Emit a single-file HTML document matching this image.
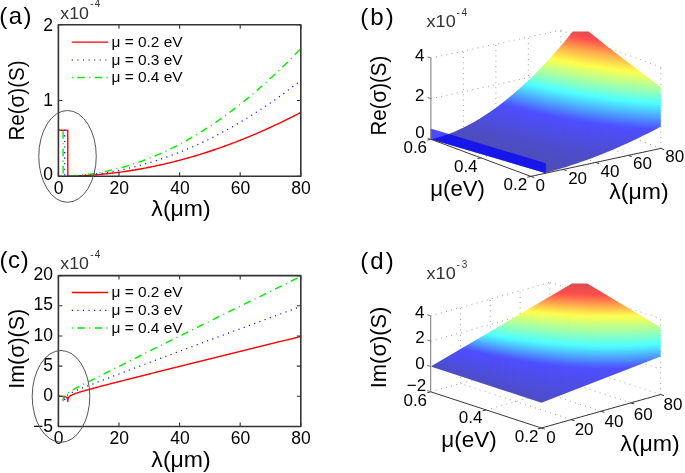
<!DOCTYPE html>
<html><head><meta charset="utf-8"><style>
html,body{margin:0;padding:0;background:#fff;}
svg{display:block;will-change:transform;}
text{font-family:'Liberation Sans',sans-serif;}
</style></head><body>
<svg width="685" height="473" viewBox="0 0 685 473">
<rect x="0" y="0" width="685" height="473" fill="#fff"/>
<clipPath id="clipa"><rect x="58.4" y="24.8" width="242.4" height="151.5"/></clipPath>
<path d="M58.70,130.20 L58.76,130.20 L58.82,130.20 L58.88,130.20 L58.95,130.20 L59.01,130.20 L59.07,130.20 L59.13,130.20 L59.19,130.20 L59.25,130.20 L59.31,130.20 L59.37,130.20 L59.43,130.20 L59.49,130.20 L59.55,130.20 L59.61,130.20 L59.67,130.20 L59.73,130.20 L59.79,130.20 L59.85,130.20 L59.91,130.20 L59.98,130.20 L60.04,130.20 L60.10,130.20 L60.16,130.20 L60.22,130.20 L60.28,130.20 L60.34,130.20 L60.40,130.20 L60.46,130.20 L60.52,130.20 L60.58,130.20 L60.64,130.20 L60.70,130.20 L60.76,130.20 L60.82,130.20 L60.88,130.20 L60.95,130.20 L61.01,130.20 L61.07,130.20 L61.13,130.20 L61.19,130.20 L61.25,130.19 L61.31,130.19 L61.37,130.19 L61.43,130.19 L61.49,130.19 L61.55,130.19 L61.61,130.19 L61.67,130.19 L61.73,130.19 L61.79,130.19 L61.85,130.19 L61.91,130.19 L61.98,130.19 L62.04,130.19 L62.10,130.19 L62.16,130.19 L62.22,130.19 L62.28,130.19 L62.34,130.19 L62.40,130.19 L62.46,130.19 L62.52,130.18 L62.58,130.18 L62.64,130.18 L62.70,130.18 L62.76,130.18 L62.82,130.18 L62.88,130.18 L62.95,130.18 L63.01,130.18 L63.07,130.18 L63.13,130.18 L63.19,130.18 L63.25,130.18 L63.31,130.18 L63.37,130.18 L63.43,130.18 L63.49,130.18 L63.55,130.17 L63.61,130.17 L63.67,130.17 L63.73,130.17 L63.79,130.17 L63.85,130.17 L63.91,130.17 L63.98,130.17 L64.04,130.17 L64.10,130.17 L64.16,130.17 L64.22,130.17 L64.28,130.17 L64.34,130.16 L64.40,130.16 L64.46,130.16 L64.52,130.16 L64.58,130.16 L64.64,130.16 L64.70,130.16 L64.76,130.16 L64.82,130.16 L64.88,130.16 L64.94,130.16 L65.01,130.16 L65.07,130.15 L65.13,130.15 L65.19,130.15 L65.25,130.15 L65.31,130.15 L65.37,130.15 L65.43,130.15 L65.49,130.15 L65.55,130.15 L65.61,130.15 L65.67,130.15 L65.73,130.14 L65.79,130.14 L65.85,130.14 L65.91,130.14 L65.97,130.14 L66.04,130.14 L66.10,130.14 L66.16,130.14 L66.22,130.14 L66.28,130.14 L66.34,130.13 L66.40,130.13 L66.46,130.13 L66.52,130.13 L66.58,130.13 L66.64,130.13 L66.70,130.13 L66.76,130.13 L66.82,130.13 L66.88,130.12 L66.94,130.12 L67.01,130.12 L67.07,130.12 L67.13,130.12 L67.19,130.12 L67.25,130.12 L67.31,130.12 L67.37,130.12 L67.43,130.11 L67.49,130.11 L67.55,130.11 L67.61,130.11 L67.67,130.11 L67.73,130.11 L67.79,176.20 L67.85,176.20 L67.91,176.20 L67.97,176.20 L68.04,176.20 L68.10,176.20 L68.16,176.20 L68.22,176.19 L68.28,176.19 L68.34,176.19 L68.40,176.19 L68.46,176.19 L68.52,176.19 L68.58,176.19 L68.64,176.19 L68.70,176.18 L68.76,176.18 L68.82,176.18 L68.88,176.18 L68.94,176.18 L69.00,176.18 L69.07,176.18 L69.13,176.17 L69.19,176.17 L69.25,176.17 L69.31,176.17 L69.37,176.17 L69.43,176.17 L69.49,176.17 L69.55,176.16 L69.61,176.16 L69.67,176.16 L69.73,176.16 L69.79,176.16 L69.85,176.16 L69.91,176.15 L69.97,176.15 L70.04,176.15 L70.10,176.15 L70.16,176.15 L70.22,176.15 L70.28,176.15 L70.34,176.14 L70.40,176.14 L70.46,176.14 L70.52,176.14 L70.58,176.14 L70.64,176.14 L70.70,176.13 L70.76,176.13 L70.82,176.13 L70.88,176.13 L70.94,176.13 L71.00,176.13 L71.07,176.12 L71.13,176.12 L71.19,176.12 L71.25,176.12 L71.31,176.12 L71.37,176.12 L71.43,176.11 L71.49,176.11 L71.55,176.11 L71.61,176.11 L71.67,176.11 L71.73,176.11 L71.79,176.10 L71.85,176.10 L71.91,176.10 L71.97,176.10 L72.03,176.10 L72.10,176.09 L72.16,176.09 L72.22,176.09 L72.28,176.09 L72.34,176.09 L72.40,176.09 L72.46,176.08 L72.52,176.08 L72.58,176.08 L72.64,176.08 L72.70,176.08 L72.76,176.07 L72.82,176.07 L72.88,176.07 L72.94,176.07 L73.00,176.07 L73.07,176.06 L73.13,176.06 L73.19,176.06 L73.25,176.06 L73.31,176.06 L73.37,176.05 L73.43,176.05 L73.49,176.05 L73.55,176.05 L73.61,176.05 L73.67,176.04 L73.73,176.04 L73.79,176.04 L73.85,176.04 L73.91,176.04 L73.97,176.03 L74.03,176.03 L74.10,176.03 L74.16,176.03 L74.22,176.03 L74.28,176.02 L74.34,176.02 L74.40,176.02 L74.46,176.02 L74.52,176.02 L74.58,176.01 L74.64,176.01 L74.70,176.01 L74.76,176.01 L74.82,176.00 L74.88,176.00 L74.94,176.00 L75.00,176.00 L75.06,176.00 L75.13,175.99 L75.19,175.99 L75.25,175.99 L75.31,175.99 L75.37,175.98 L75.43,175.98 L75.49,175.98 L75.55,175.98 L75.61,175.98 L75.67,175.97 L75.73,175.97 L75.79,175.97 L75.85,175.97 L75.91,175.96 L75.97,175.96 L76.03,175.96 L76.10,175.96 L76.16,175.95 L76.22,175.95 L76.28,175.95 L76.34,175.95 L76.40,175.95 L76.46,175.94 L76.52,175.94 L76.58,175.94 L76.64,175.94 L76.70,175.93 L76.76,175.93 L76.82,175.93 L76.88,175.93 L76.94,175.92 L77.00,175.92 L77.06,175.92 L77.13,175.92 L77.19,175.91 L77.25,175.91 L77.31,175.91 L77.37,175.91 L77.43,175.90 L77.49,175.90 L77.55,175.90 L77.61,175.90 L77.67,175.89 L77.73,175.89 L77.79,175.89 L77.85,175.89 L77.91,175.88 L77.97,175.88 L78.03,175.88 L78.09,175.88 L78.16,175.87 L78.22,175.87 L78.28,175.87 L78.34,175.86 L78.40,175.86 L78.46,175.86 L78.52,175.86 L78.58,175.85 L78.64,175.85 L78.70,175.85 L78.76,175.85 L78.82,175.84 L78.88,175.84 L78.94,175.84 L79.00,175.84 L79.06,175.83 L79.13,175.83 L79.19,175.83 L79.25,175.82 L79.31,175.82 L79.37,175.82 L79.43,175.82 L79.49,175.81 L79.55,175.81 L79.61,175.81 L79.67,175.80 L79.73,175.80 L79.79,175.80 L79.85,175.80 L79.91,175.79 L79.97,175.79 L80.03,175.79 L80.09,175.78 L80.16,175.78 L80.22,175.78 L80.28,175.78 L80.34,175.77 L80.40,175.77 L80.46,175.77 L80.52,175.76 L80.58,175.76 L80.64,175.76 L80.70,175.76 L80.76,175.75 L80.82,175.75 L80.88,175.75 L80.94,175.74 L81.00,175.74 L81.06,175.74 L81.12,175.73 L81.19,175.73 L81.25,175.73 L81.31,175.73 L81.37,175.72 L81.43,175.72 L81.49,175.72 L81.55,175.71 L81.61,175.71 L81.67,175.71 L81.73,175.70 L81.79,175.70 L81.85,175.70 L81.91,175.69 L81.97,175.69 L82.03,175.69 L82.09,175.69 L82.16,175.68 L82.22,175.68 L82.28,175.68 L82.34,175.67 L82.40,175.67 L82.46,175.67 L82.52,175.66 L82.58,175.66 L82.64,175.66 L82.70,175.65 L82.76,175.65 L82.82,175.65 L82.88,175.64 L82.94,175.64 L83.00,175.64 L83.06,175.63 L83.12,175.63 L83.19,175.63 L83.25,175.62 L83.31,175.62 L83.37,175.62 L83.43,175.61 L83.49,175.61 L83.55,175.61 L83.61,175.60 L83.67,175.60 L83.73,175.60 L83.79,175.59 L83.85,175.59 L83.91,175.59 L83.97,175.58 L84.03,175.58 L84.09,175.58 L84.16,175.57 L84.22,175.57 L84.28,175.57 L84.34,175.56 L84.40,175.56 L84.46,175.56 L84.52,175.55 L84.58,175.55 L84.64,175.55 L84.70,175.54 L84.76,175.54 L84.82,175.54 L84.88,175.53 L84.94,175.53 L85.00,175.53 L85.06,175.52 L85.12,175.52 L85.19,175.51 L85.25,175.51 L85.31,175.51 L85.37,175.50 L85.43,175.50 L85.49,175.50 L85.55,175.49 L85.61,175.49 L85.67,175.49 L85.73,175.48 L85.79,175.48 L85.85,175.47 L85.91,175.47 L85.97,175.47 L86.03,175.46 L86.09,175.46 L86.15,175.46 L86.22,175.45 L86.28,175.45 L86.34,175.45 L86.40,175.44 L86.46,175.44 L86.52,175.43 L86.58,175.43 L86.64,175.43 L86.70,175.42 L86.76,175.42 L86.82,175.42 L86.88,175.41 L86.94,175.41 L87.00,175.40 L87.06,175.40 L87.12,175.40 L87.19,175.39 L87.25,175.39 L87.31,175.39 L87.37,175.38 L87.43,175.38 L87.49,175.37 L87.55,175.37 L87.61,175.37 L87.67,175.36 L87.73,175.36 L87.79,175.35 L87.85,175.35 L87.91,175.35 L87.97,175.34 L88.03,175.34 L88.09,175.33 L88.15,175.33 L88.22,175.33 L88.28,175.32 L88.34,175.32 L88.40,175.31 L88.46,175.31 L88.52,175.31 L88.58,175.30 L88.64,175.30 L88.70,175.29 L90.22,175.19 L91.73,175.08 L93.25,174.97 L94.76,174.85 L96.28,174.73 L97.79,174.60 L99.31,174.47 L100.82,174.33 L102.34,174.19 L103.85,174.04 L105.37,173.89 L106.88,173.73 L108.39,173.56 L109.91,173.40 L111.42,173.22 L112.94,173.04 L114.46,172.86 L115.97,172.67 L117.48,172.48 L119.00,172.28 L120.51,172.08 L122.03,171.87 L123.55,171.66 L125.06,171.44 L126.57,171.21 L128.09,170.99 L129.61,170.75 L131.12,170.51 L132.63,170.27 L134.15,170.02 L135.66,169.77 L137.18,169.51 L138.69,169.25 L140.21,168.98 L141.72,168.70 L143.24,168.43 L144.75,168.14 L146.27,167.85 L147.78,167.56 L149.30,167.26 L150.81,166.96 L152.33,166.65 L153.84,166.34 L155.36,166.02 L156.88,165.69 L158.39,165.37 L159.91,165.03 L161.42,164.69 L162.94,164.35 L164.45,164.00 L165.97,163.65 L167.48,163.29 L169.00,162.93 L170.51,162.56 L172.03,162.19 L173.54,161.81 L175.06,161.42 L176.57,161.04 L178.09,160.64 L179.60,160.25 L181.12,159.84 L182.63,159.43 L184.15,159.02 L185.66,158.60 L187.18,158.18 L188.69,157.75 L190.21,157.32 L191.72,156.88 L193.24,156.44 L194.75,155.99 L196.27,155.54 L197.78,155.08 L199.30,154.62 L200.81,154.15 L202.33,153.68 L203.84,153.20 L205.35,152.72 L206.87,152.23 L208.39,151.74 L209.90,151.24 L211.42,150.74 L212.93,150.23 L214.45,149.72 L215.96,149.20 L217.47,148.68 L218.99,148.15 L220.50,147.62 L222.02,147.08 L223.54,146.54 L225.05,145.99 L226.57,145.44 L228.08,144.89 L229.59,144.33 L231.11,143.76 L232.62,143.19 L234.14,142.61 L235.66,142.03 L237.17,141.44 L238.69,140.85 L240.20,140.26 L241.72,139.66 L243.23,139.05 L244.75,138.44 L246.26,137.83 L247.78,137.20 L249.29,136.58 L250.81,135.95 L252.32,135.31 L253.84,134.67 L255.35,134.03 L256.87,133.38 L258.38,132.73 L259.89,132.07 L261.41,131.40 L262.93,130.73 L264.44,130.06 L265.95,129.38 L267.47,128.70 L268.98,128.01 L270.50,127.31 L272.01,126.62 L273.53,125.91 L275.05,125.20 L276.56,124.49 L278.07,123.77 L279.59,123.05 L281.11,122.32 L282.62,121.59 L284.13,120.85 L285.65,120.11 L287.17,119.36 L288.68,118.61 L290.19,117.86 L291.71,117.09 L293.22,116.33 L294.74,115.56 L296.25,114.78 L297.77,114.00 L299.28,113.22 L300.80,112.43" fill="none" stroke="#ff0000" stroke-width="1.4"  stroke-linejoin="round" clip-path="url(#clipa)"/>
<path d="M58.70,130.20 L58.76,130.20 L58.82,130.20 L58.88,130.20 L58.95,130.20 L59.01,130.20 L59.07,130.20 L59.13,130.20 L59.19,130.20 L59.25,130.20 L59.31,130.20 L59.37,130.20 L59.43,130.20 L59.49,130.20 L59.55,130.20 L59.61,130.20 L59.67,130.20 L59.73,130.20 L59.79,130.20 L59.85,130.20 L59.91,130.20 L59.98,130.20 L60.04,130.20 L60.10,130.20 L60.16,130.20 L60.22,130.20 L60.28,130.20 L60.34,130.20 L60.40,130.20 L60.46,130.20 L60.52,130.20 L60.58,130.20 L60.64,130.20 L60.70,130.19 L60.76,130.19 L60.82,130.19 L60.88,130.19 L60.95,130.19 L61.01,130.19 L61.07,130.19 L61.13,130.19 L61.19,130.19 L61.25,130.19 L61.31,130.19 L61.37,130.19 L61.43,130.19 L61.49,130.19 L61.55,130.19 L61.61,130.19 L61.67,130.19 L61.73,130.19 L61.79,130.18 L61.85,130.18 L61.91,130.18 L61.98,130.18 L62.04,130.18 L62.10,130.18 L62.16,130.18 L62.22,130.18 L62.28,130.18 L62.34,130.18 L62.40,130.18 L62.46,130.18 L62.52,130.18 L62.58,130.17 L62.64,130.17 L62.70,130.17 L62.76,130.17 L62.82,130.17 L62.88,130.17 L62.95,130.17 L63.01,130.17 L63.07,130.17 L63.13,130.17 L63.19,130.17 L63.25,130.16 L63.31,130.16 L63.37,130.16 L63.43,130.16 L63.49,130.16 L63.55,130.16 L63.61,130.16 L63.67,130.16 L63.73,130.16 L63.79,130.16 L63.85,130.15 L63.91,130.15 L63.98,130.15 L64.04,130.15 L64.10,130.15 L64.16,130.15 L64.22,130.15 L64.28,130.15 L64.34,130.15 L64.40,130.14 L64.46,130.14 L64.52,130.14 L64.58,130.14 L64.64,130.14 L64.70,176.23 L64.76,176.23 L64.82,176.23 L64.88,176.23 L64.94,176.23 L65.01,176.23 L65.07,176.23 L65.13,176.23 L65.19,176.22 L65.25,176.22 L65.31,176.22 L65.37,176.22 L65.43,176.22 L65.49,176.22 L65.55,176.22 L65.61,176.21 L65.67,176.21 L65.73,176.21 L65.79,176.21 L65.85,176.21 L65.91,176.21 L65.97,176.21 L66.04,176.20 L66.10,176.20 L66.16,176.20 L66.22,176.20 L66.28,176.20 L66.34,176.20 L66.40,176.19 L66.46,176.19 L66.52,176.19 L66.58,176.19 L66.64,176.19 L66.70,176.19 L66.76,176.19 L66.82,176.18 L66.88,176.18 L66.94,176.18 L67.01,176.18 L67.07,176.18 L67.13,176.17 L67.19,176.17 L67.25,176.17 L67.31,176.17 L67.37,176.17 L67.43,176.17 L67.49,176.16 L67.55,176.16 L67.61,176.16 L67.67,176.16 L67.73,176.16 L67.79,176.16 L67.85,176.15 L67.91,176.15 L67.97,176.15 L68.04,176.15 L68.10,176.15 L68.16,176.14 L68.22,176.14 L68.28,176.14 L68.34,176.14 L68.40,176.14 L68.46,176.13 L68.52,176.13 L68.58,176.13 L68.64,176.13 L68.70,176.13 L68.76,176.12 L68.82,176.12 L68.88,176.12 L68.94,176.12 L69.00,176.12 L69.07,176.11 L69.13,176.11 L69.19,176.11 L69.25,176.11 L69.31,176.10 L69.37,176.10 L69.43,176.10 L69.49,176.10 L69.55,176.10 L69.61,176.09 L69.67,176.09 L69.73,176.09 L69.79,176.09 L69.85,176.08 L69.91,176.08 L69.97,176.08 L70.04,176.08 L70.10,176.08 L70.16,176.07 L70.22,176.07 L70.28,176.07 L70.34,176.07 L70.40,176.06 L70.46,176.06 L70.52,176.06 L70.58,176.06 L70.64,176.05 L70.70,176.05 L70.76,176.05 L70.82,176.05 L70.88,176.04 L70.94,176.04 L71.00,176.04 L71.07,176.04 L71.13,176.03 L71.19,176.03 L71.25,176.03 L71.31,176.03 L71.37,176.02 L71.43,176.02 L71.49,176.02 L71.55,176.02 L71.61,176.01 L71.67,176.01 L71.73,176.01 L71.79,176.01 L71.85,176.00 L71.91,176.00 L71.97,176.00 L72.03,175.99 L72.10,175.99 L72.16,175.99 L72.22,175.99 L72.28,175.98 L72.34,175.98 L72.40,175.98 L72.46,175.98 L72.52,175.97 L72.58,175.97 L72.64,175.97 L72.70,175.96 L72.76,175.96 L72.82,175.96 L72.88,175.96 L72.94,175.95 L73.00,175.95 L73.07,175.95 L73.13,175.94 L73.19,175.94 L73.25,175.94 L73.31,175.94 L73.37,175.93 L73.43,175.93 L73.49,175.93 L73.55,175.92 L73.61,175.92 L73.67,175.92 L73.73,175.91 L73.79,175.91 L73.85,175.91 L73.91,175.90 L73.97,175.90 L74.03,175.90 L74.10,175.90 L74.16,175.89 L74.22,175.89 L74.28,175.89 L74.34,175.88 L74.40,175.88 L74.46,175.88 L74.52,175.87 L74.58,175.87 L74.64,175.87 L74.70,175.86 L74.76,175.86 L74.82,175.86 L74.88,175.85 L74.94,175.85 L75.00,175.85 L75.06,175.84 L75.13,175.84 L75.19,175.84 L75.25,175.83 L75.31,175.83 L75.37,175.83 L75.43,175.82 L75.49,175.82 L75.55,175.82 L75.61,175.81 L75.67,175.81 L75.73,175.81 L75.79,175.80 L75.85,175.80 L75.91,175.80 L75.97,175.79 L76.03,175.79 L76.10,175.79 L76.16,175.78 L76.22,175.78 L76.28,175.78 L76.34,175.77 L76.40,175.77 L76.46,175.76 L76.52,175.76 L76.58,175.76 L76.64,175.75 L76.70,175.75 L76.76,175.75 L76.82,175.74 L76.88,175.74 L76.94,175.74 L77.00,175.73 L77.06,175.73 L77.13,175.72 L77.19,175.72 L77.25,175.72 L77.31,175.71 L77.37,175.71 L77.43,175.71 L77.49,175.70 L77.55,175.70 L77.61,175.69 L77.67,175.69 L77.73,175.69 L77.79,175.68 L77.85,175.68 L77.91,175.67 L77.97,175.67 L78.03,175.67 L78.09,175.66 L78.16,175.66 L78.22,175.66 L78.28,175.65 L78.34,175.65 L78.40,175.64 L78.46,175.64 L78.52,175.64 L78.58,175.63 L78.64,175.63 L78.70,175.62 L78.76,175.62 L78.82,175.62 L78.88,175.61 L78.94,175.61 L79.00,175.60 L79.06,175.60 L79.13,175.59 L79.19,175.59 L79.25,175.59 L79.31,175.58 L79.37,175.58 L79.43,175.57 L79.49,175.57 L79.55,175.57 L79.61,175.56 L79.67,175.56 L79.73,175.55 L79.79,175.55 L79.85,175.54 L79.91,175.54 L79.97,175.54 L80.03,175.53 L80.09,175.53 L80.16,175.52 L80.22,175.52 L80.28,175.51 L80.34,175.51 L80.40,175.51 L80.46,175.50 L80.52,175.50 L80.58,175.49 L80.64,175.49 L80.70,175.48 L80.76,175.48 L80.82,175.47 L80.88,175.47 L80.94,175.47 L81.00,175.46 L81.06,175.46 L81.12,175.45 L81.19,175.45 L81.25,175.44 L81.31,175.44 L81.37,175.43 L81.43,175.43 L81.49,175.42 L81.55,175.42 L81.61,175.42 L81.67,175.41 L81.73,175.41 L81.79,175.40 L81.85,175.40 L81.91,175.39 L81.97,175.39 L82.03,175.38 L82.09,175.38 L82.16,175.37 L82.22,175.37 L82.28,175.36 L82.34,175.36 L82.40,175.35 L82.46,175.35 L82.52,175.34 L82.58,175.34 L82.64,175.34 L82.70,175.33 L82.76,175.33 L82.82,175.32 L82.88,175.32 L82.94,175.31 L83.00,175.31 L83.06,175.30 L83.12,175.30 L83.19,175.29 L83.25,175.29 L83.31,175.28 L83.37,175.28 L83.43,175.27 L83.49,175.27 L83.55,175.26 L83.61,175.26 L83.67,175.25 L83.73,175.25 L83.79,175.24 L83.85,175.24 L83.91,175.23 L83.97,175.23 L84.03,175.22 L84.09,175.22 L84.16,175.21 L84.22,175.21 L84.28,175.20 L84.34,175.20 L84.40,175.19 L84.46,175.18 L84.52,175.18 L84.58,175.17 L84.64,175.17 L84.70,175.16 L84.76,175.16 L84.82,175.15 L84.88,175.15 L84.94,175.14 L85.00,175.14 L85.06,175.13 L85.12,175.13 L85.19,175.12 L85.25,175.12 L85.31,175.11 L85.37,175.11 L85.43,175.10 L85.49,175.09 L85.55,175.09 L85.61,175.08 L85.67,175.08 L85.73,175.07 L85.79,175.07 L85.85,175.06 L85.91,175.06 L85.97,175.05 L86.03,175.05 L86.09,175.04 L86.15,175.03 L86.22,175.03 L86.28,175.02 L86.34,175.02 L86.40,175.01 L86.46,175.01 L86.52,175.00 L86.58,175.00 L86.64,174.99 L86.70,174.98 L86.76,174.98 L86.82,174.97 L86.88,174.97 L86.94,174.96 L87.00,174.96 L87.06,174.95 L87.12,174.95 L87.19,174.94 L87.25,174.93 L87.31,174.93 L87.37,174.92 L87.43,174.92 L87.49,174.91 L87.55,174.90 L87.61,174.90 L87.67,174.89 L87.73,174.89 L87.79,174.88 L87.85,174.88 L87.91,174.87 L87.97,174.86 L88.03,174.86 L88.09,174.85 L88.15,174.85 L88.22,174.84 L88.28,174.83 L88.34,174.83 L88.40,174.82 L88.46,174.82 L88.52,174.81 L88.58,174.80 L88.64,174.80 L88.70,174.79 L90.22,174.64 L91.73,174.48 L93.25,174.31 L94.76,174.13 L96.28,173.94 L97.79,173.75 L99.31,173.55 L100.82,173.35 L102.34,173.13 L103.85,172.91 L105.37,172.68 L106.88,172.44 L108.39,172.20 L109.91,171.94 L111.42,171.68 L112.94,171.42 L114.46,171.14 L115.97,170.86 L117.48,170.57 L119.00,170.27 L120.51,169.97 L122.03,169.65 L123.55,169.33 L125.06,169.01 L126.57,168.67 L128.09,168.33 L129.61,167.98 L131.12,167.62 L132.63,167.26 L134.15,166.88 L135.66,166.50 L137.18,166.11 L138.69,165.72 L140.21,165.32 L141.72,164.91 L143.24,164.49 L144.75,164.06 L146.27,163.63 L147.78,163.19 L149.30,162.74 L150.81,162.29 L152.33,161.83 L153.84,161.35 L155.36,160.88 L156.88,160.39 L158.39,159.90 L159.91,159.40 L161.42,158.89 L162.94,158.38 L164.45,157.85 L165.97,157.32 L167.48,156.79 L169.00,156.24 L170.51,155.69 L172.03,155.13 L173.54,154.56 L175.06,153.99 L176.57,153.40 L178.09,152.81 L179.60,152.22 L181.12,151.61 L182.63,151.00 L184.15,150.38 L185.66,149.75 L187.18,149.12 L188.69,148.48 L190.21,147.83 L191.72,147.17 L193.24,146.51 L194.75,145.84 L196.27,145.16 L197.78,144.47 L199.30,143.78 L200.81,143.07 L202.33,142.37 L203.84,141.65 L205.35,140.93 L206.87,140.19 L208.39,139.46 L209.90,138.71 L211.42,137.96 L212.93,137.20 L214.45,136.43 L215.96,135.65 L217.47,134.87 L218.99,134.08 L220.50,133.28 L222.02,132.47 L223.54,131.66 L225.05,130.84 L226.57,130.01 L228.08,129.18 L229.59,128.34 L231.11,127.49 L232.62,126.63 L234.14,125.77 L235.66,124.90 L237.17,124.02 L238.69,123.13 L240.20,122.24 L241.72,121.34 L243.23,120.43 L244.75,119.51 L246.26,118.59 L247.78,117.66 L249.29,116.72 L250.81,115.77 L252.32,114.82 L253.84,113.86 L255.35,112.89 L256.87,111.92 L258.38,110.94 L259.89,109.95 L261.41,108.95 L262.93,107.95 L264.44,106.94 L265.95,105.92 L267.47,104.89 L268.98,103.86 L270.50,102.82 L272.01,101.77 L273.53,100.72 L275.05,99.66 L276.56,98.59 L278.07,97.51 L279.59,96.43 L281.11,95.33 L282.62,94.24 L284.13,93.13 L285.65,92.02 L287.17,90.90 L288.68,89.77 L290.19,88.63 L291.71,87.49 L293.22,86.34 L294.74,85.19 L296.25,84.02 L297.77,82.85 L299.28,81.67 L300.80,80.49" fill="none" stroke="#0000ff" stroke-width="1.2" stroke-dasharray="1.1 4.47" stroke-linejoin="round" clip-path="url(#clipa)"/>
<path d="M58.70,130.20 L58.76,130.20 L58.82,130.20 L58.88,130.20 L58.95,130.20 L59.01,130.20 L59.07,130.20 L59.13,130.20 L59.19,130.20 L59.25,130.20 L59.31,130.20 L59.37,130.20 L59.43,130.20 L59.49,130.20 L59.55,130.20 L59.61,130.20 L59.67,130.20 L59.73,130.20 L59.79,130.20 L59.85,130.20 L59.91,130.20 L59.98,130.20 L60.04,130.20 L60.10,130.20 L60.16,130.20 L60.22,130.20 L60.28,130.20 L60.34,130.20 L60.40,130.19 L60.46,130.19 L60.52,130.19 L60.58,130.19 L60.64,130.19 L60.70,130.19 L60.76,130.19 L60.82,130.19 L60.88,130.19 L60.95,130.19 L61.01,130.19 L61.07,130.19 L61.13,130.19 L61.19,130.19 L61.25,130.19 L61.31,130.19 L61.37,130.18 L61.43,130.18 L61.49,130.18 L61.55,130.18 L61.61,130.18 L61.67,130.18 L61.73,130.18 L61.79,130.18 L61.85,130.18 L61.91,130.18 L61.98,130.18 L62.04,130.17 L62.10,130.17 L62.16,130.17 L62.22,130.17 L62.28,130.17 L62.34,130.17 L62.40,130.17 L62.46,130.17 L62.52,130.17 L62.58,130.17 L62.64,130.16 L62.70,130.16 L62.76,130.16 L62.82,130.16 L62.88,130.16 L62.95,130.16 L63.01,130.16 L63.07,130.16 L63.13,176.25 L63.19,176.25 L63.25,176.25 L63.31,176.25 L63.37,176.25 L63.43,176.24 L63.49,176.24 L63.55,176.24 L63.61,176.24 L63.67,176.24 L63.73,176.24 L63.79,176.24 L63.85,176.23 L63.91,176.23 L63.98,176.23 L64.04,176.23 L64.10,176.23 L64.16,176.23 L64.22,176.23 L64.28,176.22 L64.34,176.22 L64.40,176.22 L64.46,176.22 L64.52,176.22 L64.58,176.22 L64.64,176.21 L64.70,176.21 L64.76,176.21 L64.82,176.21 L64.88,176.21 L64.94,176.21 L65.01,176.20 L65.07,176.20 L65.13,176.20 L65.19,176.20 L65.25,176.20 L65.31,176.20 L65.37,176.19 L65.43,176.19 L65.49,176.19 L65.55,176.19 L65.61,176.19 L65.67,176.18 L65.73,176.18 L65.79,176.18 L65.85,176.18 L65.91,176.18 L65.97,176.17 L66.04,176.17 L66.10,176.17 L66.16,176.17 L66.22,176.17 L66.28,176.16 L66.34,176.16 L66.40,176.16 L66.46,176.16 L66.52,176.16 L66.58,176.15 L66.64,176.15 L66.70,176.15 L66.76,176.15 L66.82,176.14 L66.88,176.14 L66.94,176.14 L67.01,176.14 L67.07,176.14 L67.13,176.13 L67.19,176.13 L67.25,176.13 L67.31,176.13 L67.37,176.12 L67.43,176.12 L67.49,176.12 L67.55,176.12 L67.61,176.11 L67.67,176.11 L67.73,176.11 L67.79,176.11 L67.85,176.10 L67.91,176.10 L67.97,176.10 L68.04,176.10 L68.10,176.09 L68.16,176.09 L68.22,176.09 L68.28,176.09 L68.34,176.08 L68.40,176.08 L68.46,176.08 L68.52,176.08 L68.58,176.07 L68.64,176.07 L68.70,176.07 L68.76,176.06 L68.82,176.06 L68.88,176.06 L68.94,176.06 L69.00,176.05 L69.07,176.05 L69.13,176.05 L69.19,176.05 L69.25,176.04 L69.31,176.04 L69.37,176.04 L69.43,176.03 L69.49,176.03 L69.55,176.03 L69.61,176.02 L69.67,176.02 L69.73,176.02 L69.79,176.02 L69.85,176.01 L69.91,176.01 L69.97,176.01 L70.04,176.00 L70.10,176.00 L70.16,176.00 L70.22,175.99 L70.28,175.99 L70.34,175.99 L70.40,175.98 L70.46,175.98 L70.52,175.98 L70.58,175.98 L70.64,175.97 L70.70,175.97 L70.76,175.97 L70.82,175.96 L70.88,175.96 L70.94,175.96 L71.00,175.95 L71.07,175.95 L71.13,175.95 L71.19,175.94 L71.25,175.94 L71.31,175.94 L71.37,175.93 L71.43,175.93 L71.49,175.92 L71.55,175.92 L71.61,175.92 L71.67,175.91 L71.73,175.91 L71.79,175.91 L71.85,175.90 L71.91,175.90 L71.97,175.90 L72.03,175.89 L72.10,175.89 L72.16,175.89 L72.22,175.88 L72.28,175.88 L72.34,175.87 L72.40,175.87 L72.46,175.87 L72.52,175.86 L72.58,175.86 L72.64,175.86 L72.70,175.85 L72.76,175.85 L72.82,175.84 L72.88,175.84 L72.94,175.84 L73.00,175.83 L73.07,175.83 L73.13,175.83 L73.19,175.82 L73.25,175.82 L73.31,175.81 L73.37,175.81 L73.43,175.81 L73.49,175.80 L73.55,175.80 L73.61,175.79 L73.67,175.79 L73.73,175.79 L73.79,175.78 L73.85,175.78 L73.91,175.77 L73.97,175.77 L74.03,175.76 L74.10,175.76 L74.16,175.76 L74.22,175.75 L74.28,175.75 L74.34,175.74 L74.40,175.74 L74.46,175.74 L74.52,175.73 L74.58,175.73 L74.64,175.72 L74.70,175.72 L74.76,175.71 L74.82,175.71 L74.88,175.71 L74.94,175.70 L75.00,175.70 L75.06,175.69 L75.13,175.69 L75.19,175.68 L75.25,175.68 L75.31,175.67 L75.37,175.67 L75.43,175.67 L75.49,175.66 L75.55,175.66 L75.61,175.65 L75.67,175.65 L75.73,175.64 L75.79,175.64 L75.85,175.63 L75.91,175.63 L75.97,175.62 L76.03,175.62 L76.10,175.61 L76.16,175.61 L76.22,175.60 L76.28,175.60 L76.34,175.60 L76.40,175.59 L76.46,175.59 L76.52,175.58 L76.58,175.58 L76.64,175.57 L76.70,175.57 L76.76,175.56 L76.82,175.56 L76.88,175.55 L76.94,175.55 L77.00,175.54 L77.06,175.54 L77.13,175.53 L77.19,175.53 L77.25,175.52 L77.31,175.52 L77.37,175.51 L77.43,175.51 L77.49,175.50 L77.55,175.50 L77.61,175.49 L77.67,175.49 L77.73,175.48 L77.79,175.48 L77.85,175.47 L77.91,175.47 L77.97,175.46 L78.03,175.46 L78.09,175.45 L78.16,175.45 L78.22,175.44 L78.28,175.43 L78.34,175.43 L78.40,175.42 L78.46,175.42 L78.52,175.41 L78.58,175.41 L78.64,175.40 L78.70,175.40 L78.76,175.39 L78.82,175.39 L78.88,175.38 L78.94,175.38 L79.00,175.37 L79.06,175.36 L79.13,175.36 L79.19,175.35 L79.25,175.35 L79.31,175.34 L79.37,175.34 L79.43,175.33 L79.49,175.33 L79.55,175.32 L79.61,175.31 L79.67,175.31 L79.73,175.30 L79.79,175.30 L79.85,175.29 L79.91,175.29 L79.97,175.28 L80.03,175.28 L80.09,175.27 L80.16,175.26 L80.22,175.26 L80.28,175.25 L80.34,175.25 L80.40,175.24 L80.46,175.23 L80.52,175.23 L80.58,175.22 L80.64,175.22 L80.70,175.21 L80.76,175.21 L80.82,175.20 L80.88,175.19 L80.94,175.19 L81.00,175.18 L81.06,175.18 L81.12,175.17 L81.19,175.16 L81.25,175.16 L81.31,175.15 L81.37,175.14 L81.43,175.14 L81.49,175.13 L81.55,175.13 L81.61,175.12 L81.67,175.11 L81.73,175.11 L81.79,175.10 L81.85,175.10 L81.91,175.09 L81.97,175.08 L82.03,175.08 L82.09,175.07 L82.16,175.06 L82.22,175.06 L82.28,175.05 L82.34,175.05 L82.40,175.04 L82.46,175.03 L82.52,175.03 L82.58,175.02 L82.64,175.01 L82.70,175.01 L82.76,175.00 L82.82,174.99 L82.88,174.99 L82.94,174.98 L83.00,174.97 L83.06,174.97 L83.12,174.96 L83.19,174.95 L83.25,174.95 L83.31,174.94 L83.37,174.94 L83.43,174.93 L83.49,174.92 L83.55,174.92 L83.61,174.91 L83.67,174.90 L83.73,174.89 L83.79,174.89 L83.85,174.88 L83.91,174.87 L83.97,174.87 L84.03,174.86 L84.09,174.85 L84.16,174.85 L84.22,174.84 L84.28,174.83 L84.34,174.83 L84.40,174.82 L84.46,174.81 L84.52,174.81 L84.58,174.80 L84.64,174.79 L84.70,174.79 L84.76,174.78 L84.82,174.77 L84.88,174.76 L84.94,174.76 L85.00,174.75 L85.06,174.74 L85.12,174.74 L85.19,174.73 L85.25,174.72 L85.31,174.71 L85.37,174.71 L85.43,174.70 L85.49,174.69 L85.55,174.69 L85.61,174.68 L85.67,174.67 L85.73,174.66 L85.79,174.66 L85.85,174.65 L85.91,174.64 L85.97,174.64 L86.03,174.63 L86.09,174.62 L86.15,174.61 L86.22,174.61 L86.28,174.60 L86.34,174.59 L86.40,174.58 L86.46,174.58 L86.52,174.57 L86.58,174.56 L86.64,174.55 L86.70,174.55 L86.76,174.54 L86.82,174.53 L86.88,174.52 L86.94,174.52 L87.00,174.51 L87.06,174.50 L87.12,174.49 L87.19,174.49 L87.25,174.48 L87.31,174.47 L87.37,174.46 L87.43,174.46 L87.49,174.45 L87.55,174.44 L87.61,174.43 L87.67,174.42 L87.73,174.42 L87.79,174.41 L87.85,174.40 L87.91,174.39 L87.97,174.39 L88.03,174.38 L88.09,174.37 L88.15,174.36 L88.22,174.35 L88.28,174.35 L88.34,174.34 L88.40,174.33 L88.46,174.32 L88.52,174.31 L88.58,174.31 L88.64,174.30 L88.70,174.29 L90.22,174.08 L91.73,173.87 L93.25,173.64 L94.76,173.41 L96.28,173.16 L97.79,172.90 L99.31,172.64 L100.82,172.36 L102.34,172.07 L103.85,171.78 L105.37,171.47 L106.88,171.15 L108.39,170.83 L109.91,170.49 L111.42,170.15 L112.94,169.79 L114.46,169.42 L115.97,169.05 L117.48,168.66 L119.00,168.26 L120.51,167.85 L122.03,167.44 L123.55,167.01 L125.06,166.57 L126.57,166.13 L128.09,165.67 L129.61,165.20 L131.12,164.73 L132.63,164.24 L134.15,163.74 L135.66,163.24 L137.18,162.72 L138.69,162.19 L140.21,161.66 L141.72,161.11 L143.24,160.55 L144.75,159.98 L146.27,159.41 L147.78,158.82 L149.30,158.22 L150.81,157.62 L152.33,157.00 L153.84,156.37 L155.36,155.74 L156.88,155.09 L158.39,154.43 L159.91,153.77 L161.42,153.09 L162.94,152.40 L164.45,151.71 L165.97,151.00 L167.48,150.28 L169.00,149.56 L170.51,148.82 L172.03,148.07 L173.54,147.32 L175.06,146.55 L176.57,145.77 L178.09,144.99 L179.60,144.19 L181.12,143.38 L182.63,142.57 L184.15,141.74 L185.66,140.91 L187.18,140.06 L188.69,139.20 L190.21,138.34 L191.72,137.46 L193.24,136.58 L194.75,135.68 L196.27,134.77 L197.78,133.86 L199.30,132.93 L200.81,132.00 L202.33,131.05 L203.84,130.10 L205.35,129.13 L206.87,128.16 L208.39,127.17 L209.90,126.18 L211.42,125.17 L212.93,124.16 L214.45,123.14 L215.96,122.10 L217.47,121.06 L218.99,120.00 L220.50,118.94 L222.02,117.87 L223.54,116.78 L225.05,115.69 L226.57,114.59 L228.08,113.47 L229.59,112.35 L231.11,111.22 L232.62,110.08 L234.14,108.92 L235.66,107.76 L237.17,106.59 L238.69,105.41 L240.20,104.22 L241.72,103.01 L243.23,101.80 L244.75,100.58 L246.26,99.35 L247.78,98.11 L249.29,96.86 L250.81,95.60 L252.32,94.33 L253.84,93.05 L255.35,91.76 L256.87,90.46 L258.38,89.15 L259.89,87.83 L261.41,86.50 L262.93,85.17 L264.44,83.82 L265.95,82.46 L267.47,81.09 L268.98,79.71 L270.50,78.33 L272.01,76.93 L273.53,75.52 L275.05,74.11 L276.56,72.68 L278.07,71.25 L279.59,69.80 L281.11,68.35 L282.62,66.88 L284.13,65.41 L285.65,63.92 L287.17,62.43 L288.68,60.93 L290.19,59.41 L291.71,57.89 L293.22,56.36 L294.74,54.82 L296.25,53.26 L297.77,51.70 L299.28,50.13 L300.80,48.55" fill="none" stroke="#00ee00" stroke-width="1.4" stroke-dasharray="1.1 4.4 7.5 4.4" stroke-linejoin="round" clip-path="url(#clipa)"/>
<rect x="58.4" y="24.8" width="242.4" height="151.5" fill="none" stroke="#333" stroke-width="1.6" stroke-linejoin="round"/>
<text x="53.83" y="193.82" font-size="17.5" fill="#000" >0</text>
<text x="109.47" y="193.82" font-size="17.5" fill="#000" >20</text>
<text x="170.31" y="193.82" font-size="17.5" fill="#000" >40</text>
<text x="230.66" y="193.82" font-size="17.5" fill="#000" >60</text>
<text x="291.33" y="193.82" font-size="17.5" fill="#000" >80</text>
<text x="43.15" y="180.12" font-size="17.5" fill="#000" >0</text>
<text x="43.32" y="106.17" font-size="17.5" fill="#000" >1</text>
<text x="43.35" y="30.91" font-size="17.5" fill="#000" >2</text>
<path d="M58.40,176.3 V172.3 M58.40,24.8 V28.8 M119.00,176.3 V172.3 M119.00,24.8 V28.8 M179.60,176.3 V172.3 M179.60,24.8 V28.8 M240.20,176.3 V172.3 M240.20,24.8 V28.8 M300.80,176.3 V172.3 M300.80,24.8 V28.8 M58.4,176.30 H62.4 M300.8,176.30 H296.8 M58.4,100.55 H62.4 M300.8,100.55 H296.8 M58.4,24.80 H62.4 M300.8,24.80 H296.8" stroke="#333" stroke-width="1.1" fill="none"/>
<path d="M71.8,42.1 H108.2" stroke="#ff0000" stroke-width="1.4"  fill="none"/>
<text x="111.46" y="46.70" font-size="15.5" fill="#000" textLength="71.11" lengthAdjust="spacingAndGlyphs" >μ = 0.2 eV</text>
<path d="M71.8,60 H108.2" stroke="#0000ff" stroke-width="1.2" stroke-dasharray="1.1 4.47" fill="none"/>
<text x="111.46" y="64.60" font-size="15.5" fill="#000" textLength="71.11" lengthAdjust="spacingAndGlyphs" >μ = 0.3 eV</text>
<path d="M71.8,77.5 H108.2" stroke="#00ee00" stroke-width="1.4" stroke-dasharray="1.1 4.4 7.5 4.4" fill="none"/>
<text x="111.46" y="82.10" font-size="15.5" fill="#000" textLength="71.11" lengthAdjust="spacingAndGlyphs" >μ = 0.4 eV</text>
<text x="60.30" y="19.23" font-size="17" fill="#333" textLength="28.59" lengthAdjust="spacingAndGlyphs" >x10</text>
<text x="90.16" y="7.08" font-size="10" fill="#333" textLength="10.14" lengthAdjust="spacing">-4</text>
<ellipse cx="67.5" cy="156.4" rx="28.75" ry="45.9" fill="none" stroke="#555" stroke-width="1"/>
<text x="-0.79" y="24.40" font-size="24" fill="#000" textLength="32.28" lengthAdjust="spacing">(a)</text>
<text transform="translate(23.80,140.59) rotate(-90)" x="0" y="0" font-size="22" fill="#000" textLength="80.27" lengthAdjust="spacingAndGlyphs">Re(σ)(S)</text>
<text x="151.39" y="216.44" font-size="22" fill="#000" textLength="59.28" lengthAdjust="spacingAndGlyphs" >λ(μm)</text>
<clipPath id="clipc"><rect x="58.4" y="275.6" width="242.4" height="150.89999999999998"/></clipPath>
<path d="M58.70,396.32 L58.76,396.32 L58.82,396.32 L58.88,396.32 L58.95,396.32 L59.01,396.32 L59.07,396.32 L59.13,396.32 L59.19,396.32 L59.25,396.32 L59.31,396.32 L59.37,396.32 L59.43,396.32 L59.49,396.32 L59.55,396.32 L59.61,396.32 L59.67,396.32 L59.73,396.32 L59.79,396.32 L59.85,396.32 L59.91,396.32 L59.98,396.32 L60.04,396.32 L60.10,396.32 L60.16,396.33 L60.22,396.33 L60.28,396.33 L60.34,396.33 L60.40,396.33 L60.46,396.33 L60.52,396.33 L60.58,396.33 L60.64,396.33 L60.70,396.33 L60.76,396.33 L60.82,396.33 L60.88,396.34 L60.95,396.34 L61.01,396.34 L61.07,396.34 L61.13,396.34 L61.19,396.34 L61.25,396.34 L61.31,396.34 L61.37,396.35 L61.43,396.35 L61.49,396.35 L61.55,396.35 L61.61,396.35 L61.67,396.36 L61.73,396.36 L61.79,396.36 L61.85,396.36 L61.91,396.36 L61.98,396.37 L62.04,396.37 L62.10,396.37 L62.16,396.38 L62.22,396.38 L62.28,396.38 L62.34,396.38 L62.40,396.39 L62.46,396.39 L62.52,396.39 L62.58,396.40 L62.64,396.40 L62.70,396.41 L62.76,396.41 L62.82,396.41 L62.88,396.42 L62.95,396.42 L63.01,396.43 L63.07,396.43 L63.13,396.44 L63.19,396.44 L63.25,396.45 L63.31,396.45 L63.37,396.46 L63.43,396.47 L63.49,396.47 L63.55,396.48 L63.61,396.48 L63.67,396.49 L63.73,396.50 L63.79,396.51 L63.85,396.51 L63.91,396.52 L63.98,396.53 L64.04,396.54 L64.10,396.55 L64.16,396.56 L64.22,396.56 L64.28,396.57 L64.34,396.58 L64.40,396.59 L64.46,396.60 L64.52,396.62 L64.58,396.63 L64.64,396.64 L64.70,396.65 L64.76,396.66 L64.82,396.68 L64.88,396.69 L64.94,396.70 L65.01,396.72 L65.07,396.73 L65.13,396.75 L65.19,396.77 L65.25,396.78 L65.31,396.80 L65.37,396.82 L65.43,396.84 L65.49,396.86 L65.55,396.88 L65.61,396.90 L65.67,396.92 L65.73,396.94 L65.79,396.97 L65.85,396.99 L65.91,397.02 L65.97,397.05 L66.04,397.07 L66.10,397.11 L66.16,397.14 L66.22,397.17 L66.28,397.20 L66.34,397.24 L66.40,397.28 L66.46,397.32 L66.52,397.36 L66.58,397.41 L66.64,397.46 L66.70,397.51 L66.76,397.57 L66.82,397.63 L66.88,397.69 L66.94,397.76 L67.01,397.84 L67.07,397.92 L67.13,398.01 L67.19,398.11 L67.25,398.22 L67.31,398.35 L67.37,398.50 L67.43,398.67 L67.49,398.87 L67.55,399.12 L67.61,399.45 L67.67,399.91 L67.73,400.72 L67.79,401.51 L67.85,400.65 L67.91,399.84 L67.97,399.36 L68.04,399.02 L68.10,398.75 L68.16,398.52 L68.22,398.33 L68.28,398.16 L68.34,398.01 L68.40,397.88 L68.46,397.76 L68.52,397.64 L68.58,397.54 L68.64,397.44 L68.70,397.35 L68.76,397.26 L68.82,397.18 L68.88,397.10 L68.94,397.03 L69.00,396.96 L69.07,396.89 L69.13,396.82 L69.19,396.76 L69.25,396.70 L69.31,396.64 L69.37,396.58 L69.43,396.52 L69.49,396.47 L69.55,396.42 L69.61,396.37 L69.67,396.32 L69.73,396.27 L69.79,396.22 L69.85,396.17 L69.91,396.13 L69.97,396.08 L70.04,396.04 L70.10,396.00 L70.16,395.95 L70.22,395.91 L70.28,395.87 L70.34,395.83 L70.40,395.79 L70.46,395.75 L70.52,395.72 L70.58,395.68 L70.64,395.64 L70.70,395.61 L70.76,395.57 L70.82,395.53 L70.88,395.50 L70.94,395.46 L71.00,395.43 L71.07,395.40 L71.13,395.36 L71.19,395.33 L71.25,395.30 L71.31,395.27 L71.37,395.23 L71.43,395.20 L71.49,395.17 L71.55,395.14 L71.61,395.11 L71.67,395.08 L71.73,395.05 L71.79,395.02 L71.85,394.99 L71.91,394.96 L71.97,394.93 L72.03,394.90 L72.10,394.87 L72.16,394.85 L72.22,394.82 L72.28,394.79 L72.34,394.76 L72.40,394.73 L72.46,394.71 L72.52,394.68 L72.58,394.65 L72.64,394.63 L72.70,394.60 L72.76,394.57 L72.82,394.55 L72.88,394.52 L72.94,394.49 L73.00,394.47 L73.07,394.44 L73.13,394.42 L73.19,394.39 L73.25,394.37 L73.31,394.34 L73.37,394.32 L73.43,394.29 L73.49,394.27 L73.55,394.24 L73.61,394.22 L73.67,394.19 L73.73,394.17 L73.79,394.15 L73.85,394.12 L73.91,394.10 L73.97,394.07 L74.03,394.05 L74.10,394.03 L74.16,394.00 L74.22,393.98 L74.28,393.96 L74.34,393.93 L74.40,393.91 L74.46,393.89 L74.52,393.87 L74.58,393.84 L74.64,393.82 L74.70,393.80 L74.76,393.77 L74.82,393.75 L74.88,393.73 L74.94,393.71 L75.00,393.69 L75.06,393.66 L75.13,393.64 L75.19,393.62 L75.25,393.60 L75.31,393.58 L75.37,393.55 L75.43,393.53 L75.49,393.51 L75.55,393.49 L75.61,393.47 L75.67,393.45 L75.73,393.42 L75.79,393.40 L75.85,393.38 L75.91,393.36 L75.97,393.34 L76.03,393.32 L76.10,393.30 L76.16,393.28 L76.22,393.25 L76.28,393.23 L76.34,393.21 L76.40,393.19 L76.46,393.17 L76.52,393.15 L76.58,393.13 L76.64,393.11 L76.70,393.09 L76.76,393.07 L76.82,393.05 L76.88,393.03 L76.94,393.01 L77.00,392.99 L77.06,392.97 L77.13,392.95 L77.19,392.93 L77.25,392.91 L77.31,392.89 L77.37,392.87 L77.43,392.85 L77.49,392.83 L77.55,392.81 L77.61,392.79 L77.67,392.77 L77.73,392.75 L77.79,392.73 L77.85,392.71 L77.91,392.69 L77.97,392.67 L78.03,392.65 L78.09,392.63 L78.16,392.61 L78.22,392.59 L78.28,392.57 L78.34,392.55 L78.40,392.53 L78.46,392.51 L78.52,392.49 L78.58,392.47 L78.64,392.46 L78.70,392.44 L78.76,392.42 L78.82,392.40 L78.88,392.38 L78.94,392.36 L79.00,392.34 L79.06,392.32 L79.13,392.30 L79.19,392.28 L79.25,392.26 L79.31,392.25 L79.37,392.23 L79.43,392.21 L79.49,392.19 L79.55,392.17 L79.61,392.15 L79.67,392.13 L79.73,392.11 L79.79,392.10 L79.85,392.08 L79.91,392.06 L79.97,392.04 L80.03,392.02 L80.09,392.00 L80.16,391.98 L80.22,391.97 L80.28,391.95 L80.34,391.93 L80.40,391.91 L80.46,391.89 L80.52,391.87 L80.58,391.85 L80.64,391.84 L80.70,391.82 L80.76,391.80 L80.82,391.78 L80.88,391.76 L80.94,391.74 L81.00,391.73 L81.06,391.71 L81.12,391.69 L81.19,391.67 L81.25,391.65 L81.31,391.64 L81.37,391.62 L81.43,391.60 L81.49,391.58 L81.55,391.56 L81.61,391.55 L81.67,391.53 L81.73,391.51 L81.79,391.49 L81.85,391.47 L81.91,391.46 L81.97,391.44 L82.03,391.42 L82.09,391.40 L82.16,391.38 L82.22,391.37 L82.28,391.35 L82.34,391.33 L82.40,391.31 L82.46,391.29 L82.52,391.28 L82.58,391.26 L82.64,391.24 L82.70,391.22 L82.76,391.21 L82.82,391.19 L82.88,391.17 L82.94,391.15 L83.00,391.13 L83.06,391.12 L83.12,391.10 L83.19,391.08 L83.25,391.06 L83.31,391.05 L83.37,391.03 L83.43,391.01 L83.49,390.99 L83.55,390.98 L83.61,390.96 L83.67,390.94 L83.73,390.92 L83.79,390.91 L83.85,390.89 L83.91,390.87 L83.97,390.85 L84.03,390.84 L84.09,390.82 L84.16,390.80 L84.22,390.78 L84.28,390.77 L84.34,390.75 L84.40,390.73 L84.46,390.72 L84.52,390.70 L84.58,390.68 L84.64,390.66 L84.70,390.65 L84.76,390.63 L84.82,390.61 L84.88,390.59 L84.94,390.58 L85.00,390.56 L85.06,390.54 L85.12,390.53 L85.19,390.51 L85.25,390.49 L85.31,390.47 L85.37,390.46 L85.43,390.44 L85.49,390.42 L85.55,390.40 L85.61,390.39 L85.67,390.37 L85.73,390.35 L85.79,390.34 L85.85,390.32 L85.91,390.30 L85.97,390.29 L86.03,390.27 L86.09,390.25 L86.15,390.23 L86.22,390.22 L86.28,390.20 L86.34,390.18 L86.40,390.17 L86.46,390.15 L86.52,390.13 L86.58,390.11 L86.64,390.10 L86.70,390.08 L86.76,390.06 L86.82,390.05 L86.88,390.03 L86.94,390.01 L87.00,390.00 L87.06,389.98 L87.12,389.96 L87.19,389.95 L87.25,389.93 L87.31,389.91 L87.37,389.90 L87.43,389.88 L87.49,389.86 L87.55,389.84 L87.61,389.83 L87.67,389.81 L87.73,389.79 L87.79,389.78 L87.85,389.76 L87.91,389.74 L87.97,389.73 L88.03,389.71 L88.09,389.69 L88.15,389.68 L88.22,389.66 L88.28,389.64 L88.34,389.63 L88.40,389.61 L88.46,389.59 L88.52,389.58 L88.58,389.56 L88.64,389.54 L88.70,389.53 L90.22,389.11 L91.73,388.70 L93.25,388.29 L94.76,387.89 L96.28,387.48 L97.79,387.08 L99.31,386.68 L100.82,386.29 L102.34,385.89 L103.85,385.50 L105.37,385.10 L106.88,384.71 L108.39,384.32 L109.91,383.93 L111.42,383.54 L112.94,383.15 L114.46,382.76 L115.97,382.38 L117.48,381.99 L119.00,381.60 L120.51,381.22 L122.03,380.83 L123.55,380.45 L125.06,380.06 L126.57,379.68 L128.09,379.30 L129.61,378.91 L131.12,378.53 L132.63,378.15 L134.15,377.76 L135.66,377.38 L137.18,377.00 L138.69,376.62 L140.21,376.24 L141.72,375.86 L143.24,375.48 L144.75,375.09 L146.27,374.71 L147.78,374.33 L149.30,373.95 L150.81,373.57 L152.33,373.19 L153.84,372.81 L155.36,372.43 L156.88,372.05 L158.39,371.68 L159.91,371.30 L161.42,370.92 L162.94,370.54 L164.45,370.16 L165.97,369.78 L167.48,369.40 L169.00,369.02 L170.51,368.65 L172.03,368.27 L173.54,367.89 L175.06,367.51 L176.57,367.13 L178.09,366.76 L179.60,366.38 L181.12,366.00 L182.63,365.62 L184.15,365.25 L185.66,364.87 L187.18,364.49 L188.69,364.12 L190.21,363.74 L191.72,363.36 L193.24,362.99 L194.75,362.61 L196.27,362.23 L197.78,361.86 L199.30,361.48 L200.81,361.11 L202.33,360.73 L203.84,360.35 L205.35,359.98 L206.87,359.60 L208.39,359.23 L209.90,358.85 L211.42,358.48 L212.93,358.10 L214.45,357.72 L215.96,357.35 L217.47,356.97 L218.99,356.60 L220.50,356.22 L222.02,355.85 L223.54,355.47 L225.05,355.10 L226.57,354.73 L228.08,354.35 L229.59,353.98 L231.11,353.60 L232.62,353.23 L234.14,352.85 L235.66,352.48 L237.17,352.11 L238.69,351.73 L240.20,351.36 L241.72,350.99 L243.23,350.61 L244.75,350.24 L246.26,349.87 L247.78,349.49 L249.29,349.12 L250.81,348.75 L252.32,348.37 L253.84,348.00 L255.35,347.63 L256.87,347.25 L258.38,346.88 L259.89,346.51 L261.41,346.14 L262.93,345.76 L264.44,345.39 L265.95,345.02 L267.47,344.65 L268.98,344.28 L270.50,343.90 L272.01,343.53 L273.53,343.16 L275.05,342.79 L276.56,342.42 L278.07,342.05 L279.59,341.68 L281.11,341.31 L282.62,340.93 L284.13,340.56 L285.65,340.19 L287.17,339.82 L288.68,339.45 L290.19,339.08 L291.71,338.71 L293.22,338.34 L294.74,337.97 L296.25,337.60 L297.77,337.23 L299.28,336.86 L300.80,336.49" fill="none" stroke="#ff0000" stroke-width="1.4"  stroke-linejoin="round" clip-path="url(#clipc)"/>
<path d="M58.70,396.32 L58.76,396.32 L58.82,396.32 L58.88,396.32 L58.95,396.32 L59.01,396.32 L59.07,396.32 L59.13,396.32 L59.19,396.32 L59.25,396.32 L59.31,396.32 L59.37,396.32 L59.43,396.32 L59.49,396.32 L59.55,396.32 L59.61,396.33 L59.67,396.33 L59.73,396.33 L59.79,396.33 L59.85,396.33 L59.91,396.33 L59.98,396.33 L60.04,396.33 L60.10,396.34 L60.16,396.34 L60.22,396.34 L60.28,396.34 L60.34,396.34 L60.40,396.35 L60.46,396.35 L60.52,396.35 L60.58,396.36 L60.64,396.36 L60.70,396.36 L60.76,396.37 L60.82,396.37 L60.88,396.37 L60.95,396.38 L61.01,396.38 L61.07,396.39 L61.13,396.39 L61.19,396.40 L61.25,396.40 L61.31,396.41 L61.37,396.42 L61.43,396.42 L61.49,396.43 L61.55,396.44 L61.61,396.45 L61.67,396.45 L61.73,396.46 L61.79,396.47 L61.85,396.48 L61.91,396.49 L61.98,396.50 L62.04,396.51 L62.10,396.53 L62.16,396.54 L62.22,396.55 L62.28,396.56 L62.34,396.58 L62.40,396.59 L62.46,396.61 L62.52,396.63 L62.58,396.64 L62.64,396.66 L62.70,396.68 L62.76,396.70 L62.82,396.73 L62.88,396.75 L62.95,396.77 L63.01,396.80 L63.07,396.83 L63.13,396.86 L63.19,396.89 L63.25,396.92 L63.31,396.96 L63.37,396.99 L63.43,397.03 L63.49,397.07 L63.55,397.12 L63.61,397.17 L63.67,397.22 L63.73,397.28 L63.79,397.34 L63.85,397.41 L63.91,397.49 L63.98,397.57 L64.04,397.66 L64.10,397.76 L64.16,397.88 L64.22,398.01 L64.28,398.17 L64.34,398.35 L64.40,398.58 L64.46,398.87 L64.52,399.27 L64.58,399.91 L64.64,401.55 L64.70,400.65 L64.76,399.58 L64.82,399.02 L64.88,398.63 L64.94,398.33 L65.01,398.09 L65.07,397.88 L65.13,397.70 L65.19,397.54 L65.25,397.39 L65.31,397.26 L65.37,397.14 L65.43,397.03 L65.49,396.92 L65.55,396.82 L65.61,396.73 L65.67,396.64 L65.73,396.55 L65.79,396.47 L65.85,396.39 L65.91,396.32 L65.97,396.24 L66.04,396.17 L66.10,396.11 L66.16,396.04 L66.22,395.98 L66.28,395.91 L66.34,395.85 L66.40,395.79 L66.46,395.74 L66.52,395.68 L66.58,395.62 L66.64,395.57 L66.70,395.52 L66.76,395.46 L66.82,395.41 L66.88,395.36 L66.94,395.31 L67.01,395.27 L67.07,395.22 L67.13,395.17 L67.19,395.12 L67.25,395.08 L67.31,395.03 L67.37,394.99 L67.43,394.95 L67.49,394.90 L67.55,394.86 L67.61,394.82 L67.67,394.78 L67.73,394.73 L67.79,394.69 L67.85,394.65 L67.91,394.61 L67.97,394.57 L68.04,394.53 L68.10,394.49 L68.16,394.46 L68.22,394.42 L68.28,394.38 L68.34,394.34 L68.40,394.30 L68.46,394.27 L68.52,394.23 L68.58,394.19 L68.64,394.16 L68.70,394.12 L68.76,394.09 L68.82,394.05 L68.88,394.02 L68.94,393.98 L69.00,393.95 L69.07,393.91 L69.13,393.88 L69.19,393.84 L69.25,393.81 L69.31,393.77 L69.37,393.74 L69.43,393.71 L69.49,393.67 L69.55,393.64 L69.61,393.61 L69.67,393.57 L69.73,393.54 L69.79,393.51 L69.85,393.48 L69.91,393.45 L69.97,393.41 L70.04,393.38 L70.10,393.35 L70.16,393.32 L70.22,393.29 L70.28,393.25 L70.34,393.22 L70.40,393.19 L70.46,393.16 L70.52,393.13 L70.58,393.10 L70.64,393.07 L70.70,393.04 L70.76,393.01 L70.82,392.98 L70.88,392.95 L70.94,392.92 L71.00,392.89 L71.07,392.86 L71.13,392.83 L71.19,392.80 L71.25,392.77 L71.31,392.74 L71.37,392.71 L71.43,392.68 L71.49,392.65 L71.55,392.62 L71.61,392.59 L71.67,392.56 L71.73,392.53 L71.79,392.50 L71.85,392.47 L71.91,392.45 L71.97,392.42 L72.03,392.39 L72.10,392.36 L72.16,392.33 L72.22,392.30 L72.28,392.27 L72.34,392.25 L72.40,392.22 L72.46,392.19 L72.52,392.16 L72.58,392.13 L72.64,392.10 L72.70,392.08 L72.76,392.05 L72.82,392.02 L72.88,391.99 L72.94,391.97 L73.00,391.94 L73.07,391.91 L73.13,391.88 L73.19,391.85 L73.25,391.83 L73.31,391.80 L73.37,391.77 L73.43,391.74 L73.49,391.72 L73.55,391.69 L73.61,391.66 L73.67,391.64 L73.73,391.61 L73.79,391.58 L73.85,391.55 L73.91,391.53 L73.97,391.50 L74.03,391.47 L74.10,391.45 L74.16,391.42 L74.22,391.39 L74.28,391.37 L74.34,391.34 L74.40,391.31 L74.46,391.29 L74.52,391.26 L74.58,391.23 L74.64,391.21 L74.70,391.18 L74.76,391.15 L74.82,391.13 L74.88,391.10 L74.94,391.07 L75.00,391.05 L75.06,391.02 L75.13,390.99 L75.19,390.97 L75.25,390.94 L75.31,390.91 L75.37,390.89 L75.43,390.86 L75.49,390.84 L75.55,390.81 L75.61,390.78 L75.67,390.76 L75.73,390.73 L75.79,390.71 L75.85,390.68 L75.91,390.65 L75.97,390.63 L76.03,390.60 L76.10,390.58 L76.16,390.55 L76.22,390.52 L76.28,390.50 L76.34,390.47 L76.40,390.45 L76.46,390.42 L76.52,390.40 L76.58,390.37 L76.64,390.34 L76.70,390.32 L76.76,390.29 L76.82,390.27 L76.88,390.24 L76.94,390.22 L77.00,390.19 L77.06,390.17 L77.13,390.14 L77.19,390.11 L77.25,390.09 L77.31,390.06 L77.37,390.04 L77.43,390.01 L77.49,389.99 L77.55,389.96 L77.61,389.94 L77.67,389.91 L77.73,389.89 L77.79,389.86 L77.85,389.84 L77.91,389.81 L77.97,389.79 L78.03,389.76 L78.09,389.73 L78.16,389.71 L78.22,389.68 L78.28,389.66 L78.34,389.63 L78.40,389.61 L78.46,389.58 L78.52,389.56 L78.58,389.53 L78.64,389.51 L78.70,389.48 L78.76,389.46 L78.82,389.43 L78.88,389.41 L78.94,389.38 L79.00,389.36 L79.06,389.33 L79.13,389.31 L79.19,389.28 L79.25,389.26 L79.31,389.23 L79.37,389.21 L79.43,389.19 L79.49,389.16 L79.55,389.14 L79.61,389.11 L79.67,389.09 L79.73,389.06 L79.79,389.04 L79.85,389.01 L79.91,388.99 L79.97,388.96 L80.03,388.94 L80.09,388.91 L80.16,388.89 L80.22,388.86 L80.28,388.84 L80.34,388.81 L80.40,388.79 L80.46,388.76 L80.52,388.74 L80.58,388.72 L80.64,388.69 L80.70,388.67 L80.76,388.64 L80.82,388.62 L80.88,388.59 L80.94,388.57 L81.00,388.54 L81.06,388.52 L81.12,388.49 L81.19,388.47 L81.25,388.45 L81.31,388.42 L81.37,388.40 L81.43,388.37 L81.49,388.35 L81.55,388.32 L81.61,388.30 L81.67,388.27 L81.73,388.25 L81.79,388.23 L81.85,388.20 L81.91,388.18 L81.97,388.15 L82.03,388.13 L82.09,388.10 L82.16,388.08 L82.22,388.06 L82.28,388.03 L82.34,388.01 L82.40,387.98 L82.46,387.96 L82.52,387.93 L82.58,387.91 L82.64,387.89 L82.70,387.86 L82.76,387.84 L82.82,387.81 L82.88,387.79 L82.94,387.76 L83.00,387.74 L83.06,387.72 L83.12,387.69 L83.19,387.67 L83.25,387.64 L83.31,387.62 L83.37,387.60 L83.43,387.57 L83.49,387.55 L83.55,387.52 L83.61,387.50 L83.67,387.47 L83.73,387.45 L83.79,387.43 L83.85,387.40 L83.91,387.38 L83.97,387.35 L84.03,387.33 L84.09,387.31 L84.16,387.28 L84.22,387.26 L84.28,387.23 L84.34,387.21 L84.40,387.19 L84.46,387.16 L84.52,387.14 L84.58,387.11 L84.64,387.09 L84.70,387.07 L84.76,387.04 L84.82,387.02 L84.88,386.99 L84.94,386.97 L85.00,386.95 L85.06,386.92 L85.12,386.90 L85.19,386.87 L85.25,386.85 L85.31,386.83 L85.37,386.80 L85.43,386.78 L85.49,386.75 L85.55,386.73 L85.61,386.71 L85.67,386.68 L85.73,386.66 L85.79,386.64 L85.85,386.61 L85.91,386.59 L85.97,386.56 L86.03,386.54 L86.09,386.52 L86.15,386.49 L86.22,386.47 L86.28,386.44 L86.34,386.42 L86.40,386.40 L86.46,386.37 L86.52,386.35 L86.58,386.33 L86.64,386.30 L86.70,386.28 L86.76,386.25 L86.82,386.23 L86.88,386.21 L86.94,386.18 L87.00,386.16 L87.06,386.14 L87.12,386.11 L87.19,386.09 L87.25,386.06 L87.31,386.04 L87.37,386.02 L87.43,385.99 L87.49,385.97 L87.55,385.95 L87.61,385.92 L87.67,385.90 L87.73,385.87 L87.79,385.85 L87.85,385.83 L87.91,385.80 L87.97,385.78 L88.03,385.76 L88.09,385.73 L88.15,385.71 L88.22,385.68 L88.28,385.66 L88.34,385.64 L88.40,385.61 L88.46,385.59 L88.52,385.57 L88.58,385.54 L88.64,385.52 L88.70,385.50 L90.22,384.91 L91.73,384.32 L93.25,383.73 L94.76,383.15 L96.28,382.57 L97.79,381.99 L99.31,381.41 L100.82,380.83 L102.34,380.25 L103.85,379.67 L105.37,379.10 L106.88,378.52 L108.39,377.95 L109.91,377.37 L111.42,376.80 L112.94,376.23 L114.46,375.66 L115.97,375.08 L117.48,374.51 L119.00,373.94 L120.51,373.37 L122.03,372.80 L123.55,372.23 L125.06,371.66 L126.57,371.09 L128.09,370.52 L129.61,369.95 L131.12,369.38 L132.63,368.81 L134.15,368.24 L135.66,367.67 L137.18,367.11 L138.69,366.54 L140.21,365.97 L141.72,365.40 L143.24,364.84 L144.75,364.27 L146.27,363.70 L147.78,363.13 L149.30,362.57 L150.81,362.00 L152.33,361.43 L153.84,360.87 L155.36,360.30 L156.88,359.74 L158.39,359.17 L159.91,358.60 L161.42,358.04 L162.94,357.47 L164.45,356.91 L165.97,356.34 L167.48,355.78 L169.00,355.21 L170.51,354.65 L172.03,354.08 L173.54,353.52 L175.06,352.95 L176.57,352.39 L178.09,351.82 L179.60,351.26 L181.12,350.69 L182.63,350.13 L184.15,349.57 L185.66,349.00 L187.18,348.44 L188.69,347.87 L190.21,347.31 L191.72,346.75 L193.24,346.18 L194.75,345.62 L196.27,345.06 L197.78,344.49 L199.30,343.93 L200.81,343.37 L202.33,342.81 L203.84,342.24 L205.35,341.68 L206.87,341.12 L208.39,340.56 L209.90,339.99 L211.42,339.43 L212.93,338.87 L214.45,338.31 L215.96,337.75 L217.47,337.19 L218.99,336.62 L220.50,336.06 L222.02,335.50 L223.54,334.94 L225.05,334.38 L226.57,333.82 L228.08,333.26 L229.59,332.70 L231.11,332.14 L232.62,331.58 L234.14,331.02 L235.66,330.46 L237.17,329.90 L238.69,329.34 L240.20,328.78 L241.72,328.22 L243.23,327.66 L244.75,327.10 L246.26,326.54 L247.78,325.98 L249.29,325.42 L250.81,324.86 L252.32,324.31 L253.84,323.75 L255.35,323.19 L256.87,322.63 L258.38,322.07 L259.89,321.51 L261.41,320.96 L262.93,320.40 L264.44,319.84 L265.95,319.28 L267.47,318.73 L268.98,318.17 L270.50,317.61 L272.01,317.05 L273.53,316.50 L275.05,315.94 L276.56,315.38 L278.07,314.83 L279.59,314.27 L281.11,313.72 L282.62,313.16 L284.13,312.60 L285.65,312.05 L287.17,311.49 L288.68,310.94 L290.19,310.38 L291.71,309.83 L293.22,309.27 L294.74,308.72 L296.25,308.16 L297.77,307.61 L299.28,307.05 L300.80,306.50" fill="none" stroke="#0000ff" stroke-width="1.2" stroke-dasharray="1.1 4.47" stroke-linejoin="round" clip-path="url(#clipc)"/>
<path d="M58.70,396.32 L58.76,396.32 L58.82,396.32 L58.88,396.32 L58.95,396.32 L59.01,396.32 L59.07,396.32 L59.13,396.32 L59.19,396.32 L59.25,396.32 L59.31,396.33 L59.37,396.33 L59.43,396.33 L59.49,396.33 L59.55,396.33 L59.61,396.33 L59.67,396.34 L59.73,396.34 L59.79,396.34 L59.85,396.34 L59.91,396.35 L59.98,396.35 L60.04,396.36 L60.10,396.36 L60.16,396.36 L60.22,396.37 L60.28,396.38 L60.34,396.38 L60.40,396.39 L60.46,396.39 L60.52,396.40 L60.58,396.41 L60.64,396.42 L60.70,396.43 L60.76,396.44 L60.82,396.45 L60.88,396.46 L60.95,396.47 L61.01,396.48 L61.07,396.50 L61.13,396.51 L61.19,396.53 L61.25,396.55 L61.31,396.56 L61.37,396.58 L61.43,396.60 L61.49,396.63 L61.55,396.65 L61.61,396.68 L61.67,396.70 L61.73,396.73 L61.79,396.77 L61.85,396.80 L61.91,396.84 L61.98,396.88 L62.04,396.92 L62.10,396.97 L62.16,397.02 L62.22,397.07 L62.28,397.14 L62.34,397.20 L62.40,397.28 L62.46,397.36 L62.52,397.46 L62.58,397.57 L62.64,397.69 L62.70,397.84 L62.76,398.01 L62.82,398.22 L62.88,398.50 L62.95,398.87 L63.01,399.45 L63.07,400.72 L63.13,400.65 L63.19,399.36 L63.25,398.75 L63.31,398.33 L63.37,398.01 L63.43,397.76 L63.49,397.54 L63.55,397.35 L63.61,397.18 L63.67,397.03 L63.73,396.89 L63.79,396.76 L63.85,396.64 L63.91,396.52 L63.98,396.42 L64.04,396.32 L64.10,396.22 L64.16,396.13 L64.22,396.04 L64.28,395.95 L64.34,395.87 L64.40,395.79 L64.46,395.72 L64.52,395.64 L64.58,395.57 L64.64,395.50 L64.70,395.43 L64.76,395.36 L64.82,395.30 L64.88,395.23 L64.94,395.17 L65.01,395.11 L65.07,395.05 L65.13,394.99 L65.19,394.93 L65.25,394.87 L65.31,394.82 L65.37,394.76 L65.43,394.71 L65.49,394.65 L65.55,394.60 L65.61,394.55 L65.67,394.49 L65.73,394.44 L65.79,394.39 L65.85,394.34 L65.91,394.29 L65.97,394.24 L66.04,394.19 L66.10,394.15 L66.16,394.10 L66.22,394.05 L66.28,394.00 L66.34,393.96 L66.40,393.91 L66.46,393.86 L66.52,393.82 L66.58,393.77 L66.64,393.73 L66.70,393.68 L66.76,393.64 L66.82,393.60 L66.88,393.55 L66.94,393.51 L67.01,393.47 L67.07,393.42 L67.13,393.38 L67.19,393.34 L67.25,393.30 L67.31,393.25 L67.37,393.21 L67.43,393.17 L67.49,393.13 L67.55,393.09 L67.61,393.05 L67.67,393.01 L67.73,392.97 L67.79,392.93 L67.85,392.89 L67.91,392.85 L67.97,392.81 L68.04,392.77 L68.10,392.73 L68.16,392.69 L68.22,392.65 L68.28,392.61 L68.34,392.57 L68.40,392.53 L68.46,392.49 L68.52,392.46 L68.58,392.42 L68.64,392.38 L68.70,392.34 L68.76,392.30 L68.82,392.26 L68.88,392.23 L68.94,392.19 L69.00,392.15 L69.07,392.11 L69.13,392.08 L69.19,392.04 L69.25,392.00 L69.31,391.97 L69.37,391.93 L69.43,391.89 L69.49,391.85 L69.55,391.82 L69.61,391.78 L69.67,391.74 L69.73,391.71 L69.79,391.67 L69.85,391.64 L69.91,391.60 L69.97,391.56 L70.04,391.53 L70.10,391.49 L70.16,391.45 L70.22,391.42 L70.28,391.38 L70.34,391.35 L70.40,391.31 L70.46,391.28 L70.52,391.24 L70.58,391.21 L70.64,391.17 L70.70,391.13 L70.76,391.10 L70.82,391.06 L70.88,391.03 L70.94,390.99 L71.00,390.96 L71.07,390.92 L71.13,390.89 L71.19,390.85 L71.25,390.82 L71.31,390.78 L71.37,390.75 L71.43,390.71 L71.49,390.68 L71.55,390.65 L71.61,390.61 L71.67,390.58 L71.73,390.54 L71.79,390.51 L71.85,390.47 L71.91,390.44 L71.97,390.40 L72.03,390.37 L72.10,390.34 L72.16,390.30 L72.22,390.27 L72.28,390.23 L72.34,390.20 L72.40,390.17 L72.46,390.13 L72.52,390.10 L72.58,390.06 L72.64,390.03 L72.70,390.00 L72.76,389.96 L72.82,389.93 L72.88,389.89 L72.94,389.86 L73.00,389.83 L73.07,389.79 L73.13,389.76 L73.19,389.73 L73.25,389.69 L73.31,389.66 L73.37,389.63 L73.43,389.59 L73.49,389.56 L73.55,389.53 L73.61,389.49 L73.67,389.46 L73.73,389.43 L73.79,389.39 L73.85,389.36 L73.91,389.33 L73.97,389.29 L74.03,389.26 L74.10,389.23 L74.16,389.19 L74.22,389.16 L74.28,389.13 L74.34,389.09 L74.40,389.06 L74.46,389.03 L74.52,388.99 L74.58,388.96 L74.64,388.93 L74.70,388.90 L74.76,388.86 L74.82,388.83 L74.88,388.80 L74.94,388.76 L75.00,388.73 L75.06,388.70 L75.13,388.67 L75.19,388.63 L75.25,388.60 L75.31,388.57 L75.37,388.54 L75.43,388.50 L75.49,388.47 L75.55,388.44 L75.61,388.40 L75.67,388.37 L75.73,388.34 L75.79,388.31 L75.85,388.27 L75.91,388.24 L75.97,388.21 L76.03,388.18 L76.10,388.14 L76.16,388.11 L76.22,388.08 L76.28,388.05 L76.34,388.01 L76.40,387.98 L76.46,387.95 L76.52,387.92 L76.58,387.89 L76.64,387.85 L76.70,387.82 L76.76,387.79 L76.82,387.76 L76.88,387.72 L76.94,387.69 L77.00,387.66 L77.06,387.63 L77.13,387.60 L77.19,387.56 L77.25,387.53 L77.31,387.50 L77.37,387.47 L77.43,387.43 L77.49,387.40 L77.55,387.37 L77.61,387.34 L77.67,387.31 L77.73,387.27 L77.79,387.24 L77.85,387.21 L77.91,387.18 L77.97,387.15 L78.03,387.11 L78.09,387.08 L78.16,387.05 L78.22,387.02 L78.28,386.99 L78.34,386.95 L78.40,386.92 L78.46,386.89 L78.52,386.86 L78.58,386.83 L78.64,386.79 L78.70,386.76 L78.76,386.73 L78.82,386.70 L78.88,386.67 L78.94,386.63 L79.00,386.60 L79.06,386.57 L79.13,386.54 L79.19,386.51 L79.25,386.48 L79.31,386.44 L79.37,386.41 L79.43,386.38 L79.49,386.35 L79.55,386.32 L79.61,386.29 L79.67,386.25 L79.73,386.22 L79.79,386.19 L79.85,386.16 L79.91,386.13 L79.97,386.10 L80.03,386.06 L80.09,386.03 L80.16,386.00 L80.22,385.97 L80.28,385.94 L80.34,385.91 L80.40,385.87 L80.46,385.84 L80.52,385.81 L80.58,385.78 L80.64,385.75 L80.70,385.72 L80.76,385.68 L80.82,385.65 L80.88,385.62 L80.94,385.59 L81.00,385.56 L81.06,385.53 L81.12,385.49 L81.19,385.46 L81.25,385.43 L81.31,385.40 L81.37,385.37 L81.43,385.34 L81.49,385.31 L81.55,385.27 L81.61,385.24 L81.67,385.21 L81.73,385.18 L81.79,385.15 L81.85,385.12 L81.91,385.09 L81.97,385.05 L82.03,385.02 L82.09,384.99 L82.16,384.96 L82.22,384.93 L82.28,384.90 L82.34,384.87 L82.40,384.83 L82.46,384.80 L82.52,384.77 L82.58,384.74 L82.64,384.71 L82.70,384.68 L82.76,384.65 L82.82,384.62 L82.88,384.58 L82.94,384.55 L83.00,384.52 L83.06,384.49 L83.12,384.46 L83.19,384.43 L83.25,384.40 L83.31,384.36 L83.37,384.33 L83.43,384.30 L83.49,384.27 L83.55,384.24 L83.61,384.21 L83.67,384.18 L83.73,384.15 L83.79,384.11 L83.85,384.08 L83.91,384.05 L83.97,384.02 L84.03,383.99 L84.09,383.96 L84.16,383.93 L84.22,383.90 L84.28,383.86 L84.34,383.83 L84.40,383.80 L84.46,383.77 L84.52,383.74 L84.58,383.71 L84.64,383.68 L84.70,383.65 L84.76,383.62 L84.82,383.58 L84.88,383.55 L84.94,383.52 L85.00,383.49 L85.06,383.46 L85.12,383.43 L85.19,383.40 L85.25,383.37 L85.31,383.34 L85.37,383.30 L85.43,383.27 L85.49,383.24 L85.55,383.21 L85.61,383.18 L85.67,383.15 L85.73,383.12 L85.79,383.09 L85.85,383.06 L85.91,383.02 L85.97,382.99 L86.03,382.96 L86.09,382.93 L86.15,382.90 L86.22,382.87 L86.28,382.84 L86.34,382.81 L86.40,382.78 L86.46,382.74 L86.52,382.71 L86.58,382.68 L86.64,382.65 L86.70,382.62 L86.76,382.59 L86.82,382.56 L86.88,382.53 L86.94,382.50 L87.00,382.47 L87.06,382.43 L87.12,382.40 L87.19,382.37 L87.25,382.34 L87.31,382.31 L87.37,382.28 L87.43,382.25 L87.49,382.22 L87.55,382.19 L87.61,382.16 L87.67,382.12 L87.73,382.09 L87.79,382.06 L87.85,382.03 L87.91,382.00 L87.97,381.97 L88.03,381.94 L88.09,381.91 L88.15,381.88 L88.22,381.85 L88.28,381.82 L88.34,381.78 L88.40,381.75 L88.46,381.72 L88.52,381.69 L88.58,381.66 L88.64,381.63 L88.70,381.60 L90.22,380.83 L91.73,380.06 L93.25,379.29 L94.76,378.52 L96.28,377.75 L97.79,376.99 L99.31,376.22 L100.82,375.46 L102.34,374.70 L103.85,373.94 L105.37,373.17 L106.88,372.41 L108.39,371.65 L109.91,370.89 L111.42,370.13 L112.94,369.37 L114.46,368.61 L115.97,367.86 L117.48,367.10 L119.00,366.34 L120.51,365.58 L122.03,364.82 L123.55,364.07 L125.06,363.31 L126.57,362.55 L128.09,361.80 L129.61,361.04 L131.12,360.28 L132.63,359.53 L134.15,358.77 L135.66,358.02 L137.18,357.26 L138.69,356.50 L140.21,355.75 L141.72,354.99 L143.24,354.24 L144.75,353.49 L146.27,352.73 L147.78,351.98 L149.30,351.22 L150.81,350.47 L152.33,349.71 L153.84,348.96 L155.36,348.21 L156.88,347.45 L158.39,346.70 L159.91,345.95 L161.42,345.19 L162.94,344.44 L164.45,343.69 L165.97,342.94 L167.48,342.18 L169.00,341.43 L170.51,340.68 L172.03,339.93 L173.54,339.17 L175.06,338.42 L176.57,337.67 L178.09,336.92 L179.60,336.17 L181.12,335.42 L182.63,334.66 L184.15,333.91 L185.66,333.16 L187.18,332.41 L188.69,331.66 L190.21,330.91 L191.72,330.16 L193.24,329.41 L194.75,328.66 L196.27,327.91 L197.78,327.16 L199.30,326.41 L200.81,325.66 L202.33,324.91 L203.84,324.16 L205.35,323.41 L206.87,322.66 L208.39,321.91 L209.90,321.16 L211.42,320.41 L212.93,319.67 L214.45,318.92 L215.96,318.17 L217.47,317.42 L218.99,316.67 L220.50,315.93 L222.02,315.18 L223.54,314.43 L225.05,313.68 L226.57,312.94 L228.08,312.19 L229.59,311.44 L231.11,310.69 L232.62,309.95 L234.14,309.20 L235.66,308.46 L237.17,307.71 L238.69,306.96 L240.20,306.22 L241.72,305.47 L243.23,304.73 L244.75,303.98 L246.26,303.24 L247.78,302.49 L249.29,301.75 L250.81,301.00 L252.32,300.26 L253.84,299.51 L255.35,298.77 L256.87,298.02 L258.38,297.28 L259.89,296.54 L261.41,295.79 L262.93,295.05 L264.44,294.31 L265.95,293.56 L267.47,292.82 L268.98,292.08 L270.50,291.33 L272.01,290.59 L273.53,289.85 L275.05,289.11 L276.56,288.37 L278.07,287.62 L279.59,286.88 L281.11,286.14 L282.62,285.40 L284.13,284.66 L285.65,283.92 L287.17,283.18 L288.68,282.44 L290.19,281.70 L291.71,280.96 L293.22,280.22 L294.74,279.48 L296.25,278.74 L297.77,278.00 L299.28,277.26 L300.80,276.52" fill="none" stroke="#00ee00" stroke-width="1.4" stroke-dasharray="1.1 4.4 7.5 4.4" stroke-linejoin="round" clip-path="url(#clipc)"/>
<rect x="58.4" y="275.6" width="242.4" height="150.89999999999998" fill="none" stroke="#333" stroke-width="1.6" stroke-linejoin="round"/>
<text x="53.83" y="444.02" font-size="17.5" fill="#000" >0</text>
<text x="109.47" y="444.02" font-size="17.5" fill="#000" >20</text>
<text x="170.31" y="444.02" font-size="17.5" fill="#000" >40</text>
<text x="230.66" y="444.02" font-size="17.5" fill="#000" >60</text>
<text x="291.33" y="444.02" font-size="17.5" fill="#000" >80</text>
<text x="32.98" y="431.53" font-size="17.5" fill="#000" >−5</text>
<text x="43.15" y="401.04" font-size="17.5" fill="#000" >0</text>
<text x="43.20" y="370.77" font-size="17.5" fill="#000" >5</text>
<text x="33.42" y="340.68" font-size="17.5" fill="#000" >10</text>
<text x="33.47" y="310.41" font-size="17.5" fill="#000" >15</text>
<text x="33.42" y="280.32" font-size="17.5" fill="#000" >20</text>
<path d="M58.40,426.5 V422.5 M58.40,275.6 V279.6 M119.00,426.5 V422.5 M119.00,275.6 V279.6 M179.60,426.5 V422.5 M179.60,275.6 V279.6 M240.20,426.5 V422.5 M240.20,275.6 V279.6 M300.80,426.5 V422.5 M300.80,275.6 V279.6 M58.4,426.50 H62.4 M300.8,426.50 H296.8 M58.4,396.32 H62.4 M300.8,396.32 H296.8 M58.4,366.14 H62.4 M300.8,366.14 H296.8 M58.4,335.96 H62.4 M300.8,335.96 H296.8 M58.4,305.78 H62.4 M300.8,305.78 H296.8 M58.4,275.60 H62.4 M300.8,275.60 H296.8" stroke="#333" stroke-width="1.1" fill="none"/>
<path d="M71.8,292.5 H108.2" stroke="#ff0000" stroke-width="1.4"  fill="none"/>
<text x="111.46" y="297.10" font-size="15.5" fill="#000" textLength="71.11" lengthAdjust="spacingAndGlyphs" >μ = 0.2 eV</text>
<path d="M71.8,310.3 H108.2" stroke="#0000ff" stroke-width="1.2" stroke-dasharray="1.1 4.47" fill="none"/>
<text x="111.46" y="314.90" font-size="15.5" fill="#000" textLength="71.11" lengthAdjust="spacingAndGlyphs" >μ = 0.3 eV</text>
<path d="M71.8,328 H108.2" stroke="#00ee00" stroke-width="1.4" stroke-dasharray="1.1 4.4 7.5 4.4" fill="none"/>
<text x="111.46" y="332.60" font-size="15.5" fill="#000" textLength="71.11" lengthAdjust="spacingAndGlyphs" >μ = 0.4 eV</text>
<text x="60.30" y="268.73" font-size="17" fill="#333" textLength="28.59" lengthAdjust="spacingAndGlyphs" >x10</text>
<text x="90.16" y="258.18" font-size="10" fill="#333" textLength="10.14" lengthAdjust="spacing">-4</text>
<ellipse cx="61" cy="396.4" rx="28.8" ry="45.9" fill="none" stroke="#555" stroke-width="1"/>
<text x="-0.59" y="267.80" font-size="24" fill="#000" textLength="29.38" lengthAdjust="spacing">(c)</text>
<text transform="translate(23.80,388.83) rotate(-90)" x="0" y="0" font-size="22" fill="#000" textLength="80.01" lengthAdjust="spacingAndGlyphs">Im(σ)(S)</text>
<text x="151.39" y="466.54" font-size="22" fill="#000" textLength="59.28" lengthAdjust="spacingAndGlyphs" >λ(μm)</text>
<path d="M463.38,132.30 L463.38,51.10 M563.38,169.40 L463.38,132.30 M495.86,125.30 L495.86,44.10 M595.86,162.40 L495.86,125.30 M528.34,118.30 L528.34,37.10 M628.34,155.40 L528.34,118.30 M560.82,111.30 L560.82,30.10 M660.82,148.40 L560.82,111.30 M660.82,148.40 L660.82,67.20 M530.90,176.40 L660.82,148.40 M610.82,129.85 L610.82,48.65 M480.90,157.85 L610.82,129.85 M430.90,98.70 L560.82,70.70 M560.82,70.70 L660.82,107.80 M430.90,58.10 L560.82,30.10 M560.82,30.10 L660.82,67.20 M430.90,139.30 L560.82,111.30" stroke="#8a8a8a" stroke-width="0.9" stroke-dasharray="0.9 4.4" fill="none"/>
<defs><linearGradient id="sbg0" gradientUnits="userSpaceOnUse" x1="0" y1="28" x2="0" y2="178"><stop offset="0.0000" stop-color="#4d4db4"/><stop offset="1.0000" stop-color="#4d4db4"/></linearGradient><linearGradient id="sbg1" gradientUnits="userSpaceOnUse" x1="0" y1="28" x2="0" y2="178"><stop offset="0.0000" stop-color="#4d4db4"/><stop offset="1.0000" stop-color="#4d4db4"/></linearGradient><linearGradient id="sbg2" gradientUnits="userSpaceOnUse" x1="0" y1="28" x2="0" y2="178"><stop offset="0.0000" stop-color="#4d4db4"/><stop offset="1.0000" stop-color="#4d4db4"/></linearGradient><linearGradient id="sbg3" gradientUnits="userSpaceOnUse" x1="0" y1="28" x2="0" y2="178"><stop offset="0.0000" stop-color="#4d4db5"/><stop offset="1.0000" stop-color="#4d4db4"/></linearGradient><linearGradient id="sbg4" gradientUnits="userSpaceOnUse" x1="0" y1="28" x2="0" y2="178"><stop offset="0.0000" stop-color="#4d4db5"/><stop offset="1.0000" stop-color="#4d4db4"/></linearGradient><linearGradient id="sbg5" gradientUnits="userSpaceOnUse" x1="0" y1="28" x2="0" y2="178"><stop offset="0.0000" stop-color="#4d4db7"/><stop offset="1.0000" stop-color="#4d4db4"/></linearGradient><linearGradient id="sbg6" gradientUnits="userSpaceOnUse" x1="0" y1="28" x2="0" y2="178"><stop offset="0.0000" stop-color="#4d4db7"/><stop offset="0.7600" stop-color="#4d4db4"/><stop offset="1.0000" stop-color="#4d4db4"/></linearGradient><linearGradient id="sbg7" gradientUnits="userSpaceOnUse" x1="0" y1="28" x2="0" y2="178"><stop offset="0.0000" stop-color="#4d4db7"/><stop offset="0.7500" stop-color="#4d4db5"/><stop offset="1.0000" stop-color="#4d4db4"/></linearGradient><linearGradient id="sbg8" gradientUnits="userSpaceOnUse" x1="0" y1="28" x2="0" y2="178"><stop offset="0.0000" stop-color="#4d4db9"/><stop offset="0.7300" stop-color="#4d4db7"/><stop offset="1.0000" stop-color="#4d4db4"/></linearGradient><linearGradient id="sbg9" gradientUnits="userSpaceOnUse" x1="0" y1="28" x2="0" y2="178"><stop offset="0.0000" stop-color="#4d4db9"/><stop offset="0.7300" stop-color="#4d4db7"/><stop offset="0.9800" stop-color="#4d4db4"/><stop offset="1.0000" stop-color="#4d4db4"/></linearGradient><linearGradient id="sbg10" gradientUnits="userSpaceOnUse" x1="0" y1="28" x2="0" y2="178"><stop offset="0.0000" stop-color="#4d4dbb"/><stop offset="0.7200" stop-color="#4d4db9"/><stop offset="0.8600" stop-color="#4d4db4"/><stop offset="1.0000" stop-color="#4d4db4"/></linearGradient><linearGradient id="sbg11" gradientUnits="userSpaceOnUse" x1="0" y1="28" x2="0" y2="178"><stop offset="0.0000" stop-color="#4d4dbd"/><stop offset="0.7000" stop-color="#4d4dbc"/><stop offset="0.8200" stop-color="#4d4db4"/><stop offset="1.0000" stop-color="#4d4db4"/></linearGradient><linearGradient id="sbg12" gradientUnits="userSpaceOnUse" x1="0" y1="28" x2="0" y2="178"><stop offset="0.0000" stop-color="#4d4dbe"/><stop offset="0.7000" stop-color="#4d4dbd"/><stop offset="0.8200" stop-color="#4d4db4"/><stop offset="1.0000" stop-color="#4d4db4"/></linearGradient><linearGradient id="sbg13" gradientUnits="userSpaceOnUse" x1="0" y1="28" x2="0" y2="178"><stop offset="0.0000" stop-color="#4d4dc0"/><stop offset="0.6900" stop-color="#4d4dbf"/><stop offset="0.8100" stop-color="#4d4db4"/><stop offset="1.0000" stop-color="#4d4db4"/></linearGradient><linearGradient id="sbg14" gradientUnits="userSpaceOnUse" x1="0" y1="28" x2="0" y2="178"><stop offset="0.0000" stop-color="#4d4dc1"/><stop offset="0.6900" stop-color="#4d4dbf"/><stop offset="0.8100" stop-color="#4d4db4"/><stop offset="1.0000" stop-color="#4d4db4"/></linearGradient><linearGradient id="sbg15" gradientUnits="userSpaceOnUse" x1="0" y1="28" x2="0" y2="178"><stop offset="0.0000" stop-color="#4d4dc3"/><stop offset="0.6800" stop-color="#4d4dc2"/><stop offset="0.8100" stop-color="#4d4db4"/><stop offset="1.0000" stop-color="#4d4db4"/></linearGradient><linearGradient id="sbg16" gradientUnits="userSpaceOnUse" x1="0" y1="28" x2="0" y2="178"><stop offset="0.0000" stop-color="#4d4dc6"/><stop offset="0.6700" stop-color="#4d4dc4"/><stop offset="0.8000" stop-color="#4d4db5"/><stop offset="1.0000" stop-color="#4d4db4"/></linearGradient><linearGradient id="sbg17" gradientUnits="userSpaceOnUse" x1="0" y1="28" x2="0" y2="178"><stop offset="0.0000" stop-color="#4d4dc7"/><stop offset="0.6700" stop-color="#4d4dc5"/><stop offset="0.8100" stop-color="#4d4db4"/><stop offset="1.0000" stop-color="#4d4db4"/></linearGradient><linearGradient id="sbg18" gradientUnits="userSpaceOnUse" x1="0" y1="28" x2="0" y2="178"><stop offset="0.0000" stop-color="#4d4dc9"/><stop offset="0.6600" stop-color="#4d4dc7"/><stop offset="0.8000" stop-color="#4d4db5"/><stop offset="1.0000" stop-color="#4d4db4"/></linearGradient><linearGradient id="sbg19" gradientUnits="userSpaceOnUse" x1="0" y1="28" x2="0" y2="178"><stop offset="0.0000" stop-color="#4d4dcd"/><stop offset="0.6500" stop-color="#4d4dca"/><stop offset="0.7900" stop-color="#4d4db6"/><stop offset="1.0000" stop-color="#4d4db4"/></linearGradient><linearGradient id="sbg20" gradientUnits="userSpaceOnUse" x1="0" y1="28" x2="0" y2="178"><stop offset="0.0000" stop-color="#4d4dce"/><stop offset="0.6500" stop-color="#4d4dcb"/><stop offset="0.7900" stop-color="#4d4db6"/><stop offset="1.0000" stop-color="#4d4db4"/></linearGradient><linearGradient id="sbg21" gradientUnits="userSpaceOnUse" x1="0" y1="28" x2="0" y2="178"><stop offset="0.0000" stop-color="#4d4dd1"/><stop offset="0.6400" stop-color="#4d4dcf"/><stop offset="0.7800" stop-color="#4d4db8"/><stop offset="0.9800" stop-color="#4d4db4"/><stop offset="1.0000" stop-color="#4d4db4"/></linearGradient><linearGradient id="sbg22" gradientUnits="userSpaceOnUse" x1="0" y1="28" x2="0" y2="178"><stop offset="0.0000" stop-color="#4d4dd5"/><stop offset="0.6200" stop-color="#4d4dd5"/><stop offset="0.7500" stop-color="#4d4dbc"/><stop offset="0.8800" stop-color="#4d4db4"/><stop offset="1.0000" stop-color="#4d4db4"/></linearGradient><linearGradient id="sbg23" gradientUnits="userSpaceOnUse" x1="0" y1="28" x2="0" y2="178"><stop offset="0.0000" stop-color="#4d4dd8"/><stop offset="0.6100" stop-color="#4d4dd8"/><stop offset="0.7300" stop-color="#4d4dbf"/><stop offset="0.8600" stop-color="#4d4db4"/><stop offset="1.0000" stop-color="#4d4db4"/></linearGradient><linearGradient id="sbg24" gradientUnits="userSpaceOnUse" x1="0" y1="28" x2="0" y2="178"><stop offset="0.0000" stop-color="#4d4ddc"/><stop offset="0.6000" stop-color="#4d4ddc"/><stop offset="0.7300" stop-color="#4d4dc0"/><stop offset="0.8600" stop-color="#4d4db4"/><stop offset="1.0000" stop-color="#4d4db4"/></linearGradient><linearGradient id="sbg25" gradientUnits="userSpaceOnUse" x1="0" y1="28" x2="0" y2="178"><stop offset="0.0000" stop-color="#4d4ddd"/><stop offset="0.6000" stop-color="#4d4ddd"/><stop offset="0.7300" stop-color="#4d4dc0"/><stop offset="0.8600" stop-color="#4d4db4"/><stop offset="1.0000" stop-color="#4d4db4"/></linearGradient><linearGradient id="sbg26" gradientUnits="userSpaceOnUse" x1="0" y1="28" x2="0" y2="178"><stop offset="0.0000" stop-color="#4d4de1"/><stop offset="0.5900" stop-color="#4d4de1"/><stop offset="0.7200" stop-color="#4d4dc2"/><stop offset="0.8600" stop-color="#4d4db4"/><stop offset="1.0000" stop-color="#4d4db4"/></linearGradient><linearGradient id="sbg27" gradientUnits="userSpaceOnUse" x1="0" y1="28" x2="0" y2="178"><stop offset="0.0000" stop-color="#4d4de5"/><stop offset="0.5800" stop-color="#4d4de5"/><stop offset="0.7200" stop-color="#4d4dc3"/><stop offset="0.8600" stop-color="#4d4db4"/><stop offset="1.0000" stop-color="#4d4db4"/></linearGradient><linearGradient id="sbg28" gradientUnits="userSpaceOnUse" x1="0" y1="28" x2="0" y2="178"><stop offset="0.0000" stop-color="#4d4de9"/><stop offset="0.5700" stop-color="#4d4de9"/><stop offset="0.7200" stop-color="#4d4dc4"/><stop offset="0.8600" stop-color="#4d4db5"/><stop offset="1.0000" stop-color="#4d4db4"/></linearGradient><linearGradient id="sbg29" gradientUnits="userSpaceOnUse" x1="0" y1="28" x2="0" y2="178"><stop offset="0.0000" stop-color="#4d4ded"/><stop offset="0.5600" stop-color="#4d4ded"/><stop offset="0.7200" stop-color="#4d4dc5"/><stop offset="0.8600" stop-color="#4d4db5"/><stop offset="1.0000" stop-color="#4d4db4"/></linearGradient><linearGradient id="sbg30" gradientUnits="userSpaceOnUse" x1="0" y1="28" x2="0" y2="178"><stop offset="0.0000" stop-color="#4d4df1"/><stop offset="0.5500" stop-color="#4d4df1"/><stop offset="0.7200" stop-color="#4d4dc5"/><stop offset="0.8600" stop-color="#4d4db5"/><stop offset="1.0000" stop-color="#4d4db4"/></linearGradient><linearGradient id="sbg31" gradientUnits="userSpaceOnUse" x1="0" y1="28" x2="0" y2="178"><stop offset="0.0000" stop-color="#4d4df5"/><stop offset="0.5400" stop-color="#4d4df5"/><stop offset="0.7200" stop-color="#4d4dc6"/><stop offset="0.8600" stop-color="#4d4db5"/><stop offset="1.0000" stop-color="#4d4db4"/></linearGradient><linearGradient id="sbg32" gradientUnits="userSpaceOnUse" x1="0" y1="28" x2="0" y2="178"><stop offset="0.0000" stop-color="#4d4df9"/><stop offset="0.5300" stop-color="#4d4df9"/><stop offset="0.7200" stop-color="#4d4dc7"/><stop offset="0.8600" stop-color="#4d4db5"/><stop offset="1.0000" stop-color="#4d4db4"/></linearGradient><linearGradient id="sbg33" gradientUnits="userSpaceOnUse" x1="0" y1="28" x2="0" y2="178"><stop offset="0.0000" stop-color="#4d4dfd"/><stop offset="0.5200" stop-color="#4d4dfd"/><stop offset="0.7100" stop-color="#4d4dc9"/><stop offset="0.8600" stop-color="#4d4db6"/><stop offset="1.0000" stop-color="#4d4db4"/></linearGradient><linearGradient id="sbg34" gradientUnits="userSpaceOnUse" x1="0" y1="28" x2="0" y2="178"><stop offset="0.0000" stop-color="#4d4fff"/><stop offset="0.5200" stop-color="#4d4dfe"/><stop offset="0.7200" stop-color="#4d4dc8"/><stop offset="0.8700" stop-color="#4d4db5"/><stop offset="1.0000" stop-color="#4d4db4"/></linearGradient><linearGradient id="sbg35" gradientUnits="userSpaceOnUse" x1="0" y1="28" x2="0" y2="178"><stop offset="0.0000" stop-color="#4d59ff"/><stop offset="0.5000" stop-color="#4d59ff"/><stop offset="0.5100" stop-color="#4d50ff"/><stop offset="0.5500" stop-color="#4d4df6"/><stop offset="0.7300" stop-color="#4d4dc7"/><stop offset="0.8800" stop-color="#4d4db5"/><stop offset="1.0000" stop-color="#4d4db4"/></linearGradient><linearGradient id="sbg36" gradientUnits="userSpaceOnUse" x1="0" y1="28" x2="0" y2="178"><stop offset="0.0000" stop-color="#4d65ff"/><stop offset="0.4900" stop-color="#4d65ff"/><stop offset="0.5100" stop-color="#4d52ff"/><stop offset="0.5300" stop-color="#4d4dfd"/><stop offset="0.7200" stop-color="#4d4dc9"/><stop offset="0.8700" stop-color="#4d4db6"/><stop offset="1.0000" stop-color="#4d4db4"/></linearGradient><linearGradient id="sbg37" gradientUnits="userSpaceOnUse" x1="0" y1="28" x2="0" y2="178"><stop offset="0.0000" stop-color="#4d72ff"/><stop offset="0.4800" stop-color="#4d72ff"/><stop offset="0.5200" stop-color="#4d4fff"/><stop offset="0.7400" stop-color="#4d4dc6"/><stop offset="0.8900" stop-color="#4d4db5"/><stop offset="1.0000" stop-color="#4d4db4"/></linearGradient><linearGradient id="sbg38" gradientUnits="userSpaceOnUse" x1="0" y1="28" x2="0" y2="178"><stop offset="0.0000" stop-color="#4d7fff"/><stop offset="0.4700" stop-color="#4d7fff"/><stop offset="0.5200" stop-color="#4d50ff"/><stop offset="0.5600" stop-color="#4d4df6"/><stop offset="0.7400" stop-color="#4d4dc7"/><stop offset="0.8900" stop-color="#4d4db5"/><stop offset="1.0000" stop-color="#4d4db4"/></linearGradient><linearGradient id="sbg39" gradientUnits="userSpaceOnUse" x1="0" y1="28" x2="0" y2="178"><stop offset="0.0000" stop-color="#4d8cff"/><stop offset="0.4600" stop-color="#4d8cff"/><stop offset="0.5200" stop-color="#4d52ff"/><stop offset="0.5400" stop-color="#4d4dfd"/><stop offset="0.7400" stop-color="#4d4dc8"/><stop offset="0.8900" stop-color="#4d4db5"/><stop offset="1.0000" stop-color="#4d4db4"/></linearGradient><linearGradient id="sbg40" gradientUnits="userSpaceOnUse" x1="0" y1="28" x2="0" y2="178"><stop offset="0.0000" stop-color="#4d99ff"/><stop offset="0.4500" stop-color="#4d99ff"/><stop offset="0.5200" stop-color="#4d55ff"/><stop offset="0.5400" stop-color="#4d4dfe"/><stop offset="0.7400" stop-color="#4d4dc8"/><stop offset="0.8900" stop-color="#4d4db6"/><stop offset="1.0000" stop-color="#4d4db4"/></linearGradient><linearGradient id="sbg41" gradientUnits="userSpaceOnUse" x1="0" y1="28" x2="0" y2="178"><stop offset="0.0000" stop-color="#4da6ff"/><stop offset="0.4400" stop-color="#4da6ff"/><stop offset="0.5300" stop-color="#4d50ff"/><stop offset="0.5700" stop-color="#4d4df6"/><stop offset="0.7500" stop-color="#4d4dc7"/><stop offset="0.9000" stop-color="#4d4db5"/><stop offset="1.0000" stop-color="#4d4db4"/></linearGradient><linearGradient id="sbg42" gradientUnits="userSpaceOnUse" x1="0" y1="28" x2="0" y2="178"><stop offset="0.0000" stop-color="#4dbdff"/><stop offset="0.4200" stop-color="#4dbdff"/><stop offset="0.5300" stop-color="#4d52ff"/><stop offset="0.5500" stop-color="#4d4dfd"/><stop offset="0.7500" stop-color="#4d4dc8"/><stop offset="0.9000" stop-color="#4d4db6"/><stop offset="1.0000" stop-color="#4d4db4"/></linearGradient><linearGradient id="sbg43" gradientUnits="userSpaceOnUse" x1="0" y1="28" x2="0" y2="178"><stop offset="0.0000" stop-color="#4dcbff"/><stop offset="0.4100" stop-color="#4dcbff"/><stop offset="0.5300" stop-color="#4d55ff"/><stop offset="0.5500" stop-color="#4d4dfe"/><stop offset="0.7500" stop-color="#4d4dc9"/><stop offset="0.9000" stop-color="#4d4db6"/><stop offset="1.0000" stop-color="#4d4db4"/></linearGradient><linearGradient id="sbg44" gradientUnits="userSpaceOnUse" x1="0" y1="28" x2="0" y2="178"><stop offset="0.0000" stop-color="#4dd9ff"/><stop offset="0.4000" stop-color="#4dd9ff"/><stop offset="0.5300" stop-color="#4d58ff"/><stop offset="0.5400" stop-color="#4d50ff"/><stop offset="0.5800" stop-color="#4d4df6"/><stop offset="0.7600" stop-color="#4d4dc7"/><stop offset="0.9100" stop-color="#4d4db6"/><stop offset="1.0000" stop-color="#4d4db4"/></linearGradient><linearGradient id="sbg45" gradientUnits="userSpaceOnUse" x1="0" y1="28" x2="0" y2="178"><stop offset="0.0000" stop-color="#4de6ff"/><stop offset="0.3900" stop-color="#4de6ff"/><stop offset="0.5400" stop-color="#4d52ff"/><stop offset="0.5700" stop-color="#4d4dfa"/><stop offset="0.7600" stop-color="#4d4dc8"/><stop offset="0.9100" stop-color="#4d4db6"/><stop offset="1.0000" stop-color="#4d4db4"/></linearGradient><linearGradient id="sbg46" gradientUnits="userSpaceOnUse" x1="0" y1="28" x2="0" y2="178"><stop offset="0.0000" stop-color="#4df4ff"/><stop offset="0.3800" stop-color="#4df4ff"/><stop offset="0.5300" stop-color="#4d5eff"/><stop offset="0.5500" stop-color="#4d4eff"/><stop offset="0.7700" stop-color="#4d4dc7"/><stop offset="0.9200" stop-color="#4d4db5"/><stop offset="1.0000" stop-color="#4d4db4"/></linearGradient><linearGradient id="sbg47" gradientUnits="userSpaceOnUse" x1="0" y1="28" x2="0" y2="178"><stop offset="0.0000" stop-color="#58fff4"/><stop offset="0.3600" stop-color="#58fff4"/><stop offset="0.3700" stop-color="#4ffffd"/><stop offset="0.5400" stop-color="#4d57ff"/><stop offset="0.5500" stop-color="#4d4fff"/><stop offset="0.6100" stop-color="#4d4df0"/><stop offset="0.7800" stop-color="#4d4dc6"/><stop offset="0.9300" stop-color="#4d4db5"/><stop offset="1.0000" stop-color="#4d4db4"/></linearGradient><linearGradient id="sbg48" gradientUnits="userSpaceOnUse" x1="0" y1="28" x2="0" y2="178"><stop offset="0.0000" stop-color="#64ffe8"/><stop offset="0.3500" stop-color="#64ffe8"/><stop offset="0.3700" stop-color="#52fffa"/><stop offset="0.3800" stop-color="#4dfaff"/><stop offset="0.5300" stop-color="#4d64ff"/><stop offset="0.5500" stop-color="#4d51ff"/><stop offset="0.5800" stop-color="#4d4dfa"/><stop offset="0.7700" stop-color="#4d4dc8"/><stop offset="0.9200" stop-color="#4d4db6"/><stop offset="1.0000" stop-color="#4d4db4"/></linearGradient><linearGradient id="sbg49" gradientUnits="userSpaceOnUse" x1="0" y1="28" x2="0" y2="178"><stop offset="0.0000" stop-color="#70ffdc"/><stop offset="0.3400" stop-color="#70ffdc"/><stop offset="0.3800" stop-color="#4dfdff"/><stop offset="0.5300" stop-color="#4d67ff"/><stop offset="0.5600" stop-color="#4d4eff"/><stop offset="0.7800" stop-color="#4d4dc7"/><stop offset="0.9300" stop-color="#4d4db6"/><stop offset="1.0000" stop-color="#4d4db4"/></linearGradient><linearGradient id="sbg50" gradientUnits="userSpaceOnUse" x1="0" y1="28" x2="0" y2="178"><stop offset="0.0000" stop-color="#85ffc6"/><stop offset="0.3200" stop-color="#85ffc6"/><stop offset="0.3800" stop-color="#4efffe"/><stop offset="0.5500" stop-color="#4d57ff"/><stop offset="0.5700" stop-color="#4d4dff"/><stop offset="0.7700" stop-color="#4d4dc9"/><stop offset="0.9200" stop-color="#4d4db6"/><stop offset="1.0000" stop-color="#4d4db4"/></linearGradient><linearGradient id="sbg51" gradientUnits="userSpaceOnUse" x1="0" y1="28" x2="0" y2="178"><stop offset="0.0000" stop-color="#91ffba"/><stop offset="0.3100" stop-color="#91ffba"/><stop offset="0.3800" stop-color="#50fffb"/><stop offset="0.4000" stop-color="#4deeff"/><stop offset="0.5500" stop-color="#4d5aff"/><stop offset="0.5600" stop-color="#4d50ff"/><stop offset="0.6000" stop-color="#4d4df6"/><stop offset="0.7800" stop-color="#4d4dc8"/><stop offset="0.9300" stop-color="#4d4db6"/><stop offset="1.0000" stop-color="#4d4db4"/></linearGradient><linearGradient id="sbg52" gradientUnits="userSpaceOnUse" x1="0" y1="28" x2="0" y2="178"><stop offset="0.0000" stop-color="#9dffae"/><stop offset="0.3000" stop-color="#9dffae"/><stop offset="0.3800" stop-color="#53fff8"/><stop offset="0.3900" stop-color="#4dfcff"/><stop offset="0.5400" stop-color="#4d66ff"/><stop offset="0.5600" stop-color="#4d53ff"/><stop offset="0.5800" stop-color="#4d4dfd"/><stop offset="0.7800" stop-color="#4d4dc9"/><stop offset="0.9300" stop-color="#4d4db6"/><stop offset="1.0000" stop-color="#4d4db4"/></linearGradient><linearGradient id="sbg53" gradientUnits="userSpaceOnUse" x1="0" y1="28" x2="0" y2="178"><stop offset="0.0000" stop-color="#b1ff9a"/><stop offset="0.2800" stop-color="#b1ff9a"/><stop offset="0.3900" stop-color="#4dffff"/><stop offset="0.5400" stop-color="#4d68ff"/><stop offset="0.5700" stop-color="#4d4fff"/><stop offset="0.7900" stop-color="#4d4dc7"/><stop offset="0.9400" stop-color="#4d4db6"/><stop offset="1.0000" stop-color="#4d4db5"/></linearGradient><linearGradient id="sbg54" gradientUnits="userSpaceOnUse" x1="0" y1="28" x2="0" y2="178"><stop offset="0.0000" stop-color="#bcff8f"/><stop offset="0.2700" stop-color="#bcff8f"/><stop offset="0.3900" stop-color="#4ffffc"/><stop offset="0.5700" stop-color="#4d50ff"/><stop offset="0.6200" stop-color="#4d4df3"/><stop offset="0.8000" stop-color="#4d4dc6"/><stop offset="0.9500" stop-color="#4d4db6"/><stop offset="1.0000" stop-color="#4d4db5"/></linearGradient><linearGradient id="sbg55" gradientUnits="userSpaceOnUse" x1="0" y1="28" x2="0" y2="178"><stop offset="0.0000" stop-color="#c7ff85"/><stop offset="0.2600" stop-color="#c7ff85"/><stop offset="0.3500" stop-color="#76ffd5"/><stop offset="0.3900" stop-color="#52fffa"/><stop offset="0.4000" stop-color="#4dfaff"/><stop offset="0.5500" stop-color="#4d64ff"/><stop offset="0.5700" stop-color="#4d52ff"/><stop offset="0.5900" stop-color="#4d4dfd"/><stop offset="0.7900" stop-color="#4d4dc9"/><stop offset="0.9400" stop-color="#4d4db6"/><stop offset="1.0000" stop-color="#4d4db5"/></linearGradient><linearGradient id="sbg56" gradientUnits="userSpaceOnUse" x1="0" y1="28" x2="0" y2="178"><stop offset="0.0000" stop-color="#daff71"/><stop offset="0.2400" stop-color="#daff71"/><stop offset="0.3400" stop-color="#82ffc9"/><stop offset="0.4000" stop-color="#4dfdff"/><stop offset="0.5500" stop-color="#4d67ff"/><stop offset="0.5800" stop-color="#4d4eff"/><stop offset="0.8000" stop-color="#4d4dc7"/><stop offset="0.9500" stop-color="#4d4db6"/><stop offset="1.0000" stop-color="#4d4db5"/></linearGradient><linearGradient id="sbg57" gradientUnits="userSpaceOnUse" x1="0" y1="28" x2="0" y2="178"><stop offset="0.0000" stop-color="#e5ff67"/><stop offset="0.2300" stop-color="#e5ff67"/><stop offset="0.3400" stop-color="#85ffc7"/><stop offset="0.4000" stop-color="#4efffe"/><stop offset="0.5700" stop-color="#4d57ff"/><stop offset="0.5900" stop-color="#4d4dff"/><stop offset="0.7900" stop-color="#4d4dca"/><stop offset="0.9500" stop-color="#4d4db6"/><stop offset="1.0000" stop-color="#4d4db6"/></linearGradient><linearGradient id="sbg58" gradientUnits="userSpaceOnUse" x1="0" y1="28" x2="0" y2="178"><stop offset="0.0000" stop-color="#f8ff53"/><stop offset="0.2100" stop-color="#f8ff53"/><stop offset="0.3400" stop-color="#87ffc4"/><stop offset="0.4000" stop-color="#50fffb"/><stop offset="0.4200" stop-color="#4deeff"/><stop offset="0.5700" stop-color="#4d5aff"/><stop offset="0.5800" stop-color="#4d51ff"/><stop offset="0.6200" stop-color="#4d4df7"/><stop offset="0.8000" stop-color="#4d4dc8"/><stop offset="0.9500" stop-color="#4d4db6"/><stop offset="1.0000" stop-color="#4d4db6"/></linearGradient><linearGradient id="sbg59" gradientUnits="userSpaceOnUse" x1="0" y1="28" x2="0" y2="178"><stop offset="0.0000" stop-color="#fffb4d"/><stop offset="0.2000" stop-color="#fffb4d"/><stop offset="0.2200" stop-color="#f2ff5a"/><stop offset="0.3400" stop-color="#8affc2"/><stop offset="0.4000" stop-color="#53fff9"/><stop offset="0.4100" stop-color="#4dfbff"/><stop offset="0.5600" stop-color="#4d66ff"/><stop offset="0.5800" stop-color="#4d53ff"/><stop offset="0.6000" stop-color="#4d4dfd"/><stop offset="0.8000" stop-color="#4d4dc9"/><stop offset="0.9500" stop-color="#4d4db7"/><stop offset="1.0000" stop-color="#4d4db7"/></linearGradient><linearGradient id="sbg60" gradientUnits="userSpaceOnUse" x1="0" y1="28" x2="0" y2="178"><stop offset="0.0000" stop-color="#ffe74d"/><stop offset="0.1800" stop-color="#ffe74d"/><stop offset="0.2100" stop-color="#fdff4f"/><stop offset="0.3400" stop-color="#8cffbf"/><stop offset="0.4100" stop-color="#4dfeff"/><stop offset="0.5600" stop-color="#4d68ff"/><stop offset="0.5900" stop-color="#4d4fff"/><stop offset="0.8100" stop-color="#4d4dc8"/><stop offset="0.9500" stop-color="#4d4db7"/><stop offset="1.0000" stop-color="#4d4db7"/></linearGradient><linearGradient id="sbg61" gradientUnits="userSpaceOnUse" x1="0" y1="28" x2="0" y2="178"><stop offset="0.0000" stop-color="#ffdc4d"/><stop offset="0.1700" stop-color="#ffdc4d"/><stop offset="0.2100" stop-color="#ffff4d"/><stop offset="0.3500" stop-color="#85ffc6"/><stop offset="0.4100" stop-color="#4efffd"/><stop offset="0.5800" stop-color="#4d58ff"/><stop offset="0.5900" stop-color="#4d50ff"/><stop offset="0.6400" stop-color="#4d4df3"/><stop offset="0.8200" stop-color="#4d4dc7"/><stop offset="0.9500" stop-color="#4d4db8"/><stop offset="1.0000" stop-color="#4d4db8"/></linearGradient><linearGradient id="sbg62" gradientUnits="userSpaceOnUse" x1="0" y1="28" x2="0" y2="178"><stop offset="0.0000" stop-color="#ffc74d"/><stop offset="0.1500" stop-color="#ffc74d"/><stop offset="0.2100" stop-color="#fffd4d"/><stop offset="0.3400" stop-color="#91ffba"/><stop offset="0.4100" stop-color="#51fffb"/><stop offset="0.4300" stop-color="#4defff"/><stop offset="0.5800" stop-color="#4d5bff"/><stop offset="0.5900" stop-color="#4d51ff"/><stop offset="0.6200" stop-color="#4d4dfa"/><stop offset="0.8100" stop-color="#4d4dc9"/><stop offset="0.9500" stop-color="#4d4db8"/><stop offset="1.0000" stop-color="#4d4db8"/></linearGradient><linearGradient id="sbg63" gradientUnits="userSpaceOnUse" x1="0" y1="28" x2="0" y2="178"><stop offset="0.0000" stop-color="#ffbc4d"/><stop offset="0.1400" stop-color="#ffbc4d"/><stop offset="0.2100" stop-color="#fffa4d"/><stop offset="0.2300" stop-color="#f2ff59"/><stop offset="0.3500" stop-color="#8affc1"/><stop offset="0.4100" stop-color="#53fff9"/><stop offset="0.4200" stop-color="#4dfcff"/><stop offset="0.5700" stop-color="#4d66ff"/><stop offset="0.6000" stop-color="#4d4eff"/><stop offset="0.8200" stop-color="#4d4dc8"/><stop offset="0.9500" stop-color="#4d4db8"/><stop offset="1.0000" stop-color="#4d4db8"/></linearGradient><linearGradient id="sbg64" gradientUnits="userSpaceOnUse" x1="0" y1="28" x2="0" y2="178"><stop offset="0.0000" stop-color="#ffa84d"/><stop offset="0.1200" stop-color="#ffa84d"/><stop offset="0.2200" stop-color="#fdff4f"/><stop offset="0.3500" stop-color="#8dffbf"/><stop offset="0.4200" stop-color="#4dffff"/><stop offset="0.5700" stop-color="#4d69ff"/><stop offset="0.6000" stop-color="#4d4fff"/><stop offset="0.8300" stop-color="#4d4dc6"/><stop offset="0.9500" stop-color="#4d4db9"/><stop offset="1.0000" stop-color="#4d4db9"/></linearGradient><linearGradient id="sbg65" gradientUnits="userSpaceOnUse" x1="0" y1="28" x2="0" y2="178"><stop offset="0.0000" stop-color="#ff9a4d"/><stop offset="0.1100" stop-color="#ff9a4d"/><stop offset="0.2200" stop-color="#ffff4d"/><stop offset="0.3600" stop-color="#86ffc6"/><stop offset="0.4200" stop-color="#4ffffd"/><stop offset="0.5900" stop-color="#4d59ff"/><stop offset="0.6000" stop-color="#4d50ff"/><stop offset="0.6500" stop-color="#4d4df3"/><stop offset="0.8300" stop-color="#4d4dc7"/><stop offset="0.9500" stop-color="#4d4dba"/><stop offset="1.0000" stop-color="#4d4dba"/></linearGradient><linearGradient id="sbg66" gradientUnits="userSpaceOnUse" x1="0" y1="28" x2="0" y2="178"><stop offset="0.0000" stop-color="#ff804d"/><stop offset="0.0900" stop-color="#ff804d"/><stop offset="0.1300" stop-color="#ffac4d"/><stop offset="0.2200" stop-color="#fffd4d"/><stop offset="0.3500" stop-color="#91ffba"/><stop offset="0.4200" stop-color="#51fffb"/><stop offset="0.4300" stop-color="#4dfaff"/><stop offset="0.5800" stop-color="#4d64ff"/><stop offset="0.6000" stop-color="#4d52ff"/><stop offset="0.6300" stop-color="#4d4dfa"/><stop offset="0.8200" stop-color="#4d4dc9"/><stop offset="0.9400" stop-color="#4d4dbb"/><stop offset="1.0000" stop-color="#4d4dbb"/></linearGradient><linearGradient id="sbg67" gradientUnits="userSpaceOnUse" x1="0" y1="28" x2="0" y2="178"><stop offset="0.0000" stop-color="#ff714d"/><stop offset="0.0800" stop-color="#ff714d"/><stop offset="0.1400" stop-color="#ffb34d"/><stop offset="0.2200" stop-color="#fffb4d"/><stop offset="0.2400" stop-color="#f2ff59"/><stop offset="0.3600" stop-color="#8affc1"/><stop offset="0.4300" stop-color="#4dfcff"/><stop offset="0.5800" stop-color="#4d67ff"/><stop offset="0.6100" stop-color="#4d4eff"/><stop offset="0.8300" stop-color="#4d4dc8"/><stop offset="0.9400" stop-color="#4d4dbb"/><stop offset="1.0000" stop-color="#4d4dbb"/></linearGradient><linearGradient id="sbg68" gradientUnits="userSpaceOnUse" x1="0" y1="28" x2="0" y2="178"><stop offset="0.0000" stop-color="#ff574d"/><stop offset="0.0600" stop-color="#ff574d"/><stop offset="0.1400" stop-color="#ffb14d"/><stop offset="0.2300" stop-color="#fdff4f"/><stop offset="0.3600" stop-color="#8dffbf"/><stop offset="0.4300" stop-color="#4dffff"/><stop offset="0.5800" stop-color="#4d69ff"/><stop offset="0.6100" stop-color="#4d4fff"/><stop offset="0.7900" stop-color="#4d4dd1"/><stop offset="0.9200" stop-color="#4d4dbc"/><stop offset="1.0000" stop-color="#4d4dbc"/></linearGradient><linearGradient id="sbg69" gradientUnits="userSpaceOnUse" x1="0" y1="28" x2="0" y2="178"><stop offset="0.0000" stop-color="#f44d4d"/><stop offset="0.0400" stop-color="#f44d4d"/><stop offset="0.0500" stop-color="#fb4d4d"/><stop offset="0.0700" stop-color="#ff604d"/><stop offset="0.1400" stop-color="#ffaf4d"/><stop offset="0.2300" stop-color="#ffff4d"/><stop offset="0.3700" stop-color="#85ffc6"/><stop offset="0.4300" stop-color="#4efffd"/><stop offset="0.6000" stop-color="#4d59ff"/><stop offset="0.6100" stop-color="#4d50ff"/><stop offset="0.6600" stop-color="#4d4df3"/><stop offset="0.8400" stop-color="#4d4dc7"/><stop offset="0.9300" stop-color="#4d4dbd"/><stop offset="1.0000" stop-color="#4d4dbd"/></linearGradient><linearGradient id="sbg70" gradientUnits="userSpaceOnUse" x1="0" y1="28" x2="0" y2="178"><stop offset="0.0000" stop-color="#ea4d4d"/><stop offset="0.0300" stop-color="#ea4d4d"/><stop offset="0.0500" stop-color="#f94d4d"/><stop offset="0.0600" stop-color="#ff524d"/><stop offset="0.1400" stop-color="#ffad4d"/><stop offset="0.2300" stop-color="#fffd4d"/><stop offset="0.3600" stop-color="#91ffba"/><stop offset="0.4300" stop-color="#51fffb"/><stop offset="0.4500" stop-color="#4defff"/><stop offset="0.6000" stop-color="#4d5bff"/><stop offset="0.6200" stop-color="#4d4eff"/><stop offset="0.8300" stop-color="#4d4dc9"/><stop offset="0.9300" stop-color="#4d4dbd"/><stop offset="1.0000" stop-color="#4d4dbd"/></linearGradient><linearGradient id="sbg71" gradientUnits="userSpaceOnUse" x1="0" y1="28" x2="0" y2="178"><stop offset="0.0000" stop-color="#d94d4d"/><stop offset="0.0100" stop-color="#d94d4d"/><stop offset="0.0600" stop-color="#ff4f4d"/><stop offset="0.1400" stop-color="#ffaa4d"/><stop offset="0.2300" stop-color="#fffb4d"/><stop offset="0.2500" stop-color="#f2ff5a"/><stop offset="0.3700" stop-color="#8affc2"/><stop offset="0.4300" stop-color="#53fff9"/><stop offset="0.4400" stop-color="#4dfcff"/><stop offset="0.5900" stop-color="#4d66ff"/><stop offset="0.6200" stop-color="#4d4eff"/><stop offset="0.8400" stop-color="#4d4dc8"/><stop offset="0.9200" stop-color="#4d4dbf"/><stop offset="1.0000" stop-color="#4d4dbf"/></linearGradient><linearGradient id="sbg72" gradientUnits="userSpaceOnUse" x1="0" y1="28" x2="0" y2="178"><stop offset="0.0000" stop-color="#d34d4d"/><stop offset="0.0500" stop-color="#f64d4d"/><stop offset="0.0600" stop-color="#ff4d4d"/><stop offset="0.1400" stop-color="#ffa84d"/><stop offset="0.2300" stop-color="#fff94d"/><stop offset="0.2400" stop-color="#fcff4f"/><stop offset="0.3700" stop-color="#8cffbf"/><stop offset="0.4400" stop-color="#4dfeff"/><stop offset="0.5900" stop-color="#4d68ff"/><stop offset="0.6200" stop-color="#4d4fff"/><stop offset="0.8400" stop-color="#4d4dc8"/><stop offset="0.9200" stop-color="#4d4dbf"/><stop offset="1.0000" stop-color="#4d4dbf"/></linearGradient><linearGradient id="sbg73" gradientUnits="userSpaceOnUse" x1="0" y1="28" x2="0" y2="178"><stop offset="0.0000" stop-color="#d24d4d"/><stop offset="0.0500" stop-color="#f44d4d"/><stop offset="0.0600" stop-color="#fc4d4d"/><stop offset="0.1100" stop-color="#ff844d"/><stop offset="0.1500" stop-color="#ffaf4d"/><stop offset="0.2400" stop-color="#feff4d"/><stop offset="0.3800" stop-color="#85ffc7"/><stop offset="0.4400" stop-color="#4efffe"/><stop offset="0.6100" stop-color="#4d58ff"/><stop offset="0.6200" stop-color="#4d50ff"/><stop offset="0.6700" stop-color="#4d4df3"/><stop offset="0.8500" stop-color="#4d4dc7"/><stop offset="0.9100" stop-color="#4d4dc1"/><stop offset="1.0000" stop-color="#4d4dc1"/></linearGradient><linearGradient id="sbg74" gradientUnits="userSpaceOnUse" x1="0" y1="28" x2="0" y2="178"><stop offset="0.0000" stop-color="#d14d4d"/><stop offset="0.0400" stop-color="#eb4d4d"/><stop offset="0.0600" stop-color="#fa4d4d"/><stop offset="0.0700" stop-color="#ff524d"/><stop offset="0.1500" stop-color="#ffad4d"/><stop offset="0.2400" stop-color="#fffe4d"/><stop offset="0.3700" stop-color="#90ffbb"/><stop offset="0.4400" stop-color="#50fffc"/><stop offset="0.4600" stop-color="#4deeff"/><stop offset="0.6100" stop-color="#4d5aff"/><stop offset="0.6200" stop-color="#4d51ff"/><stop offset="0.6500" stop-color="#4d4dfa"/><stop offset="0.8400" stop-color="#4d4dc9"/><stop offset="0.9100" stop-color="#4d4dc1"/><stop offset="1.0000" stop-color="#4d4dc1"/></linearGradient><linearGradient id="sbg75" gradientUnits="userSpaceOnUse" x1="0" y1="28" x2="0" y2="178"><stop offset="0.0000" stop-color="#d04d4d"/><stop offset="0.0300" stop-color="#e14d4d"/><stop offset="0.0600" stop-color="#f84d4d"/><stop offset="0.0700" stop-color="#ff504d"/><stop offset="0.1500" stop-color="#ffab4d"/><stop offset="0.2400" stop-color="#fffc4d"/><stop offset="0.2800" stop-color="#e0ff6c"/><stop offset="0.3800" stop-color="#89ffc2"/><stop offset="0.4400" stop-color="#52fffa"/><stop offset="0.4500" stop-color="#4dfbff"/><stop offset="0.6000" stop-color="#4d66ff"/><stop offset="0.6200" stop-color="#4d53ff"/><stop offset="0.6400" stop-color="#4d4dfd"/><stop offset="0.8400" stop-color="#4d4dc9"/><stop offset="0.9000" stop-color="#4d4dc3"/><stop offset="1.0000" stop-color="#4d4dc3"/></linearGradient><linearGradient id="sbg76" gradientUnits="userSpaceOnUse" x1="0" y1="28" x2="0" y2="178"><stop offset="0.0000" stop-color="#cf4d4d"/><stop offset="0.0300" stop-color="#e04d4d"/><stop offset="0.0700" stop-color="#ff4d4d"/><stop offset="0.1500" stop-color="#ffa94d"/><stop offset="0.2400" stop-color="#fffa4d"/><stop offset="0.2500" stop-color="#fbff50"/><stop offset="0.3800" stop-color="#8bffc0"/><stop offset="0.4500" stop-color="#4dfdff"/><stop offset="0.6000" stop-color="#4d68ff"/><stop offset="0.6300" stop-color="#4d4fff"/><stop offset="0.8500" stop-color="#4d4dc8"/><stop offset="0.9100" stop-color="#4d4dc3"/><stop offset="1.0000" stop-color="#4d4dc3"/></linearGradient><linearGradient id="sbg77" gradientUnits="userSpaceOnUse" x1="0" y1="28" x2="0" y2="178"><stop offset="0.0000" stop-color="#ce4d4d"/><stop offset="0.0300" stop-color="#de4d4d"/><stop offset="0.0700" stop-color="#fd4d4d"/><stop offset="0.1600" stop-color="#ffb04d"/><stop offset="0.2500" stop-color="#fdff4e"/><stop offset="0.3900" stop-color="#84ffc8"/><stop offset="0.4500" stop-color="#4dffff"/><stop offset="0.6000" stop-color="#4d6aff"/><stop offset="0.6300" stop-color="#4d4fff"/><stop offset="0.7000" stop-color="#4d4ded"/><stop offset="0.8700" stop-color="#4d4dc5"/><stop offset="1.0000" stop-color="#4d4dc5"/></linearGradient><linearGradient id="sbg78" gradientUnits="userSpaceOnUse" x1="0" y1="28" x2="0" y2="178"><stop offset="0.0000" stop-color="#cd4d4d"/><stop offset="0.0300" stop-color="#dc4d4d"/><stop offset="0.0700" stop-color="#fb4d4d"/><stop offset="0.0900" stop-color="#ff604d"/><stop offset="0.1600" stop-color="#ffae4d"/><stop offset="0.2500" stop-color="#ffff4d"/><stop offset="0.3900" stop-color="#86ffc6"/><stop offset="0.4500" stop-color="#4ffffd"/><stop offset="0.6300" stop-color="#4d50ff"/><stop offset="0.6800" stop-color="#4d4df3"/><stop offset="0.8600" stop-color="#4d4dc7"/><stop offset="1.0000" stop-color="#4d4dc5"/></linearGradient><linearGradient id="sbg79" gradientUnits="userSpaceOnUse" x1="0" y1="28" x2="0" y2="178"><stop offset="0.0000" stop-color="#cc4d4d"/><stop offset="0.0400" stop-color="#e24d4d"/><stop offset="0.0700" stop-color="#f94d4d"/><stop offset="0.0800" stop-color="#ff514d"/><stop offset="0.1600" stop-color="#ffac4d"/><stop offset="0.2500" stop-color="#fffd4d"/><stop offset="0.3800" stop-color="#91ffba"/><stop offset="0.4500" stop-color="#51fffb"/><stop offset="0.4700" stop-color="#4defff"/><stop offset="0.6200" stop-color="#4d5bff"/><stop offset="0.6400" stop-color="#4d4eff"/><stop offset="0.8500" stop-color="#4d4dc9"/><stop offset="1.0000" stop-color="#4d4dc7"/></linearGradient><linearGradient id="sbg80" gradientUnits="userSpaceOnUse" x1="0" y1="28" x2="0" y2="178"><stop offset="0.0000" stop-color="#cb4d4d"/><stop offset="0.0400" stop-color="#e14d4d"/><stop offset="0.0800" stop-color="#ff4f4d"/><stop offset="0.1600" stop-color="#ffab4d"/><stop offset="0.2500" stop-color="#fffb4d"/><stop offset="0.2700" stop-color="#f2ff5a"/><stop offset="0.3900" stop-color="#8affc2"/><stop offset="0.4500" stop-color="#53fff9"/><stop offset="0.4600" stop-color="#4dfcff"/><stop offset="0.6100" stop-color="#4d66ff"/><stop offset="0.6400" stop-color="#4d4eff"/><stop offset="0.8600" stop-color="#4d4dc8"/><stop offset="1.0000" stop-color="#4d4dc8"/></linearGradient><linearGradient id="sbg81" gradientUnits="userSpaceOnUse" x1="0" y1="28" x2="0" y2="178"><stop offset="0.0000" stop-color="#ca4d4d"/><stop offset="0.0400" stop-color="#df4d4d"/><stop offset="0.0800" stop-color="#ff4d4d"/><stop offset="0.1600" stop-color="#ffa94d"/><stop offset="0.2500" stop-color="#fff94d"/><stop offset="0.2600" stop-color="#fcff4f"/><stop offset="0.3900" stop-color="#8cffc0"/><stop offset="0.4600" stop-color="#4dfeff"/><stop offset="0.6100" stop-color="#4d68ff"/><stop offset="0.6400" stop-color="#4d4fff"/><stop offset="0.8500" stop-color="#4d4dca"/><stop offset="1.0000" stop-color="#4d4dca"/></linearGradient><linearGradient id="sbg82" gradientUnits="userSpaceOnUse" x1="0" y1="28" x2="0" y2="178"><stop offset="0.0000" stop-color="#c94d4d"/><stop offset="0.0400" stop-color="#de4d4d"/><stop offset="0.0800" stop-color="#fd4d4d"/><stop offset="0.1700" stop-color="#ffb04d"/><stop offset="0.2600" stop-color="#feff4e"/><stop offset="0.4000" stop-color="#84ffc7"/><stop offset="0.4600" stop-color="#4dfffe"/><stop offset="0.6200" stop-color="#4d60ff"/><stop offset="0.6400" stop-color="#4d4fff"/><stop offset="0.7100" stop-color="#4d4ded"/><stop offset="0.8500" stop-color="#4d4dca"/><stop offset="1.0000" stop-color="#4d4dca"/></linearGradient><linearGradient id="sbg83" gradientUnits="userSpaceOnUse" x1="0" y1="28" x2="0" y2="178"><stop offset="0.0000" stop-color="#c84d4d"/><stop offset="0.0400" stop-color="#dc4d4d"/><stop offset="0.0800" stop-color="#fb4d4d"/><stop offset="0.1000" stop-color="#ff5f4d"/><stop offset="0.1700" stop-color="#ffae4d"/><stop offset="0.2600" stop-color="#fffe4d"/><stop offset="0.4000" stop-color="#86ffc5"/><stop offset="0.4600" stop-color="#4ffffd"/><stop offset="0.6400" stop-color="#4d50ff"/><stop offset="0.6900" stop-color="#4d4df3"/><stop offset="0.8400" stop-color="#4d4dcd"/><stop offset="1.0000" stop-color="#4d4dcd"/></linearGradient><linearGradient id="sbg84" gradientUnits="userSpaceOnUse" x1="0" y1="28" x2="0" y2="178"><stop offset="0.0000" stop-color="#c74d4d"/><stop offset="0.0400" stop-color="#da4d4d"/><stop offset="0.0800" stop-color="#f94d4d"/><stop offset="0.0900" stop-color="#ff514d"/><stop offset="0.1700" stop-color="#ffac4d"/><stop offset="0.2600" stop-color="#fffd4d"/><stop offset="0.3900" stop-color="#91ffba"/><stop offset="0.4600" stop-color="#51fffb"/><stop offset="0.4800" stop-color="#4defff"/><stop offset="0.6300" stop-color="#4d5bff"/><stop offset="0.6400" stop-color="#4d52ff"/><stop offset="0.6700" stop-color="#4d4dfa"/><stop offset="0.8400" stop-color="#4d4dcd"/><stop offset="1.0000" stop-color="#4d4dcd"/></linearGradient><linearGradient id="sbg85" gradientUnits="userSpaceOnUse" x1="0" y1="28" x2="0" y2="178"><stop offset="0.0000" stop-color="#c64d4d"/><stop offset="0.0500" stop-color="#e14d4d"/><stop offset="0.0900" stop-color="#ff4f4d"/><stop offset="0.1700" stop-color="#ffaa4d"/><stop offset="0.2600" stop-color="#fffb4d"/><stop offset="0.2800" stop-color="#f2ff5a"/><stop offset="0.4000" stop-color="#8affc2"/><stop offset="0.4600" stop-color="#52fff9"/><stop offset="0.4700" stop-color="#4dfbff"/><stop offset="0.6200" stop-color="#4d66ff"/><stop offset="0.6400" stop-color="#4d53ff"/><stop offset="0.6600" stop-color="#4d4dfd"/><stop offset="0.8300" stop-color="#4d4dd0"/><stop offset="1.0000" stop-color="#4d4dd0"/></linearGradient><linearGradient id="sbg86" gradientUnits="userSpaceOnUse" x1="0" y1="28" x2="0" y2="178"><stop offset="0.0000" stop-color="#c64d4d"/><stop offset="0.0500" stop-color="#df4d4d"/><stop offset="0.0900" stop-color="#ff4d4d"/><stop offset="0.1700" stop-color="#ffa94d"/><stop offset="0.2600" stop-color="#fff94d"/><stop offset="0.2700" stop-color="#fcff50"/><stop offset="0.4000" stop-color="#8bffc0"/><stop offset="0.4700" stop-color="#4dfdff"/><stop offset="0.6200" stop-color="#4d67ff"/><stop offset="0.6500" stop-color="#4d4fff"/><stop offset="0.8300" stop-color="#4d4dd0"/><stop offset="1.0000" stop-color="#4d4dd0"/></linearGradient><linearGradient id="sbg87" gradientUnits="userSpaceOnUse" x1="0" y1="28" x2="0" y2="178"><stop offset="0.0000" stop-color="#c54d4d"/><stop offset="0.0500" stop-color="#de4d4d"/><stop offset="0.0900" stop-color="#fd4d4d"/><stop offset="0.1800" stop-color="#ffb04d"/><stop offset="0.2700" stop-color="#feff4e"/><stop offset="0.4100" stop-color="#84ffc8"/><stop offset="0.4700" stop-color="#4dffff"/><stop offset="0.6200" stop-color="#4d69ff"/><stop offset="0.6500" stop-color="#4d4fff"/><stop offset="0.8200" stop-color="#4d4dd3"/><stop offset="1.0000" stop-color="#4d4dd3"/></linearGradient><linearGradient id="sbg88" gradientUnits="userSpaceOnUse" x1="0" y1="28" x2="0" y2="178"><stop offset="0.0000" stop-color="#c44d4d"/><stop offset="0.0500" stop-color="#dc4d4d"/><stop offset="0.0900" stop-color="#fb4d4d"/><stop offset="0.1100" stop-color="#ff5f4d"/><stop offset="0.1800" stop-color="#ffae4d"/><stop offset="0.2700" stop-color="#ffff4d"/><stop offset="0.4100" stop-color="#85ffc6"/><stop offset="0.4700" stop-color="#4efffd"/><stop offset="0.6400" stop-color="#4d58ff"/><stop offset="0.6500" stop-color="#4d50ff"/><stop offset="0.7000" stop-color="#4d4df3"/><stop offset="0.8200" stop-color="#4d4dd3"/><stop offset="1.0000" stop-color="#4d4dd3"/></linearGradient><linearGradient id="sbg89" gradientUnits="userSpaceOnUse" x1="0" y1="28" x2="0" y2="178"><stop offset="0.0000" stop-color="#c34d4d"/><stop offset="0.0500" stop-color="#db4d4d"/><stop offset="0.0900" stop-color="#f94d4d"/><stop offset="0.1000" stop-color="#ff524d"/><stop offset="0.1800" stop-color="#ffad4d"/><stop offset="0.2700" stop-color="#fffd4d"/><stop offset="0.4000" stop-color="#91ffbb"/><stop offset="0.4700" stop-color="#50fffc"/><stop offset="0.4900" stop-color="#4deeff"/><stop offset="0.6400" stop-color="#4d59ff"/><stop offset="0.6500" stop-color="#4d50ff"/><stop offset="0.6900" stop-color="#4d4df6"/><stop offset="0.8100" stop-color="#4d4dd6"/><stop offset="1.0000" stop-color="#4d4dd6"/></linearGradient><linearGradient id="sbg90" gradientUnits="userSpaceOnUse" x1="0" y1="28" x2="0" y2="178"><stop offset="0.0000" stop-color="#c24d4d"/><stop offset="0.0500" stop-color="#d94d4d"/><stop offset="0.1000" stop-color="#ff4f4d"/><stop offset="0.1800" stop-color="#ffab4d"/><stop offset="0.2700" stop-color="#fffc4d"/><stop offset="0.3100" stop-color="#e0ff6c"/><stop offset="0.4100" stop-color="#89ffc3"/><stop offset="0.4700" stop-color="#51fffa"/><stop offset="0.4800" stop-color="#4dfaff"/><stop offset="0.6300" stop-color="#4d64ff"/><stop offset="0.6500" stop-color="#4d52ff"/><stop offset="0.6800" stop-color="#4d4dfa"/><stop offset="0.8100" stop-color="#4d4dd6"/><stop offset="1.0000" stop-color="#4d4dd6"/></linearGradient><linearGradient id="sbg91" gradientUnits="userSpaceOnUse" x1="0" y1="28" x2="0" y2="178"><stop offset="0.0000" stop-color="#c14d4d"/><stop offset="0.0500" stop-color="#d84d4d"/><stop offset="0.1000" stop-color="#ff4d4d"/><stop offset="0.1800" stop-color="#ffa94d"/><stop offset="0.2700" stop-color="#fffa4d"/><stop offset="0.2900" stop-color="#f3ff59"/><stop offset="0.4100" stop-color="#8affc1"/><stop offset="0.4700" stop-color="#53fff9"/><stop offset="0.4800" stop-color="#4dfcff"/><stop offset="0.6300" stop-color="#4d66ff"/><stop offset="0.6500" stop-color="#4d53ff"/><stop offset="0.6700" stop-color="#4d4dfd"/><stop offset="0.8000" stop-color="#4d4dd9"/><stop offset="1.0000" stop-color="#4d4dd9"/></linearGradient><linearGradient id="sbg92" gradientUnits="userSpaceOnUse" x1="0" y1="28" x2="0" y2="178"><stop offset="0.0000" stop-color="#c04d4d"/><stop offset="0.0600" stop-color="#de4d4d"/><stop offset="0.1000" stop-color="#fe4d4d"/><stop offset="0.1900" stop-color="#ffb14d"/><stop offset="0.2800" stop-color="#fdff4f"/><stop offset="0.4100" stop-color="#8cffc0"/><stop offset="0.4800" stop-color="#4dfeff"/><stop offset="0.6300" stop-color="#4d67ff"/><stop offset="0.6600" stop-color="#4d4eff"/><stop offset="0.7900" stop-color="#4d4ddc"/><stop offset="1.0000" stop-color="#4d4ddc"/></linearGradient><linearGradient id="sbg93" gradientUnits="userSpaceOnUse" x1="0" y1="28" x2="0" y2="178"><stop offset="0.0000" stop-color="#c04d4d"/><stop offset="0.0600" stop-color="#dd4d4d"/><stop offset="0.1000" stop-color="#fc4d4d"/><stop offset="0.1300" stop-color="#ff6c4d"/><stop offset="0.1900" stop-color="#ffaf4d"/><stop offset="0.2800" stop-color="#feff4d"/><stop offset="0.4200" stop-color="#84ffc7"/><stop offset="0.4800" stop-color="#4dffff"/><stop offset="0.6400" stop-color="#4d5fff"/><stop offset="0.6600" stop-color="#4d4fff"/><stop offset="0.8000" stop-color="#4d4ddc"/><stop offset="1.0000" stop-color="#4d4ddc"/></linearGradient><linearGradient id="sbg94" gradientUnits="userSpaceOnUse" x1="0" y1="28" x2="0" y2="178"><stop offset="0.0000" stop-color="#bf4d4d"/><stop offset="0.0600" stop-color="#dc4d4d"/><stop offset="0.1000" stop-color="#fa4d4d"/><stop offset="0.1100" stop-color="#ff534d"/><stop offset="0.1900" stop-color="#ffae4d"/><stop offset="0.2800" stop-color="#fffe4d"/><stop offset="0.4200" stop-color="#86ffc6"/><stop offset="0.4800" stop-color="#4efffd"/><stop offset="0.6500" stop-color="#4d57ff"/><stop offset="0.6700" stop-color="#4d4dff"/><stop offset="0.7800" stop-color="#4d4ddf"/><stop offset="1.0000" stop-color="#4d4ddf"/></linearGradient><linearGradient id="sbg95" gradientUnits="userSpaceOnUse" x1="0" y1="28" x2="0" y2="178"><stop offset="0.0000" stop-color="#be4d4d"/><stop offset="0.0600" stop-color="#da4d4d"/><stop offset="0.1000" stop-color="#f94d4d"/><stop offset="0.1100" stop-color="#ff514d"/><stop offset="0.1900" stop-color="#ffac4d"/><stop offset="0.2800" stop-color="#fffd4d"/><stop offset="0.4100" stop-color="#90ffbb"/><stop offset="0.4800" stop-color="#50fffc"/><stop offset="0.5100" stop-color="#4de3ff"/><stop offset="0.6500" stop-color="#4d58ff"/><stop offset="0.6600" stop-color="#4d50ff"/><stop offset="0.7100" stop-color="#4d4df3"/><stop offset="0.7900" stop-color="#4d4ddf"/><stop offset="1.0000" stop-color="#4d4ddf"/></linearGradient><linearGradient id="sbg96" gradientUnits="userSpaceOnUse" x1="0" y1="28" x2="0" y2="178"><stop offset="0.0000" stop-color="#bd4d4d"/><stop offset="0.0600" stop-color="#d94d4d"/><stop offset="0.1100" stop-color="#ff4f4d"/><stop offset="0.1900" stop-color="#ffab4d"/><stop offset="0.2800" stop-color="#fffc4d"/><stop offset="0.3100" stop-color="#e8ff63"/><stop offset="0.4200" stop-color="#88ffc3"/><stop offset="0.4800" stop-color="#51fffb"/><stop offset="0.4900" stop-color="#4dfaff"/><stop offset="0.6400" stop-color="#4d63ff"/><stop offset="0.6600" stop-color="#4d50ff"/><stop offset="0.7000" stop-color="#4d4df6"/><stop offset="0.7800" stop-color="#4d4de2"/><stop offset="1.0000" stop-color="#4d4de2"/></linearGradient><linearGradient id="sbg97" gradientUnits="userSpaceOnUse" x1="0" y1="28" x2="0" y2="178"><stop offset="0.0000" stop-color="#bd4d4d"/><stop offset="0.0600" stop-color="#d84d4d"/><stop offset="0.1100" stop-color="#ff4d4d"/><stop offset="0.1900" stop-color="#ffa94d"/><stop offset="0.2800" stop-color="#fffa4d"/><stop offset="0.3000" stop-color="#f2ff59"/><stop offset="0.4200" stop-color="#8affc2"/><stop offset="0.4800" stop-color="#52fff9"/><stop offset="0.4900" stop-color="#4dfbff"/><stop offset="0.6400" stop-color="#4d64ff"/><stop offset="0.6600" stop-color="#4d52ff"/><stop offset="0.6900" stop-color="#4d4dfa"/><stop offset="0.7600" stop-color="#4d4de5"/><stop offset="1.0000" stop-color="#4d4de5"/></linearGradient><linearGradient id="sbg98" gradientUnits="userSpaceOnUse" x1="0" y1="28" x2="0" y2="178"><stop offset="0.0000" stop-color="#bc4d4d"/><stop offset="0.0700" stop-color="#de4d4d"/><stop offset="0.1100" stop-color="#fe4d4d"/><stop offset="0.2000" stop-color="#ffb14d"/><stop offset="0.2800" stop-color="#fff94d"/><stop offset="0.2900" stop-color="#fcff4f"/><stop offset="0.4200" stop-color="#8bffc0"/><stop offset="0.4900" stop-color="#4dfdff"/><stop offset="0.6400" stop-color="#4d65ff"/><stop offset="0.6600" stop-color="#4d53ff"/><stop offset="0.6800" stop-color="#4d4dfd"/><stop offset="0.7600" stop-color="#4d4de6"/><stop offset="1.0000" stop-color="#4d4de6"/></linearGradient><linearGradient id="sbg99" gradientUnits="userSpaceOnUse" x1="0" y1="28" x2="0" y2="178"><stop offset="0.0000" stop-color="#bb4d4d"/><stop offset="0.0700" stop-color="#dd4d4d"/><stop offset="0.1100" stop-color="#fc4d4d"/><stop offset="0.1500" stop-color="#ff784d"/><stop offset="0.2000" stop-color="#ffb04d"/><stop offset="0.2900" stop-color="#feff4e"/><stop offset="0.4200" stop-color="#8dffbf"/><stop offset="0.4900" stop-color="#4dfeff"/><stop offset="0.6400" stop-color="#4d66ff"/><stop offset="0.6600" stop-color="#4d54ff"/><stop offset="0.6800" stop-color="#4d4dfe"/><stop offset="0.7500" stop-color="#4d4de9"/><stop offset="1.0000" stop-color="#4d4de9"/></linearGradient><linearGradient id="sbg100" gradientUnits="userSpaceOnUse" x1="0" y1="28" x2="0" y2="178"><stop offset="0.0000" stop-color="#ba4d4d"/><stop offset="0.0700" stop-color="#dc4d4d"/><stop offset="0.1100" stop-color="#fa4d4d"/><stop offset="0.1200" stop-color="#ff534d"/><stop offset="0.2000" stop-color="#ffae4d"/><stop offset="0.2900" stop-color="#ffff4d"/><stop offset="0.4300" stop-color="#84ffc7"/><stop offset="0.4900" stop-color="#4dffff"/><stop offset="0.6500" stop-color="#4d5eff"/><stop offset="0.6700" stop-color="#4d4fff"/><stop offset="0.7600" stop-color="#4d4de9"/><stop offset="1.0000" stop-color="#4d4de9"/></linearGradient><linearGradient id="sbg101" gradientUnits="userSpaceOnUse" x1="0" y1="28" x2="0" y2="178"><stop offset="0.0000" stop-color="#ba4d4d"/><stop offset="0.0700" stop-color="#db4d4d"/><stop offset="0.1100" stop-color="#f94d4d"/><stop offset="0.1200" stop-color="#ff514d"/><stop offset="0.2000" stop-color="#ffad4d"/><stop offset="0.2900" stop-color="#fffe4d"/><stop offset="0.4200" stop-color="#8fffbc"/><stop offset="0.4900" stop-color="#4efffd"/><stop offset="0.6600" stop-color="#4d56ff"/><stop offset="0.6800" stop-color="#4d4dfe"/><stop offset="0.7400" stop-color="#4d4dec"/><stop offset="1.0000" stop-color="#4d4dec"/></linearGradient><linearGradient id="sbg102" gradientUnits="userSpaceOnUse" x1="0" y1="28" x2="0" y2="178"><stop offset="0.0000" stop-color="#b94d4d"/><stop offset="0.0700" stop-color="#d94d4d"/><stop offset="0.1200" stop-color="#ff504d"/><stop offset="0.2000" stop-color="#ffab4d"/><stop offset="0.2900" stop-color="#fffd4d"/><stop offset="0.4200" stop-color="#90ffbb"/><stop offset="0.4900" stop-color="#4ffffc"/><stop offset="0.5500" stop-color="#4dc3ff"/><stop offset="0.6600" stop-color="#4d57ff"/><stop offset="0.6800" stop-color="#4d4dff"/><stop offset="0.7300" stop-color="#4d4def"/><stop offset="1.0000" stop-color="#4d4def"/></linearGradient><linearGradient id="sbg103" gradientUnits="userSpaceOnUse" x1="0" y1="28" x2="0" y2="178"><stop offset="0.0000" stop-color="#b84d4d"/><stop offset="0.0700" stop-color="#d84d4d"/><stop offset="0.1200" stop-color="#ff4e4d"/><stop offset="0.2000" stop-color="#ffaa4d"/><stop offset="0.2900" stop-color="#fffb4d"/><stop offset="0.3200" stop-color="#e9ff63"/><stop offset="0.4300" stop-color="#88ffc3"/><stop offset="0.4900" stop-color="#50fffb"/><stop offset="0.5100" stop-color="#4deeff"/><stop offset="0.6600" stop-color="#4d58ff"/><stop offset="0.6700" stop-color="#4d4fff"/><stop offset="0.7300" stop-color="#4d4df0"/><stop offset="1.0000" stop-color="#4d4df0"/></linearGradient><linearGradient id="sbg104" gradientUnits="userSpaceOnUse" x1="0" y1="28" x2="0" y2="178"><stop offset="0.0000" stop-color="#b84d4d"/><stop offset="0.0700" stop-color="#d74d4d"/><stop offset="0.1200" stop-color="#ff4d4d"/><stop offset="0.2000" stop-color="#ffa94d"/><stop offset="0.2900" stop-color="#fffa4d"/><stop offset="0.3100" stop-color="#f2ff59"/><stop offset="0.4300" stop-color="#89ffc2"/><stop offset="0.4900" stop-color="#51fffa"/><stop offset="0.5000" stop-color="#4dfaff"/><stop offset="0.6500" stop-color="#4d62ff"/><stop offset="0.6700" stop-color="#4d50ff"/><stop offset="0.7100" stop-color="#4d4df6"/><stop offset="0.7600" stop-color="#4d4df3"/><stop offset="1.0000" stop-color="#4d4df3"/></linearGradient><linearGradient id="sbg105" gradientUnits="userSpaceOnUse" x1="0" y1="28" x2="0" y2="178"><stop offset="0.0000" stop-color="#b74d4d"/><stop offset="0.0800" stop-color="#de4d4d"/><stop offset="0.1200" stop-color="#fd4d4d"/><stop offset="0.2100" stop-color="#ffb14d"/><stop offset="0.2900" stop-color="#fff94d"/><stop offset="0.3000" stop-color="#fcff4f"/><stop offset="0.4300" stop-color="#8affc1"/><stop offset="0.4900" stop-color="#52fff9"/><stop offset="0.5000" stop-color="#4dfbff"/><stop offset="0.6500" stop-color="#4d63ff"/><stop offset="0.6700" stop-color="#4d50ff"/><stop offset="0.7200" stop-color="#4d4df6"/><stop offset="1.0000" stop-color="#4d4df6"/></linearGradient><linearGradient id="sbg106" gradientUnits="userSpaceOnUse" x1="0" y1="28" x2="0" y2="178"><stop offset="0.0000" stop-color="#b64d4d"/><stop offset="0.0800" stop-color="#dd4d4d"/><stop offset="0.1200" stop-color="#fb4d4d"/><stop offset="0.1500" stop-color="#ff6c4d"/><stop offset="0.2100" stop-color="#ffb04d"/><stop offset="0.3000" stop-color="#fdff4e"/><stop offset="0.4300" stop-color="#8cffc0"/><stop offset="0.5000" stop-color="#4dfcff"/><stop offset="0.6500" stop-color="#4d64ff"/><stop offset="0.6700" stop-color="#4d51ff"/><stop offset="0.7000" stop-color="#4d4df9"/><stop offset="0.7500" stop-color="#4d4df6"/><stop offset="1.0000" stop-color="#4d4df6"/></linearGradient><linearGradient id="sbg107" gradientUnits="userSpaceOnUse" x1="0" y1="28" x2="0" y2="178"><stop offset="0.0000" stop-color="#b64d4d"/><stop offset="0.0800" stop-color="#dc4d4d"/><stop offset="0.1200" stop-color="#fa4d4d"/><stop offset="0.1300" stop-color="#ff534d"/><stop offset="0.2100" stop-color="#ffae4d"/><stop offset="0.3000" stop-color="#feff4d"/><stop offset="0.4300" stop-color="#8dffbf"/><stop offset="0.5000" stop-color="#4dfdff"/><stop offset="0.6500" stop-color="#4d64ff"/><stop offset="0.6700" stop-color="#4d51ff"/><stop offset="0.7000" stop-color="#4d4dfa"/><stop offset="1.0000" stop-color="#4d4dfa"/></linearGradient><linearGradient id="sbg108" gradientUnits="userSpaceOnUse" x1="0" y1="28" x2="0" y2="178"><stop offset="0.0000" stop-color="#b54d4d"/><stop offset="0.0800" stop-color="#db4d4d"/><stop offset="0.1200" stop-color="#f94d4d"/><stop offset="0.1300" stop-color="#ff524d"/><stop offset="0.2100" stop-color="#ffad4d"/><stop offset="0.3000" stop-color="#ffff4d"/><stop offset="0.4300" stop-color="#8effbe"/><stop offset="0.5000" stop-color="#4dffff"/><stop offset="0.6500" stop-color="#4d65ff"/><stop offset="0.6700" stop-color="#4d52ff"/><stop offset="0.6900" stop-color="#4d4dfd"/><stop offset="1.0000" stop-color="#4d4dfd"/></linearGradient><linearGradient id="sbg109" gradientUnits="userSpaceOnUse" x1="0" y1="28" x2="0" y2="178"><stop offset="0.0000" stop-color="#b44d4d"/><stop offset="0.0800" stop-color="#da4d4d"/><stop offset="0.1200" stop-color="#f84d4d"/><stop offset="0.1300" stop-color="#ff504d"/><stop offset="0.2100" stop-color="#ffac4d"/><stop offset="0.3000" stop-color="#fffe4d"/><stop offset="0.4300" stop-color="#8fffbd"/><stop offset="0.5000" stop-color="#4dfffe"/><stop offset="0.6600" stop-color="#4d5cff"/><stop offset="0.6800" stop-color="#4d4eff"/><stop offset="1.0000" stop-color="#4d4dfd"/></linearGradient><linearGradient id="sbg110" gradientUnits="userSpaceOnUse" x1="0" y1="28" x2="0" y2="178"><stop offset="0.0000" stop-color="#b44d4d"/><stop offset="0.0800" stop-color="#d94d4d"/><stop offset="0.1300" stop-color="#ff4f4d"/><stop offset="0.2100" stop-color="#ffab4d"/><stop offset="0.3000" stop-color="#fffd4d"/><stop offset="0.4300" stop-color="#90ffbc"/><stop offset="0.5000" stop-color="#4efffe"/><stop offset="0.6700" stop-color="#4d53ff"/><stop offset="0.6800" stop-color="#4d4eff"/><stop offset="1.0000" stop-color="#4d4eff"/></linearGradient><linearGradient id="sbg111" gradientUnits="userSpaceOnUse" x1="0" y1="28" x2="0" y2="178"><stop offset="0.0000" stop-color="#b34d4d"/><stop offset="0.0800" stop-color="#d84d4d"/><stop offset="0.1300" stop-color="#ff4d4d"/><stop offset="0.2100" stop-color="#ffaa4d"/><stop offset="0.3000" stop-color="#fffc4d"/><stop offset="0.3300" stop-color="#e8ff63"/><stop offset="0.4400" stop-color="#87ffc5"/><stop offset="0.5000" stop-color="#4ffffd"/><stop offset="0.6700" stop-color="#4d54ff"/><stop offset="1.0000" stop-color="#4d54ff"/></linearGradient><linearGradient id="sbg112" gradientUnits="userSpaceOnUse" x1="0" y1="28" x2="0" y2="178"><stop offset="0.0000" stop-color="#b34d4d"/><stop offset="0.0900" stop-color="#de4d4d"/><stop offset="0.1300" stop-color="#fe4d4d"/><stop offset="0.2100" stop-color="#ffa94d"/><stop offset="0.3000" stop-color="#fffb4d"/><stop offset="0.3200" stop-color="#f2ff5a"/><stop offset="0.4400" stop-color="#88ffc4"/><stop offset="0.5000" stop-color="#4ffffc"/><stop offset="0.5400" stop-color="#4dd8ff"/><stop offset="0.6700" stop-color="#4d54ff"/><stop offset="1.0000" stop-color="#4d54ff"/></linearGradient><linearGradient id="sbg113" gradientUnits="userSpaceOnUse" x1="0" y1="28" x2="0" y2="178"><stop offset="0.0000" stop-color="#b24d4d"/><stop offset="0.0900" stop-color="#de4d4d"/><stop offset="0.1300" stop-color="#fd4d4d"/><stop offset="0.2200" stop-color="#ffb14d"/><stop offset="0.3000" stop-color="#fffa4d"/><stop offset="0.3100" stop-color="#fbff50"/><stop offset="0.4400" stop-color="#89ffc3"/><stop offset="0.5000" stop-color="#50fffb"/><stop offset="0.5200" stop-color="#4deeff"/><stop offset="0.6600" stop-color="#4d5eff"/><stop offset="1.0000" stop-color="#4d5eff"/></linearGradient><linearGradient id="sbg114" gradientUnits="userSpaceOnUse" x1="0" y1="28" x2="0" y2="178"><stop offset="0.0000" stop-color="#b14d4d"/><stop offset="0.0900" stop-color="#dd4d4d"/><stop offset="0.1300" stop-color="#fc4d4d"/><stop offset="0.1600" stop-color="#ff6d4d"/><stop offset="0.2200" stop-color="#ffb04d"/><stop offset="0.3000" stop-color="#fff94d"/><stop offset="0.3100" stop-color="#fcff4f"/><stop offset="0.4400" stop-color="#89ffc2"/><stop offset="0.5000" stop-color="#51fffb"/><stop offset="0.5100" stop-color="#4df9ff"/><stop offset="0.6500" stop-color="#4d68ff"/><stop offset="1.0000" stop-color="#4d68ff"/></linearGradient><clipPath id="clipsb"><path d="M430.60,139.20 L431.71,139.12 L432.48,138.94 L433.25,138.76 L434.03,138.57 L434.80,138.38 L435.57,138.18 L436.34,137.97 L437.11,137.76 L437.88,137.54 L438.65,137.32 L439.42,137.09 L440.20,136.86 L440.97,136.62 L441.74,136.38 L442.51,136.13 L443.28,135.88 L444.05,135.62 L444.82,135.36 L445.59,135.09 L446.36,134.82 L447.14,134.54 L447.91,134.26 L448.68,133.97 L449.45,133.68 L450.22,133.39 L450.99,133.08 L451.76,132.78 L452.53,132.47 L453.31,132.15 L454.08,131.83 L454.85,131.51 L455.62,131.18 L456.39,130.84 L457.16,130.50 L457.93,130.16 L458.70,129.81 L459.48,129.46 L460.25,129.10 L461.02,128.74 L461.79,128.37 L462.56,128.00 L463.33,127.63 L464.10,127.25 L464.87,126.86 L465.64,126.47 L466.42,126.08 L467.19,125.68 L467.96,125.28 L468.73,124.87 L469.50,124.46 L470.27,124.05 L471.04,123.63 L471.81,123.20 L472.59,122.77 L473.36,122.34 L474.13,121.90 L474.90,121.46 L475.67,121.01 L476.44,120.56 L477.21,120.10 L477.98,119.64 L478.75,119.18 L479.53,118.71 L480.30,118.24 L481.07,117.76 L481.84,117.28 L482.61,116.79 L483.38,116.30 L484.15,115.81 L484.92,115.31 L485.70,114.81 L486.47,114.30 L487.24,113.79 L488.01,113.27 L488.78,112.75 L489.55,112.23 L490.32,111.70 L491.09,111.16 L491.87,110.63 L492.64,110.08 L493.41,109.54 L494.18,108.99 L494.95,108.43 L495.72,107.88 L496.49,107.31 L497.26,106.75 L498.03,106.17 L498.81,105.60 L499.58,105.02 L500.35,104.44 L501.12,103.85 L501.89,103.25 L502.66,102.66 L503.43,102.06 L504.20,101.45 L504.98,100.84 L505.75,100.23 L506.52,99.61 L507.29,98.99 L508.06,98.37 L508.83,97.74 L509.60,97.10 L510.37,96.46 L511.15,95.82 L511.92,95.18 L512.69,94.53 L513.46,93.87 L514.23,93.21 L515.00,92.55 L515.77,91.88 L516.54,91.21 L517.31,90.54 L518.09,89.86 L518.86,89.17 L519.63,88.49 L520.40,87.79 L521.17,87.10 L521.94,86.40 L522.71,85.69 L523.48,84.99 L524.26,84.27 L525.03,83.56 L525.80,82.84 L526.57,82.11 L527.34,81.39 L528.11,80.65 L528.88,79.92 L529.65,79.18 L530.43,78.43 L531.20,77.68 L531.97,76.93 L532.74,76.17 L533.51,75.41 L534.28,74.65 L535.05,73.88 L535.82,73.11 L536.59,72.33 L537.37,71.55 L538.14,70.76 L538.91,69.97 L539.68,69.18 L540.45,68.39 L541.22,67.58 L541.99,66.78 L542.76,65.97 L543.54,65.16 L544.31,64.34 L545.08,63.52 L545.85,62.69 L546.62,61.87 L547.39,61.03 L548.16,60.20 L548.93,59.36 L549.70,58.51 L550.48,57.66 L551.25,56.81 L552.02,55.95 L552.79,55.09 L553.56,54.23 L554.33,53.36 L555.10,52.49 L555.87,51.61 L556.65,50.73 L557.42,49.84 L558.19,48.96 L558.96,48.06 L559.73,47.17 L560.50,46.27 L561.27,45.36 L562.04,44.45 L562.82,43.54 L563.59,42.63 L564.36,41.71 L565.13,40.78 L565.90,39.85 L566.67,38.92 L567.44,37.99 L568.21,37.05 L568.98,36.10 L569.76,35.16 L570.53,34.20 L571.30,33.25 L572.07,32.29 L572.84,31.40 L588.60,31.40 L607.30,46.40 L634.50,67.30 L660.80,87.30 L660.82,126.60 L659.36,127.37 L657.91,128.14 L656.45,128.91 L655.00,129.67 L653.54,130.43 L652.09,131.18 L650.63,131.93 L649.18,132.67 L647.72,133.41 L646.27,134.14 L644.81,134.87 L643.35,135.59 L641.90,136.31 L640.44,137.02 L638.99,137.73 L637.53,138.44 L636.08,139.14 L634.62,139.83 L633.17,140.52 L631.71,141.21 L630.26,141.89 L628.80,142.57 L627.35,143.24 L625.89,143.90 L624.43,144.56 L622.98,145.22 L621.52,145.87 L620.07,146.52 L618.61,147.16 L617.16,147.80 L615.70,148.43 L614.25,149.06 L612.79,149.68 L611.34,150.30 L609.88,150.91 L608.42,151.52 L606.97,152.12 L605.51,152.72 L604.06,153.31 L602.60,153.90 L601.15,154.48 L599.69,155.06 L598.24,155.63 L596.78,156.20 L595.33,156.76 L593.87,157.32 L592.41,157.88 L590.96,158.42 L589.50,158.97 L588.05,159.50 L586.59,160.04 L585.14,160.56 L583.68,161.09 L582.23,161.60 L580.77,162.12 L579.32,162.62 L577.86,163.13 L576.40,163.62 L574.95,164.11 L573.49,164.60 L572.04,165.08 L570.58,165.56 L569.13,166.03 L567.67,166.49 L566.22,166.95 L564.76,167.41 L563.31,167.86 L561.85,168.30 L560.40,168.74 L558.94,169.17 L557.48,169.60 L556.03,170.02 L554.57,170.44 L553.12,170.85 L551.66,171.26 L550.21,171.66 L548.75,172.05 L547.30,172.44 L545.84,172.82 L545.90,173.20 Z"/></clipPath></defs>
<g clip-path="url(#clipsb)"><rect x="432" y="28" width="2" height="150" fill="url(#sbg0)"/><rect x="434" y="28" width="2" height="150" fill="url(#sbg1)"/><rect x="436" y="28" width="2" height="150" fill="url(#sbg2)"/><rect x="438" y="28" width="2" height="150" fill="url(#sbg3)"/><rect x="440" y="28" width="2" height="150" fill="url(#sbg4)"/><rect x="442" y="28" width="2" height="150" fill="url(#sbg5)"/><rect x="444" y="28" width="2" height="150" fill="url(#sbg6)"/><rect x="446" y="28" width="2" height="150" fill="url(#sbg7)"/><rect x="448" y="28" width="2" height="150" fill="url(#sbg8)"/><rect x="450" y="28" width="2" height="150" fill="url(#sbg9)"/><rect x="452" y="28" width="2" height="150" fill="url(#sbg10)"/><rect x="454" y="28" width="2" height="150" fill="url(#sbg11)"/><rect x="456" y="28" width="2" height="150" fill="url(#sbg12)"/><rect x="458" y="28" width="2" height="150" fill="url(#sbg13)"/><rect x="460" y="28" width="2" height="150" fill="url(#sbg14)"/><rect x="462" y="28" width="2" height="150" fill="url(#sbg15)"/><rect x="464" y="28" width="2" height="150" fill="url(#sbg16)"/><rect x="466" y="28" width="2" height="150" fill="url(#sbg17)"/><rect x="468" y="28" width="2" height="150" fill="url(#sbg18)"/><rect x="470" y="28" width="2" height="150" fill="url(#sbg19)"/><rect x="472" y="28" width="2" height="150" fill="url(#sbg20)"/><rect x="474" y="28" width="2" height="150" fill="url(#sbg21)"/><rect x="476" y="28" width="2" height="150" fill="url(#sbg22)"/><rect x="478" y="28" width="2" height="150" fill="url(#sbg23)"/><rect x="480" y="28" width="2" height="150" fill="url(#sbg24)"/><rect x="482" y="28" width="2" height="150" fill="url(#sbg25)"/><rect x="484" y="28" width="2" height="150" fill="url(#sbg26)"/><rect x="486" y="28" width="2" height="150" fill="url(#sbg27)"/><rect x="488" y="28" width="2" height="150" fill="url(#sbg28)"/><rect x="490" y="28" width="2" height="150" fill="url(#sbg29)"/><rect x="492" y="28" width="2" height="150" fill="url(#sbg30)"/><rect x="494" y="28" width="2" height="150" fill="url(#sbg31)"/><rect x="496" y="28" width="2" height="150" fill="url(#sbg32)"/><rect x="498" y="28" width="2" height="150" fill="url(#sbg33)"/><rect x="500" y="28" width="2" height="150" fill="url(#sbg34)"/><rect x="502" y="28" width="2" height="150" fill="url(#sbg35)"/><rect x="504" y="28" width="2" height="150" fill="url(#sbg36)"/><rect x="506" y="28" width="2" height="150" fill="url(#sbg37)"/><rect x="508" y="28" width="2" height="150" fill="url(#sbg38)"/><rect x="510" y="28" width="2" height="150" fill="url(#sbg39)"/><rect x="512" y="28" width="2" height="150" fill="url(#sbg40)"/><rect x="514" y="28" width="2" height="150" fill="url(#sbg41)"/><rect x="516" y="28" width="2" height="150" fill="url(#sbg42)"/><rect x="518" y="28" width="2" height="150" fill="url(#sbg43)"/><rect x="520" y="28" width="2" height="150" fill="url(#sbg44)"/><rect x="522" y="28" width="2" height="150" fill="url(#sbg45)"/><rect x="524" y="28" width="2" height="150" fill="url(#sbg46)"/><rect x="526" y="28" width="2" height="150" fill="url(#sbg47)"/><rect x="528" y="28" width="2" height="150" fill="url(#sbg48)"/><rect x="530" y="28" width="2" height="150" fill="url(#sbg49)"/><rect x="532" y="28" width="2" height="150" fill="url(#sbg50)"/><rect x="534" y="28" width="2" height="150" fill="url(#sbg51)"/><rect x="536" y="28" width="2" height="150" fill="url(#sbg52)"/><rect x="538" y="28" width="2" height="150" fill="url(#sbg53)"/><rect x="540" y="28" width="2" height="150" fill="url(#sbg54)"/><rect x="542" y="28" width="2" height="150" fill="url(#sbg55)"/><rect x="544" y="28" width="2" height="150" fill="url(#sbg56)"/><rect x="546" y="28" width="2" height="150" fill="url(#sbg57)"/><rect x="548" y="28" width="2" height="150" fill="url(#sbg58)"/><rect x="550" y="28" width="2" height="150" fill="url(#sbg59)"/><rect x="552" y="28" width="2" height="150" fill="url(#sbg60)"/><rect x="554" y="28" width="2" height="150" fill="url(#sbg61)"/><rect x="556" y="28" width="2" height="150" fill="url(#sbg62)"/><rect x="558" y="28" width="2" height="150" fill="url(#sbg63)"/><rect x="560" y="28" width="2" height="150" fill="url(#sbg64)"/><rect x="562" y="28" width="2" height="150" fill="url(#sbg65)"/><rect x="564" y="28" width="2" height="150" fill="url(#sbg66)"/><rect x="566" y="28" width="2" height="150" fill="url(#sbg67)"/><rect x="568" y="28" width="2" height="150" fill="url(#sbg68)"/><rect x="570" y="28" width="2" height="150" fill="url(#sbg69)"/><rect x="572" y="28" width="2" height="150" fill="url(#sbg70)"/><rect x="574" y="28" width="2" height="150" fill="url(#sbg71)"/><rect x="576" y="28" width="2" height="150" fill="url(#sbg72)"/><rect x="578" y="28" width="2" height="150" fill="url(#sbg73)"/><rect x="580" y="28" width="2" height="150" fill="url(#sbg74)"/><rect x="582" y="28" width="2" height="150" fill="url(#sbg75)"/><rect x="584" y="28" width="2" height="150" fill="url(#sbg76)"/><rect x="586" y="28" width="2" height="150" fill="url(#sbg77)"/><rect x="588" y="28" width="2" height="150" fill="url(#sbg78)"/><rect x="590" y="28" width="2" height="150" fill="url(#sbg79)"/><rect x="592" y="28" width="2" height="150" fill="url(#sbg80)"/><rect x="594" y="28" width="2" height="150" fill="url(#sbg81)"/><rect x="596" y="28" width="2" height="150" fill="url(#sbg82)"/><rect x="598" y="28" width="2" height="150" fill="url(#sbg83)"/><rect x="600" y="28" width="2" height="150" fill="url(#sbg84)"/><rect x="602" y="28" width="2" height="150" fill="url(#sbg85)"/><rect x="604" y="28" width="2" height="150" fill="url(#sbg86)"/><rect x="606" y="28" width="2" height="150" fill="url(#sbg87)"/><rect x="608" y="28" width="2" height="150" fill="url(#sbg88)"/><rect x="610" y="28" width="2" height="150" fill="url(#sbg89)"/><rect x="612" y="28" width="2" height="150" fill="url(#sbg90)"/><rect x="614" y="28" width="2" height="150" fill="url(#sbg91)"/><rect x="616" y="28" width="2" height="150" fill="url(#sbg92)"/><rect x="618" y="28" width="2" height="150" fill="url(#sbg93)"/><rect x="620" y="28" width="2" height="150" fill="url(#sbg94)"/><rect x="622" y="28" width="2" height="150" fill="url(#sbg95)"/><rect x="624" y="28" width="2" height="150" fill="url(#sbg96)"/><rect x="626" y="28" width="2" height="150" fill="url(#sbg97)"/><rect x="628" y="28" width="2" height="150" fill="url(#sbg98)"/><rect x="630" y="28" width="2" height="150" fill="url(#sbg99)"/><rect x="632" y="28" width="2" height="150" fill="url(#sbg100)"/><rect x="634" y="28" width="2" height="150" fill="url(#sbg101)"/><rect x="636" y="28" width="2" height="150" fill="url(#sbg102)"/><rect x="638" y="28" width="2" height="150" fill="url(#sbg103)"/><rect x="640" y="28" width="2" height="150" fill="url(#sbg104)"/><rect x="642" y="28" width="2" height="150" fill="url(#sbg105)"/><rect x="644" y="28" width="2" height="150" fill="url(#sbg106)"/><rect x="646" y="28" width="2" height="150" fill="url(#sbg107)"/><rect x="648" y="28" width="2" height="150" fill="url(#sbg108)"/><rect x="650" y="28" width="2" height="150" fill="url(#sbg109)"/><rect x="652" y="28" width="2" height="150" fill="url(#sbg110)"/><rect x="654" y="28" width="2" height="150" fill="url(#sbg111)"/><rect x="656" y="28" width="2" height="150" fill="url(#sbg112)"/><rect x="658" y="28" width="2" height="150" fill="url(#sbg113)"/><rect x="660" y="28" width="2" height="150" fill="url(#sbg114)"/></g>
<path d="M430.60,128.60 L545.90,163.20 L545.90,173.20 L430.60,139.20 Z" fill="#0000ff" fill-opacity="0.7"/>
<path d="M430.90,139.30 L530.90,176.40 M530.90,176.40 L660.82,148.40 M530.90,176.40 L527.38,177.16 M480.90,157.85 L477.38,158.61 M430.90,139.30 L427.38,140.06 M530.90,176.40 L534.28,177.65 M563.38,169.40 L566.76,170.65 M595.86,162.40 L599.24,163.65 M628.34,155.40 L631.72,156.65 M660.82,148.40 L664.20,149.65" stroke="#3a3a3a" stroke-width="1" fill="none"/>
<path d="M430.90,139.30 L430.90,58.10 M430.90,139.30 L427.52,138.05 M430.90,98.70 L427.52,97.45 M430.90,58.10 L427.52,56.85" stroke="#777" stroke-width="1" fill="none"/>
<path d="M460.50,383.43 L460.50,307.52 M571.20,419.62 L460.50,383.43 M490.30,375.05 L490.30,299.15 M601.00,411.25 L490.30,375.05 M520.10,366.68 L520.10,290.77 M630.80,402.88 L520.10,366.68 M549.90,358.30 L549.90,282.40 M660.60,394.50 L549.90,358.30 M660.60,394.50 L660.60,318.60 M541.40,428.00 L660.60,394.50 M605.25,376.40 L605.25,300.50 M486.05,409.90 L605.25,376.40 M430.70,366.50 L549.90,333.00 M549.90,333.00 L660.60,369.20 M430.70,341.20 L549.90,307.70 M549.90,307.70 L660.60,343.90 M430.70,315.90 L549.90,282.40 M549.90,282.40 L660.60,318.60 M430.70,391.80 L549.90,358.30" stroke="#8a8a8a" stroke-width="0.9" stroke-dasharray="0.9 4.4" fill="none"/>
<defs><linearGradient id="sdg0" gradientUnits="userSpaceOnUse" x1="0" y1="280" x2="0" y2="406"><stop offset="0.0000" stop-color="#4d4dca"/><stop offset="0.6786" stop-color="#4d4dca"/><stop offset="0.7143" stop-color="#4d4dc6"/><stop offset="1.0000" stop-color="#4d4dc6"/></linearGradient><linearGradient id="sdg1" gradientUnits="userSpaceOnUse" x1="0" y1="280" x2="0" y2="406"><stop offset="0.0000" stop-color="#4d4dcf"/><stop offset="0.6667" stop-color="#4d4dcf"/><stop offset="0.7024" stop-color="#4d4dc8"/><stop offset="1.0000" stop-color="#4d4dc8"/></linearGradient><linearGradient id="sdg2" gradientUnits="userSpaceOnUse" x1="0" y1="280" x2="0" y2="406"><stop offset="0.0000" stop-color="#4d4dd0"/><stop offset="0.6667" stop-color="#4d4dd0"/><stop offset="0.7024" stop-color="#4d4dc6"/><stop offset="1.0000" stop-color="#4d4dc6"/></linearGradient><linearGradient id="sdg3" gradientUnits="userSpaceOnUse" x1="0" y1="280" x2="0" y2="406"><stop offset="0.0000" stop-color="#4d4dd5"/><stop offset="0.6548" stop-color="#4d4dd5"/><stop offset="0.7024" stop-color="#4d4dc7"/><stop offset="1.0000" stop-color="#4d4dc7"/></linearGradient><linearGradient id="sdg4" gradientUnits="userSpaceOnUse" x1="0" y1="280" x2="0" y2="406"><stop offset="0.0000" stop-color="#4d4dda"/><stop offset="0.6429" stop-color="#4d4dda"/><stop offset="0.7024" stop-color="#4d4dc9"/><stop offset="1.0000" stop-color="#4d4dc9"/></linearGradient><linearGradient id="sdg5" gradientUnits="userSpaceOnUse" x1="0" y1="280" x2="0" y2="406"><stop offset="0.0000" stop-color="#4d4dde"/><stop offset="0.6310" stop-color="#4d4dde"/><stop offset="0.7143" stop-color="#4d4dc7"/><stop offset="1.0000" stop-color="#4d4dc7"/></linearGradient><linearGradient id="sdg6" gradientUnits="userSpaceOnUse" x1="0" y1="280" x2="0" y2="406"><stop offset="0.0000" stop-color="#4d4de3"/><stop offset="0.6190" stop-color="#4d4de3"/><stop offset="0.7143" stop-color="#4d4dc8"/><stop offset="1.0000" stop-color="#4d4dc8"/></linearGradient><linearGradient id="sdg7" gradientUnits="userSpaceOnUse" x1="0" y1="280" x2="0" y2="406"><stop offset="0.0000" stop-color="#4d4de4"/><stop offset="0.6190" stop-color="#4d4de4"/><stop offset="0.7262" stop-color="#4d4dc7"/><stop offset="1.0000" stop-color="#4d4dc7"/></linearGradient><linearGradient id="sdg8" gradientUnits="userSpaceOnUse" x1="0" y1="280" x2="0" y2="406"><stop offset="0.0000" stop-color="#4d4de9"/><stop offset="0.6071" stop-color="#4d4de9"/><stop offset="0.7262" stop-color="#4d4dc8"/><stop offset="1.0000" stop-color="#4d4dc8"/></linearGradient><linearGradient id="sdg9" gradientUnits="userSpaceOnUse" x1="0" y1="280" x2="0" y2="406"><stop offset="0.0000" stop-color="#4d4ded"/><stop offset="0.5952" stop-color="#4d4ded"/><stop offset="0.7381" stop-color="#4d4dc6"/><stop offset="1.0000" stop-color="#4d4dc6"/></linearGradient><linearGradient id="sdg10" gradientUnits="userSpaceOnUse" x1="0" y1="280" x2="0" y2="406"><stop offset="0.0000" stop-color="#4d4df2"/><stop offset="0.5833" stop-color="#4d4df2"/><stop offset="0.7381" stop-color="#4d4dc7"/><stop offset="1.0000" stop-color="#4d4dc7"/></linearGradient><linearGradient id="sdg11" gradientUnits="userSpaceOnUse" x1="0" y1="280" x2="0" y2="406"><stop offset="0.0000" stop-color="#4d4df7"/><stop offset="0.5714" stop-color="#4d4df7"/><stop offset="0.7381" stop-color="#4d4dc9"/><stop offset="1.0000" stop-color="#4d4dc9"/></linearGradient><linearGradient id="sdg12" gradientUnits="userSpaceOnUse" x1="0" y1="280" x2="0" y2="406"><stop offset="0.0000" stop-color="#4d4df8"/><stop offset="0.5714" stop-color="#4d4df8"/><stop offset="0.7500" stop-color="#4d4dc7"/><stop offset="1.0000" stop-color="#4d4dc7"/></linearGradient><linearGradient id="sdg13" gradientUnits="userSpaceOnUse" x1="0" y1="280" x2="0" y2="406"><stop offset="0.0000" stop-color="#4d4dfd"/><stop offset="0.5595" stop-color="#4d4dfd"/><stop offset="0.7500" stop-color="#4d4dc8"/><stop offset="1.0000" stop-color="#4d4dc8"/></linearGradient><linearGradient id="sdg14" gradientUnits="userSpaceOnUse" x1="0" y1="280" x2="0" y2="406"><stop offset="0.0000" stop-color="#4d4fff"/><stop offset="0.5595" stop-color="#4d4dfe"/><stop offset="0.7619" stop-color="#4d4dc7"/><stop offset="1.0000" stop-color="#4d4dc7"/></linearGradient><linearGradient id="sdg15" gradientUnits="userSpaceOnUse" x1="0" y1="280" x2="0" y2="406"><stop offset="0.0000" stop-color="#4d5cff"/><stop offset="0.5357" stop-color="#4d5cff"/><stop offset="0.5476" stop-color="#4d50ff"/><stop offset="0.5952" stop-color="#4d4df4"/><stop offset="0.7619" stop-color="#4d4dc8"/><stop offset="1.0000" stop-color="#4d4dc8"/></linearGradient><linearGradient id="sdg16" gradientUnits="userSpaceOnUse" x1="0" y1="280" x2="0" y2="406"><stop offset="0.0000" stop-color="#4d6eff"/><stop offset="0.5238" stop-color="#4d6eff"/><stop offset="0.5476" stop-color="#4d53ff"/><stop offset="0.5714" stop-color="#4d4dfc"/><stop offset="0.7738" stop-color="#4d4dc6"/><stop offset="1.0000" stop-color="#4d4dc6"/></linearGradient><linearGradient id="sdg17" gradientUnits="userSpaceOnUse" x1="0" y1="280" x2="0" y2="406"><stop offset="0.0000" stop-color="#4d72ff"/><stop offset="0.5238" stop-color="#4d72ff"/><stop offset="0.5476" stop-color="#4d57ff"/><stop offset="0.5595" stop-color="#4d4eff"/><stop offset="0.7738" stop-color="#4d4dc8"/><stop offset="1.0000" stop-color="#4d4dc8"/></linearGradient><linearGradient id="sdg18" gradientUnits="userSpaceOnUse" x1="0" y1="280" x2="0" y2="406"><stop offset="0.0000" stop-color="#4d83ff"/><stop offset="0.5119" stop-color="#4d83ff"/><stop offset="0.5595" stop-color="#4d50ff"/><stop offset="0.6190" stop-color="#4d4df1"/><stop offset="0.7738" stop-color="#4d4dc9"/><stop offset="1.0000" stop-color="#4d4dc9"/></linearGradient><linearGradient id="sdg19" gradientUnits="userSpaceOnUse" x1="0" y1="280" x2="0" y2="406"><stop offset="0.0000" stop-color="#4d94ff"/><stop offset="0.5000" stop-color="#4d94ff"/><stop offset="0.5595" stop-color="#4d52ff"/><stop offset="0.5833" stop-color="#4d4dfc"/><stop offset="0.7857" stop-color="#4d4dc7"/><stop offset="1.0000" stop-color="#4d4dc7"/></linearGradient><linearGradient id="sdg20" gradientUnits="userSpaceOnUse" x1="0" y1="280" x2="0" y2="406"><stop offset="0.0000" stop-color="#4da6ff"/><stop offset="0.4881" stop-color="#4da6ff"/><stop offset="0.5595" stop-color="#4d56ff"/><stop offset="0.5714" stop-color="#4d4eff"/><stop offset="0.7857" stop-color="#4d4dc8"/><stop offset="1.0000" stop-color="#4d4dc8"/></linearGradient><linearGradient id="sdg21" gradientUnits="userSpaceOnUse" x1="0" y1="280" x2="0" y2="406"><stop offset="0.0000" stop-color="#4db7ff"/><stop offset="0.4762" stop-color="#4db7ff"/><stop offset="0.5595" stop-color="#4d5aff"/><stop offset="0.5714" stop-color="#4d4fff"/><stop offset="0.7500" stop-color="#4d4dd2"/><stop offset="0.8095" stop-color="#4d4dc7"/><stop offset="1.0000" stop-color="#4d4dc7"/></linearGradient><linearGradient id="sdg22" gradientUnits="userSpaceOnUse" x1="0" y1="280" x2="0" y2="406"><stop offset="0.0000" stop-color="#4dbbff"/><stop offset="0.4762" stop-color="#4dbbff"/><stop offset="0.5714" stop-color="#4d50ff"/><stop offset="0.6071" stop-color="#4d4df9"/><stop offset="0.7976" stop-color="#4d4dc8"/><stop offset="1.0000" stop-color="#4d4dc8"/></linearGradient><linearGradient id="sdg23" gradientUnits="userSpaceOnUse" x1="0" y1="280" x2="0" y2="406"><stop offset="0.0000" stop-color="#4dccff"/><stop offset="0.4643" stop-color="#4dccff"/><stop offset="0.5714" stop-color="#4d54ff"/><stop offset="0.5833" stop-color="#4d4eff"/><stop offset="0.8095" stop-color="#4d4dc6"/><stop offset="1.0000" stop-color="#4d4dc6"/></linearGradient><linearGradient id="sdg24" gradientUnits="userSpaceOnUse" x1="0" y1="280" x2="0" y2="406"><stop offset="0.0000" stop-color="#4ddeff"/><stop offset="0.4524" stop-color="#4ddeff"/><stop offset="0.5714" stop-color="#4d58ff"/><stop offset="0.5833" stop-color="#4d4fff"/><stop offset="0.8095" stop-color="#4d4dc8"/><stop offset="1.0000" stop-color="#4d4dc8"/></linearGradient><linearGradient id="sdg25" gradientUnits="userSpaceOnUse" x1="0" y1="280" x2="0" y2="406"><stop offset="0.0000" stop-color="#4defff"/><stop offset="0.4405" stop-color="#4defff"/><stop offset="0.5714" stop-color="#4d5bff"/><stop offset="0.5833" stop-color="#4d50ff"/><stop offset="0.6310" stop-color="#4d4df5"/><stop offset="0.8214" stop-color="#4d4dc6"/><stop offset="1.0000" stop-color="#4d4dc6"/></linearGradient><linearGradient id="sdg26" gradientUnits="userSpaceOnUse" x1="0" y1="280" x2="0" y2="406"><stop offset="0.0000" stop-color="#4dfffe"/><stop offset="0.4286" stop-color="#4dfffe"/><stop offset="0.5833" stop-color="#4d52ff"/><stop offset="0.6071" stop-color="#4d4dfc"/><stop offset="0.8214" stop-color="#4d4dc7"/><stop offset="1.0000" stop-color="#4d4dc7"/></linearGradient><linearGradient id="sdg27" gradientUnits="userSpaceOnUse" x1="0" y1="280" x2="0" y2="406"><stop offset="0.0000" stop-color="#50fffc"/><stop offset="0.4286" stop-color="#50fffc"/><stop offset="0.4524" stop-color="#4de8ff"/><stop offset="0.5833" stop-color="#4d56ff"/><stop offset="0.5952" stop-color="#4d4eff"/><stop offset="0.8214" stop-color="#4d4dc8"/><stop offset="1.0000" stop-color="#4d4dc8"/></linearGradient><linearGradient id="sdg28" gradientUnits="userSpaceOnUse" x1="0" y1="280" x2="0" y2="406"><stop offset="0.0000" stop-color="#5bfff0"/><stop offset="0.4167" stop-color="#5bfff0"/><stop offset="0.4286" stop-color="#52fffa"/><stop offset="0.4405" stop-color="#4df9ff"/><stop offset="0.5833" stop-color="#4d59ff"/><stop offset="0.5952" stop-color="#4d4fff"/><stop offset="0.7500" stop-color="#4d4dda"/><stop offset="0.8452" stop-color="#4d4dc7"/><stop offset="1.0000" stop-color="#4d4dc7"/></linearGradient><linearGradient id="sdg29" gradientUnits="userSpaceOnUse" x1="0" y1="280" x2="0" y2="406"><stop offset="0.0000" stop-color="#66ffe5"/><stop offset="0.4048" stop-color="#66ffe5"/><stop offset="0.4405" stop-color="#4dfcff"/><stop offset="0.5833" stop-color="#4d5dff"/><stop offset="0.5952" stop-color="#4d50ff"/><stop offset="0.6429" stop-color="#4d4df6"/><stop offset="0.8333" stop-color="#4d4dc8"/><stop offset="1.0000" stop-color="#4d4dc8"/></linearGradient><linearGradient id="sdg30" gradientUnits="userSpaceOnUse" x1="0" y1="280" x2="0" y2="406"><stop offset="0.0000" stop-color="#72ffda"/><stop offset="0.3929" stop-color="#72ffda"/><stop offset="0.4405" stop-color="#4dffff"/><stop offset="0.5952" stop-color="#4d54ff"/><stop offset="0.6190" stop-color="#4d4dfd"/><stop offset="0.8452" stop-color="#4d4dc6"/><stop offset="1.0000" stop-color="#4d4dc6"/></linearGradient><linearGradient id="sdg31" gradientUnits="userSpaceOnUse" x1="0" y1="280" x2="0" y2="406"><stop offset="0.0000" stop-color="#7dffce"/><stop offset="0.3810" stop-color="#7dffce"/><stop offset="0.4405" stop-color="#4ffffd"/><stop offset="0.4881" stop-color="#4dcbff"/><stop offset="0.5952" stop-color="#4d57ff"/><stop offset="0.6071" stop-color="#4d4fff"/><stop offset="0.8452" stop-color="#4d4dc8"/><stop offset="1.0000" stop-color="#4d4dc8"/></linearGradient><linearGradient id="sdg32" gradientUnits="userSpaceOnUse" x1="0" y1="280" x2="0" y2="406"><stop offset="0.0000" stop-color="#7fffcc"/><stop offset="0.3810" stop-color="#7fffcc"/><stop offset="0.4405" stop-color="#51fffb"/><stop offset="0.4524" stop-color="#4df8ff"/><stop offset="0.5952" stop-color="#4d5aff"/><stop offset="0.6071" stop-color="#4d4fff"/><stop offset="0.6786" stop-color="#4d4def"/><stop offset="0.8571" stop-color="#4d4dc6"/><stop offset="1.0000" stop-color="#4d4dc6"/></linearGradient><linearGradient id="sdg33" gradientUnits="userSpaceOnUse" x1="0" y1="280" x2="0" y2="406"><stop offset="0.0000" stop-color="#8bffc1"/><stop offset="0.3690" stop-color="#8bffc1"/><stop offset="0.4405" stop-color="#53fff9"/><stop offset="0.4524" stop-color="#4dfbff"/><stop offset="0.5952" stop-color="#4d5dff"/><stop offset="0.6071" stop-color="#4d51ff"/><stop offset="0.6429" stop-color="#4d4df9"/><stop offset="0.8571" stop-color="#4d4dc7"/><stop offset="1.0000" stop-color="#4d4dc7"/></linearGradient><linearGradient id="sdg34" gradientUnits="userSpaceOnUse" x1="0" y1="280" x2="0" y2="406"><stop offset="0.0000" stop-color="#96ffb5"/><stop offset="0.3571" stop-color="#96ffb5"/><stop offset="0.4524" stop-color="#4dfeff"/><stop offset="0.5952" stop-color="#4d60ff"/><stop offset="0.6071" stop-color="#4d54ff"/><stop offset="0.6310" stop-color="#4d4dfd"/><stop offset="0.8571" stop-color="#4d4dc8"/><stop offset="1.0000" stop-color="#4d4dc8"/></linearGradient><linearGradient id="sdg35" gradientUnits="userSpaceOnUse" x1="0" y1="280" x2="0" y2="406"><stop offset="0.0000" stop-color="#a2ffaa"/><stop offset="0.3452" stop-color="#a2ffaa"/><stop offset="0.4524" stop-color="#4efffe"/><stop offset="0.6071" stop-color="#4d57ff"/><stop offset="0.6190" stop-color="#4d4fff"/><stop offset="0.8690" stop-color="#4d4dc7"/><stop offset="1.0000" stop-color="#4d4dc7"/></linearGradient><linearGradient id="sdg36" gradientUnits="userSpaceOnUse" x1="0" y1="280" x2="0" y2="406"><stop offset="0.0000" stop-color="#adff9f"/><stop offset="0.3333" stop-color="#adff9f"/><stop offset="0.4524" stop-color="#4ffffc"/><stop offset="0.4762" stop-color="#4de8ff"/><stop offset="0.6071" stop-color="#4d5aff"/><stop offset="0.6190" stop-color="#4d50ff"/><stop offset="0.6786" stop-color="#4d4df2"/><stop offset="0.8690" stop-color="#4d4dc8"/><stop offset="1.0000" stop-color="#4d4dc8"/></linearGradient><linearGradient id="sdg37" gradientUnits="userSpaceOnUse" x1="0" y1="280" x2="0" y2="406"><stop offset="0.0000" stop-color="#aeff9d"/><stop offset="0.3333" stop-color="#aeff9d"/><stop offset="0.4524" stop-color="#51fffa"/><stop offset="0.4643" stop-color="#4df9ff"/><stop offset="0.6071" stop-color="#4d5dff"/><stop offset="0.6190" stop-color="#4d51ff"/><stop offset="0.6548" stop-color="#4d4df9"/><stop offset="0.8810" stop-color="#4d4dc7"/><stop offset="1.0000" stop-color="#4d4dc7"/></linearGradient><linearGradient id="sdg38" gradientUnits="userSpaceOnUse" x1="0" y1="280" x2="0" y2="406"><stop offset="0.0000" stop-color="#b9ff92"/><stop offset="0.3214" stop-color="#b9ff92"/><stop offset="0.4524" stop-color="#53fff8"/><stop offset="0.4643" stop-color="#4dfbff"/><stop offset="0.6071" stop-color="#4d60ff"/><stop offset="0.6190" stop-color="#4d54ff"/><stop offset="0.6429" stop-color="#4d4dfd"/><stop offset="0.8810" stop-color="#4d4dc7"/><stop offset="1.0000" stop-color="#4d4dc7"/></linearGradient><linearGradient id="sdg39" gradientUnits="userSpaceOnUse" x1="0" y1="280" x2="0" y2="406"><stop offset="0.0000" stop-color="#c4ff88"/><stop offset="0.3095" stop-color="#c4ff88"/><stop offset="0.4643" stop-color="#4dfeff"/><stop offset="0.6071" stop-color="#4d63ff"/><stop offset="0.6310" stop-color="#4d4fff"/><stop offset="0.8929" stop-color="#4d4dc6"/><stop offset="1.0000" stop-color="#4d4dc6"/></linearGradient><linearGradient id="sdg40" gradientUnits="userSpaceOnUse" x1="0" y1="280" x2="0" y2="406"><stop offset="0.0000" stop-color="#cfff7d"/><stop offset="0.2976" stop-color="#cfff7d"/><stop offset="0.4643" stop-color="#4efffe"/><stop offset="0.6190" stop-color="#4d5aff"/><stop offset="0.6310" stop-color="#4d50ff"/><stop offset="0.6905" stop-color="#4d4df3"/><stop offset="0.8929" stop-color="#4d4dc7"/><stop offset="1.0000" stop-color="#4d4dc7"/></linearGradient><linearGradient id="sdg41" gradientUnits="userSpaceOnUse" x1="0" y1="280" x2="0" y2="406"><stop offset="0.0000" stop-color="#daff72"/><stop offset="0.2857" stop-color="#daff72"/><stop offset="0.4643" stop-color="#4ffffc"/><stop offset="0.4881" stop-color="#4de8ff"/><stop offset="0.6310" stop-color="#4d51ff"/><stop offset="0.6667" stop-color="#4d4df9"/><stop offset="0.9048" stop-color="#4d4dc6"/><stop offset="1.0000" stop-color="#4d4dc6"/></linearGradient><linearGradient id="sdg42" gradientUnits="userSpaceOnUse" x1="0" y1="280" x2="0" y2="406"><stop offset="0.0000" stop-color="#dbff70"/><stop offset="0.2857" stop-color="#dbff70"/><stop offset="0.4643" stop-color="#51fffa"/><stop offset="0.4762" stop-color="#4df8ff"/><stop offset="0.6190" stop-color="#4d5fff"/><stop offset="0.6310" stop-color="#4d54ff"/><stop offset="0.6548" stop-color="#4d4dfd"/><stop offset="0.8929" stop-color="#4d4dc9"/><stop offset="1.0000" stop-color="#4d4dc7"/></linearGradient><linearGradient id="sdg43" gradientUnits="userSpaceOnUse" x1="0" y1="280" x2="0" y2="406"><stop offset="0.0000" stop-color="#e6ff66"/><stop offset="0.2738" stop-color="#e6ff66"/><stop offset="0.4643" stop-color="#53fff9"/><stop offset="0.4762" stop-color="#4dfbff"/><stop offset="0.6190" stop-color="#4d62ff"/><stop offset="0.6429" stop-color="#4d4fff"/><stop offset="0.9048" stop-color="#4d4dc8"/><stop offset="1.0000" stop-color="#4d4dc8"/></linearGradient><linearGradient id="sdg44" gradientUnits="userSpaceOnUse" x1="0" y1="280" x2="0" y2="406"><stop offset="0.0000" stop-color="#f1ff5b"/><stop offset="0.2619" stop-color="#f1ff5b"/><stop offset="0.4762" stop-color="#4dfdff"/><stop offset="0.6190" stop-color="#4d65ff"/><stop offset="0.6429" stop-color="#4d4fff"/><stop offset="0.7619" stop-color="#4d4de5"/><stop offset="0.9167" stop-color="#4d4dc7"/><stop offset="1.0000" stop-color="#4d4dc7"/></linearGradient><linearGradient id="sdg45" gradientUnits="userSpaceOnUse" x1="0" y1="280" x2="0" y2="406"><stop offset="0.0000" stop-color="#fcff50"/><stop offset="0.2500" stop-color="#fcff50"/><stop offset="0.4762" stop-color="#4dfffe"/><stop offset="0.6310" stop-color="#4d5bff"/><stop offset="0.6429" stop-color="#4d50ff"/><stop offset="0.7024" stop-color="#4d4df3"/><stop offset="0.9167" stop-color="#4d4dc7"/><stop offset="1.0000" stop-color="#4d4dc7"/></linearGradient><linearGradient id="sdg46" gradientUnits="userSpaceOnUse" x1="0" y1="280" x2="0" y2="406"><stop offset="0.0000" stop-color="#fff54d"/><stop offset="0.2381" stop-color="#fff54d"/><stop offset="0.2500" stop-color="#fdff4e"/><stop offset="0.4762" stop-color="#4ffffd"/><stop offset="0.6429" stop-color="#4d52ff"/><stop offset="0.6667" stop-color="#4d4dfd"/><stop offset="0.9048" stop-color="#4d4dca"/><stop offset="0.9643" stop-color="#4d4dc6"/><stop offset="1.0000" stop-color="#4d4dc6"/></linearGradient><linearGradient id="sdg47" gradientUnits="userSpaceOnUse" x1="0" y1="280" x2="0" y2="406"><stop offset="0.0000" stop-color="#fff34d"/><stop offset="0.2381" stop-color="#fff34d"/><stop offset="0.2500" stop-color="#feff4d"/><stop offset="0.4762" stop-color="#50fffb"/><stop offset="0.4881" stop-color="#4df7ff"/><stop offset="0.6310" stop-color="#4d60ff"/><stop offset="0.6429" stop-color="#4d55ff"/><stop offset="0.6667" stop-color="#4d4dfe"/><stop offset="0.9048" stop-color="#4d4dcb"/><stop offset="0.9643" stop-color="#4d4dc7"/><stop offset="1.0000" stop-color="#4d4dc7"/></linearGradient><linearGradient id="sdg48" gradientUnits="userSpaceOnUse" x1="0" y1="280" x2="0" y2="406"><stop offset="0.0000" stop-color="#ffe54d"/><stop offset="0.2262" stop-color="#ffe54d"/><stop offset="0.2500" stop-color="#fffe4d"/><stop offset="0.4762" stop-color="#52fffa"/><stop offset="0.4881" stop-color="#4df9ff"/><stop offset="0.6310" stop-color="#4d63ff"/><stop offset="0.6548" stop-color="#4d4fff"/><stop offset="0.9286" stop-color="#4d4dc8"/><stop offset="1.0000" stop-color="#4d4dc6"/></linearGradient><linearGradient id="sdg49" gradientUnits="userSpaceOnUse" x1="0" y1="280" x2="0" y2="406"><stop offset="0.0000" stop-color="#ffd74d"/><stop offset="0.2143" stop-color="#ffd74d"/><stop offset="0.2500" stop-color="#fffc4d"/><stop offset="0.4762" stop-color="#53fff8"/><stop offset="0.4881" stop-color="#4dfcff"/><stop offset="0.6310" stop-color="#4d65ff"/><stop offset="0.6548" stop-color="#4d4fff"/><stop offset="0.7262" stop-color="#4d4df0"/><stop offset="0.9405" stop-color="#4d4dc7"/><stop offset="1.0000" stop-color="#4d4dc7"/></linearGradient><linearGradient id="sdg50" gradientUnits="userSpaceOnUse" x1="0" y1="280" x2="0" y2="406"><stop offset="0.0000" stop-color="#ffc94d"/><stop offset="0.2024" stop-color="#ffc94d"/><stop offset="0.2500" stop-color="#fffb4d"/><stop offset="0.2738" stop-color="#efff5c"/><stop offset="0.4881" stop-color="#4dfeff"/><stop offset="0.6190" stop-color="#4d73ff"/><stop offset="0.6548" stop-color="#4d50ff"/><stop offset="0.7262" stop-color="#4d4df1"/><stop offset="0.9405" stop-color="#4d4dc8"/><stop offset="1.0000" stop-color="#4d4dc8"/></linearGradient><linearGradient id="sdg51" gradientUnits="userSpaceOnUse" x1="0" y1="280" x2="0" y2="406"><stop offset="0.0000" stop-color="#ffbb4d"/><stop offset="0.1905" stop-color="#ffbb4d"/><stop offset="0.2500" stop-color="#fff94d"/><stop offset="0.2619" stop-color="#faff51"/><stop offset="0.4881" stop-color="#4dfffe"/><stop offset="0.6310" stop-color="#4d69ff"/><stop offset="0.6548" stop-color="#4d52ff"/><stop offset="0.6786" stop-color="#4d4dfd"/><stop offset="0.9048" stop-color="#4d4dce"/><stop offset="0.9762" stop-color="#4d4dc7"/><stop offset="1.0000" stop-color="#4d4dc7"/></linearGradient><linearGradient id="sdg52" gradientUnits="userSpaceOnUse" x1="0" y1="280" x2="0" y2="406"><stop offset="0.0000" stop-color="#ffb94d"/><stop offset="0.1905" stop-color="#ffb94d"/><stop offset="0.2500" stop-color="#fff84d"/><stop offset="0.2619" stop-color="#fbff50"/><stop offset="0.4881" stop-color="#4efffd"/><stop offset="0.6548" stop-color="#4d54ff"/><stop offset="0.6786" stop-color="#4d4dfe"/><stop offset="0.9048" stop-color="#4d4dce"/><stop offset="0.9762" stop-color="#4d4dc7"/><stop offset="1.0000" stop-color="#4d4dc7"/></linearGradient><linearGradient id="sdg53" gradientUnits="userSpaceOnUse" x1="0" y1="280" x2="0" y2="406"><stop offset="0.0000" stop-color="#ffab4d"/><stop offset="0.1786" stop-color="#ffab4d"/><stop offset="0.2500" stop-color="#fff64d"/><stop offset="0.2619" stop-color="#fcff4f"/><stop offset="0.4881" stop-color="#50fffc"/><stop offset="0.5119" stop-color="#4de9ff"/><stop offset="0.6429" stop-color="#4d62ff"/><stop offset="0.6667" stop-color="#4d4fff"/><stop offset="0.9405" stop-color="#4d4dca"/><stop offset="1.0000" stop-color="#4d4dc6"/></linearGradient><linearGradient id="sdg54" gradientUnits="userSpaceOnUse" x1="0" y1="280" x2="0" y2="406"><stop offset="0.0000" stop-color="#ff9d4d"/><stop offset="0.1667" stop-color="#ff9d4d"/><stop offset="0.2619" stop-color="#feff4e"/><stop offset="0.4881" stop-color="#51fffb"/><stop offset="0.5000" stop-color="#4df9ff"/><stop offset="0.6310" stop-color="#4d70ff"/><stop offset="0.6667" stop-color="#4d4fff"/><stop offset="0.7619" stop-color="#4d4deb"/><stop offset="0.9643" stop-color="#4d4dc7"/><stop offset="1.0000" stop-color="#4d4dc7"/></linearGradient><linearGradient id="sdg55" gradientUnits="userSpaceOnUse" x1="0" y1="280" x2="0" y2="406"><stop offset="0.0000" stop-color="#ff8f4d"/><stop offset="0.1548" stop-color="#ff8f4d"/><stop offset="0.2619" stop-color="#ffff4d"/><stop offset="0.4881" stop-color="#52fff9"/><stop offset="0.5000" stop-color="#4dfbff"/><stop offset="0.6310" stop-color="#4d72ff"/><stop offset="0.6667" stop-color="#4d50ff"/><stop offset="0.7381" stop-color="#4d4df1"/><stop offset="0.9524" stop-color="#4d4dc9"/><stop offset="1.0000" stop-color="#4d4dc8"/></linearGradient><linearGradient id="sdg56" gradientUnits="userSpaceOnUse" x1="0" y1="280" x2="0" y2="406"><stop offset="0.0000" stop-color="#ff804d"/><stop offset="0.1429" stop-color="#ff804d"/><stop offset="0.2619" stop-color="#fffe4d"/><stop offset="0.4881" stop-color="#53fff8"/><stop offset="0.5000" stop-color="#4dfcff"/><stop offset="0.6310" stop-color="#4d73ff"/><stop offset="0.6667" stop-color="#4d51ff"/><stop offset="0.7024" stop-color="#4d4dfa"/><stop offset="0.9286" stop-color="#4d4dcd"/><stop offset="1.0000" stop-color="#4d4dca"/></linearGradient><linearGradient id="sdg57" gradientUnits="userSpaceOnUse" x1="0" y1="280" x2="0" y2="406"><stop offset="0.0000" stop-color="#ff7f4d"/><stop offset="0.1429" stop-color="#ff7f4d"/><stop offset="0.2619" stop-color="#fffd4d"/><stop offset="0.5000" stop-color="#4dfeff"/><stop offset="0.6310" stop-color="#4d75ff"/><stop offset="0.6667" stop-color="#4d53ff"/><stop offset="0.6905" stop-color="#4d4dfd"/><stop offset="0.9167" stop-color="#4d4dd0"/><stop offset="0.9762" stop-color="#4d4dca"/><stop offset="1.0000" stop-color="#4d4dca"/></linearGradient><linearGradient id="sdg58" gradientUnits="userSpaceOnUse" x1="0" y1="280" x2="0" y2="406"><stop offset="0.0000" stop-color="#ff714d"/><stop offset="0.1310" stop-color="#ff714d"/><stop offset="0.2619" stop-color="#fffb4d"/><stop offset="0.2976" stop-color="#e6ff66"/><stop offset="0.5000" stop-color="#4dfffe"/><stop offset="0.6429" stop-color="#4d6cff"/><stop offset="0.6667" stop-color="#4d55ff"/><stop offset="0.6905" stop-color="#4d4dfe"/><stop offset="0.9167" stop-color="#4d4dd0"/><stop offset="0.9881" stop-color="#4d4dcd"/><stop offset="1.0000" stop-color="#4d4dcd"/></linearGradient><linearGradient id="sdg59" gradientUnits="userSpaceOnUse" x1="0" y1="280" x2="0" y2="406"><stop offset="0.0000" stop-color="#ff634d"/><stop offset="0.1190" stop-color="#ff634d"/><stop offset="0.2619" stop-color="#fffa4d"/><stop offset="0.2857" stop-color="#f0ff5b"/><stop offset="0.5000" stop-color="#4efffd"/><stop offset="0.6667" stop-color="#4d57ff"/><stop offset="0.6786" stop-color="#4d4fff"/><stop offset="0.9405" stop-color="#4d4dcd"/><stop offset="1.0000" stop-color="#4d4dcd"/></linearGradient><linearGradient id="sdg60" gradientUnits="userSpaceOnUse" x1="0" y1="280" x2="0" y2="406"><stop offset="0.0000" stop-color="#ff544d"/><stop offset="0.1071" stop-color="#ff544d"/><stop offset="0.2619" stop-color="#fff94d"/><stop offset="0.2738" stop-color="#faff51"/><stop offset="0.5000" stop-color="#4ffffc"/><stop offset="0.5238" stop-color="#4de9ff"/><stop offset="0.6548" stop-color="#4d64ff"/><stop offset="0.6786" stop-color="#4d4fff"/><stop offset="0.7857" stop-color="#4d4de9"/><stop offset="0.9405" stop-color="#4d4dcf"/><stop offset="1.0000" stop-color="#4d4dcf"/></linearGradient><linearGradient id="sdg61" gradientUnits="userSpaceOnUse" x1="0" y1="280" x2="0" y2="406"><stop offset="0.0000" stop-color="#fc4d4d"/><stop offset="0.0952" stop-color="#fc4d4d"/><stop offset="0.1071" stop-color="#ff534d"/><stop offset="0.2619" stop-color="#fff84d"/><stop offset="0.2738" stop-color="#fbff50"/><stop offset="0.5000" stop-color="#50fffb"/><stop offset="0.5119" stop-color="#4df8ff"/><stop offset="0.6429" stop-color="#4d71ff"/><stop offset="0.6786" stop-color="#4d50ff"/><stop offset="0.7619" stop-color="#4d4def"/><stop offset="0.9286" stop-color="#4d4dd0"/><stop offset="1.0000" stop-color="#4d4dd0"/></linearGradient><linearGradient id="sdg62" gradientUnits="userSpaceOnUse" x1="0" y1="280" x2="0" y2="406"><stop offset="0.0000" stop-color="#fc4d4d"/><stop offset="0.0952" stop-color="#fc4d4d"/><stop offset="0.1071" stop-color="#ff524d"/><stop offset="0.2619" stop-color="#fff64d"/><stop offset="0.2738" stop-color="#fcff4f"/><stop offset="0.5000" stop-color="#51fffa"/><stop offset="0.5119" stop-color="#4df9ff"/><stop offset="0.6429" stop-color="#4d72ff"/><stop offset="0.6786" stop-color="#4d50ff"/><stop offset="0.7381" stop-color="#4d4df5"/><stop offset="0.9167" stop-color="#4d4dd2"/><stop offset="1.0000" stop-color="#4d4dd2"/></linearGradient><linearGradient id="sdg63" gradientUnits="userSpaceOnUse" x1="0" y1="280" x2="0" y2="406"><stop offset="0.0000" stop-color="#f64d4d"/><stop offset="0.0833" stop-color="#f64d4d"/><stop offset="0.1071" stop-color="#ff514d"/><stop offset="0.2619" stop-color="#fff54d"/><stop offset="0.2738" stop-color="#fdff4e"/><stop offset="0.5000" stop-color="#52fff9"/><stop offset="0.5119" stop-color="#4dfbff"/><stop offset="0.6429" stop-color="#4d74ff"/><stop offset="0.6786" stop-color="#4d52ff"/><stop offset="0.7143" stop-color="#4d4dfa"/><stop offset="0.9167" stop-color="#4d4dd3"/><stop offset="1.0000" stop-color="#4d4dd3"/></linearGradient><linearGradient id="sdg64" gradientUnits="userSpaceOnUse" x1="0" y1="280" x2="0" y2="406"><stop offset="0.0000" stop-color="#f04d4d"/><stop offset="0.0714" stop-color="#f04d4d"/><stop offset="0.1071" stop-color="#ff504d"/><stop offset="0.2738" stop-color="#feff4e"/><stop offset="0.5000" stop-color="#53fff8"/><stop offset="0.5119" stop-color="#4dfcff"/><stop offset="0.6429" stop-color="#4d75ff"/><stop offset="0.6786" stop-color="#4d53ff"/><stop offset="0.7024" stop-color="#4d4dfe"/><stop offset="0.9048" stop-color="#4d4dd5"/><stop offset="1.0000" stop-color="#4d4dd5"/></linearGradient><linearGradient id="sdg65" gradientUnits="userSpaceOnUse" x1="0" y1="280" x2="0" y2="406"><stop offset="0.0000" stop-color="#eb4d4d"/><stop offset="0.0595" stop-color="#eb4d4d"/><stop offset="0.1071" stop-color="#ff4f4d"/><stop offset="0.2738" stop-color="#ffff4d"/><stop offset="0.5119" stop-color="#4dfdff"/><stop offset="0.6429" stop-color="#4d76ff"/><stop offset="0.6786" stop-color="#4d55ff"/><stop offset="0.7024" stop-color="#4d4dfe"/><stop offset="0.9048" stop-color="#4d4dd5"/><stop offset="1.0000" stop-color="#4d4dd5"/></linearGradient><linearGradient id="sdg66" gradientUnits="userSpaceOnUse" x1="0" y1="280" x2="0" y2="406"><stop offset="0.0000" stop-color="#e54d4d"/><stop offset="0.0476" stop-color="#e54d4d"/><stop offset="0.1071" stop-color="#ff4e4d"/><stop offset="0.2738" stop-color="#fffe4d"/><stop offset="0.5119" stop-color="#4dffff"/><stop offset="0.6429" stop-color="#4d78ff"/><stop offset="0.6786" stop-color="#4d56ff"/><stop offset="0.6905" stop-color="#4d4fff"/><stop offset="0.8929" stop-color="#4d4dd8"/><stop offset="1.0000" stop-color="#4d4dd8"/></linearGradient><linearGradient id="sdg67" gradientUnits="userSpaceOnUse" x1="0" y1="280" x2="0" y2="406"><stop offset="0.0000" stop-color="#e44d4d"/><stop offset="0.0476" stop-color="#e44d4d"/><stop offset="0.1071" stop-color="#ff4d4d"/><stop offset="0.2738" stop-color="#fffd4d"/><stop offset="0.5119" stop-color="#4dfffe"/><stop offset="0.6548" stop-color="#4d6eff"/><stop offset="0.6905" stop-color="#4d4fff"/><stop offset="0.9048" stop-color="#4d4dd8"/><stop offset="1.0000" stop-color="#4d4dd8"/></linearGradient><linearGradient id="sdg68" gradientUnits="userSpaceOnUse" x1="0" y1="280" x2="0" y2="406"><stop offset="0.0000" stop-color="#df4d4d"/><stop offset="0.0357" stop-color="#df4d4d"/><stop offset="0.1071" stop-color="#ff4d4d"/><stop offset="0.2738" stop-color="#fffc4d"/><stop offset="0.4881" stop-color="#5fffec"/><stop offset="0.5119" stop-color="#4efffe"/><stop offset="0.6667" stop-color="#4d64ff"/><stop offset="0.6905" stop-color="#4d4fff"/><stop offset="0.7738" stop-color="#4d4def"/><stop offset="0.8929" stop-color="#4d4dda"/><stop offset="1.0000" stop-color="#4d4dda"/></linearGradient><linearGradient id="sdg69" gradientUnits="userSpaceOnUse" x1="0" y1="280" x2="0" y2="406"><stop offset="0.0000" stop-color="#d94d4d"/><stop offset="0.0238" stop-color="#d94d4d"/><stop offset="0.1071" stop-color="#fe4d4d"/><stop offset="0.2738" stop-color="#fffb4d"/><stop offset="0.3095" stop-color="#e6ff66"/><stop offset="0.5119" stop-color="#4ffffd"/><stop offset="0.6786" stop-color="#4d5aff"/><stop offset="0.6905" stop-color="#4d50ff"/><stop offset="0.7857" stop-color="#4d4ded"/><stop offset="0.8929" stop-color="#4d4ddb"/><stop offset="1.0000" stop-color="#4d4ddb"/></linearGradient><linearGradient id="sdg70" gradientUnits="userSpaceOnUse" x1="0" y1="280" x2="0" y2="406"><stop offset="0.0000" stop-color="#d34d4d"/><stop offset="0.0119" stop-color="#d34d4d"/><stop offset="0.1071" stop-color="#fe4d4d"/><stop offset="0.2738" stop-color="#fffb4d"/><stop offset="0.2976" stop-color="#f0ff5c"/><stop offset="0.5119" stop-color="#4ffffc"/><stop offset="0.5357" stop-color="#4deaff"/><stop offset="0.6667" stop-color="#4d66ff"/><stop offset="0.6905" stop-color="#4d50ff"/><stop offset="0.7619" stop-color="#4d4df2"/><stop offset="0.8810" stop-color="#4d4ddd"/><stop offset="1.0000" stop-color="#4d4ddd"/></linearGradient><linearGradient id="sdg71" gradientUnits="userSpaceOnUse" x1="0" y1="280" x2="0" y2="406"><stop offset="0.0000" stop-color="#d24d4d"/><stop offset="0.0119" stop-color="#d24d4d"/><stop offset="0.1071" stop-color="#fe4d4d"/><stop offset="0.1667" stop-color="#ff8a4d"/><stop offset="0.2738" stop-color="#fffa4d"/><stop offset="0.2857" stop-color="#faff52"/><stop offset="0.5119" stop-color="#50fffb"/><stop offset="0.5238" stop-color="#4df7ff"/><stop offset="0.6548" stop-color="#4d72ff"/><stop offset="0.6905" stop-color="#4d51ff"/><stop offset="0.7381" stop-color="#4d4df8"/><stop offset="0.8810" stop-color="#4d4ddd"/><stop offset="1.0000" stop-color="#4d4ddd"/></linearGradient><linearGradient id="sdg72" gradientUnits="userSpaceOnUse" x1="0" y1="280" x2="0" y2="406"><stop offset="0.0000" stop-color="#cc4d4d"/><stop offset="0.1071" stop-color="#fd4d4d"/><stop offset="0.1310" stop-color="#ff624d"/><stop offset="0.2738" stop-color="#fff94d"/><stop offset="0.2857" stop-color="#faff51"/><stop offset="0.5119" stop-color="#51fffb"/><stop offset="0.5238" stop-color="#4df8ff"/><stop offset="0.6548" stop-color="#4d73ff"/><stop offset="0.6905" stop-color="#4d52ff"/><stop offset="0.7262" stop-color="#4d4dfb"/><stop offset="0.8690" stop-color="#4d4de0"/><stop offset="1.0000" stop-color="#4d4de0"/></linearGradient><linearGradient id="sdg73" gradientUnits="userSpaceOnUse" x1="0" y1="280" x2="0" y2="406"><stop offset="0.0000" stop-color="#cb4d4d"/><stop offset="0.1071" stop-color="#fd4d4d"/><stop offset="0.1310" stop-color="#ff624d"/><stop offset="0.2738" stop-color="#fff84d"/><stop offset="0.2857" stop-color="#fbff51"/><stop offset="0.5119" stop-color="#51fffa"/><stop offset="0.5238" stop-color="#4df9ff"/><stop offset="0.6548" stop-color="#4d74ff"/><stop offset="0.6905" stop-color="#4d53ff"/><stop offset="0.7143" stop-color="#4d4dfe"/><stop offset="0.8571" stop-color="#4d4de0"/><stop offset="1.0000" stop-color="#4d4de0"/></linearGradient><linearGradient id="sdg74" gradientUnits="userSpaceOnUse" x1="0" y1="280" x2="0" y2="406"><stop offset="0.0000" stop-color="#cb4d4d"/><stop offset="0.1071" stop-color="#fd4d4d"/><stop offset="0.1190" stop-color="#ff544d"/><stop offset="0.2738" stop-color="#fff84d"/><stop offset="0.2857" stop-color="#fbff50"/><stop offset="0.5119" stop-color="#52fffa"/><stop offset="0.5238" stop-color="#4dfaff"/><stop offset="0.6548" stop-color="#4d75ff"/><stop offset="0.6905" stop-color="#4d54ff"/><stop offset="0.7143" stop-color="#4d4dfe"/><stop offset="0.8571" stop-color="#4d4de2"/><stop offset="1.0000" stop-color="#4d4de2"/></linearGradient><linearGradient id="sdg75" gradientUnits="userSpaceOnUse" x1="0" y1="280" x2="0" y2="406"><stop offset="0.0000" stop-color="#cb4d4d"/><stop offset="0.1071" stop-color="#fd4d4d"/><stop offset="0.1190" stop-color="#ff534d"/><stop offset="0.2738" stop-color="#fff74d"/><stop offset="0.2857" stop-color="#fcff50"/><stop offset="0.5119" stop-color="#52fff9"/><stop offset="0.5238" stop-color="#4dfbff"/><stop offset="0.6548" stop-color="#4d76ff"/><stop offset="0.6905" stop-color="#4d54ff"/><stop offset="0.7143" stop-color="#4d4dfe"/><stop offset="0.8571" stop-color="#4d4de2"/><stop offset="1.0000" stop-color="#4d4de2"/></linearGradient><linearGradient id="sdg76" gradientUnits="userSpaceOnUse" x1="0" y1="280" x2="0" y2="406"><stop offset="0.0000" stop-color="#ca4d4d"/><stop offset="0.1071" stop-color="#fc4d4d"/><stop offset="0.1190" stop-color="#ff534d"/><stop offset="0.2738" stop-color="#fff64d"/><stop offset="0.2857" stop-color="#fcff4f"/><stop offset="0.5119" stop-color="#53fff9"/><stop offset="0.5238" stop-color="#4dfcff"/><stop offset="0.6548" stop-color="#4d76ff"/><stop offset="0.6905" stop-color="#4d55ff"/><stop offset="0.7143" stop-color="#4d4dfe"/><stop offset="0.8452" stop-color="#4d4de5"/><stop offset="1.0000" stop-color="#4d4de5"/></linearGradient><linearGradient id="sdg77" gradientUnits="userSpaceOnUse" x1="0" y1="280" x2="0" y2="406"><stop offset="0.0000" stop-color="#ca4d4d"/><stop offset="0.1071" stop-color="#fc4d4d"/><stop offset="0.1190" stop-color="#ff524d"/><stop offset="0.2738" stop-color="#fff64d"/><stop offset="0.2857" stop-color="#fdff4f"/><stop offset="0.5119" stop-color="#53fff8"/><stop offset="0.5238" stop-color="#4dfcff"/><stop offset="0.6548" stop-color="#4d77ff"/><stop offset="0.6905" stop-color="#4d56ff"/><stop offset="0.7143" stop-color="#4d4dfe"/><stop offset="0.8452" stop-color="#4d4de5"/><stop offset="1.0000" stop-color="#4d4de5"/></linearGradient><linearGradient id="sdg78" gradientUnits="userSpaceOnUse" x1="0" y1="280" x2="0" y2="406"><stop offset="0.0000" stop-color="#ca4d4d"/><stop offset="0.1071" stop-color="#fc4d4d"/><stop offset="0.1190" stop-color="#ff524d"/><stop offset="0.2738" stop-color="#fff54d"/><stop offset="0.2857" stop-color="#fdff4e"/><stop offset="0.5238" stop-color="#4dfdff"/><stop offset="0.6548" stop-color="#4d78ff"/><stop offset="0.6905" stop-color="#4d56ff"/><stop offset="0.7024" stop-color="#4d4fff"/><stop offset="0.8333" stop-color="#4d4de7"/><stop offset="1.0000" stop-color="#4d4de7"/></linearGradient><linearGradient id="sdg79" gradientUnits="userSpaceOnUse" x1="0" y1="280" x2="0" y2="406"><stop offset="0.0000" stop-color="#ca4d4d"/><stop offset="0.1071" stop-color="#fc4d4d"/><stop offset="0.1190" stop-color="#ff514d"/><stop offset="0.2738" stop-color="#fff54d"/><stop offset="0.2857" stop-color="#feff4e"/><stop offset="0.5238" stop-color="#4dfeff"/><stop offset="0.6548" stop-color="#4d78ff"/><stop offset="0.7024" stop-color="#4d4fff"/><stop offset="0.8214" stop-color="#4d4dea"/><stop offset="1.0000" stop-color="#4d4dea"/></linearGradient><linearGradient id="sdg80" gradientUnits="userSpaceOnUse" x1="0" y1="280" x2="0" y2="406"><stop offset="0.0000" stop-color="#c94d4d"/><stop offset="0.1071" stop-color="#fb4d4d"/><stop offset="0.1190" stop-color="#ff514d"/><stop offset="0.2857" stop-color="#feff4d"/><stop offset="0.5238" stop-color="#4dfeff"/><stop offset="0.6548" stop-color="#4d79ff"/><stop offset="0.7024" stop-color="#4d4fff"/><stop offset="0.8214" stop-color="#4d4dea"/><stop offset="1.0000" stop-color="#4d4dea"/></linearGradient><linearGradient id="sdg81" gradientUnits="userSpaceOnUse" x1="0" y1="280" x2="0" y2="406"><stop offset="0.0000" stop-color="#c94d4d"/><stop offset="0.1071" stop-color="#fb4d4d"/><stop offset="0.1190" stop-color="#ff504d"/><stop offset="0.2857" stop-color="#feff4d"/><stop offset="0.5238" stop-color="#4dffff"/><stop offset="0.6548" stop-color="#4d79ff"/><stop offset="0.7024" stop-color="#4d4fff"/><stop offset="0.8095" stop-color="#4d4ded"/><stop offset="1.0000" stop-color="#4d4ded"/></linearGradient><linearGradient id="sdg82" gradientUnits="userSpaceOnUse" x1="0" y1="280" x2="0" y2="406"><stop offset="0.0000" stop-color="#c94d4d"/><stop offset="0.1071" stop-color="#fb4d4d"/><stop offset="0.1190" stop-color="#ff504d"/><stop offset="0.2857" stop-color="#ffff4d"/><stop offset="0.5238" stop-color="#4dffff"/><stop offset="0.6548" stop-color="#4d79ff"/><stop offset="0.7024" stop-color="#4d4fff"/><stop offset="0.7976" stop-color="#4d4ded"/><stop offset="1.0000" stop-color="#4d4ded"/></linearGradient><linearGradient id="sdg83" gradientUnits="userSpaceOnUse" x1="0" y1="280" x2="0" y2="406"><stop offset="0.0000" stop-color="#c94d4d"/><stop offset="0.1071" stop-color="#fb4d4d"/><stop offset="0.1190" stop-color="#ff4f4d"/><stop offset="0.2857" stop-color="#ffff4d"/><stop offset="0.5238" stop-color="#4dffff"/><stop offset="0.6667" stop-color="#4d6eff"/><stop offset="0.7024" stop-color="#4d4fff"/><stop offset="0.7976" stop-color="#4d4def"/><stop offset="1.0000" stop-color="#4d4def"/></linearGradient><linearGradient id="sdg84" gradientUnits="userSpaceOnUse" x1="0" y1="280" x2="0" y2="406"><stop offset="0.0000" stop-color="#c94d4d"/><stop offset="0.1190" stop-color="#ff4f4d"/><stop offset="0.2857" stop-color="#ffff4d"/><stop offset="0.5238" stop-color="#4dffff"/><stop offset="0.6667" stop-color="#4d6fff"/><stop offset="0.7024" stop-color="#4d50ff"/><stop offset="0.7976" stop-color="#4d4def"/><stop offset="1.0000" stop-color="#4d4def"/></linearGradient><linearGradient id="sdg85" gradientUnits="userSpaceOnUse" x1="0" y1="280" x2="0" y2="406"><stop offset="0.0000" stop-color="#c94d4d"/><stop offset="0.1190" stop-color="#ff4f4d"/><stop offset="0.2857" stop-color="#ffff4d"/><stop offset="0.5238" stop-color="#4dfffe"/><stop offset="0.6667" stop-color="#4d6fff"/><stop offset="0.7024" stop-color="#4d50ff"/><stop offset="0.7857" stop-color="#4d4df2"/><stop offset="1.0000" stop-color="#4d4df2"/></linearGradient><linearGradient id="sdg86" gradientUnits="userSpaceOnUse" x1="0" y1="280" x2="0" y2="406"><stop offset="0.0000" stop-color="#c84d4d"/><stop offset="0.1190" stop-color="#ff4e4d"/><stop offset="0.2857" stop-color="#fffe4d"/><stop offset="0.5238" stop-color="#4dfffe"/><stop offset="0.6667" stop-color="#4d6fff"/><stop offset="0.7024" stop-color="#4d50ff"/><stop offset="0.7857" stop-color="#4d4df2"/><stop offset="1.0000" stop-color="#4d4df2"/></linearGradient><linearGradient id="sdg87" gradientUnits="userSpaceOnUse" x1="0" y1="280" x2="0" y2="406"><stop offset="0.0000" stop-color="#c84d4d"/><stop offset="0.1190" stop-color="#ff4e4d"/><stop offset="0.2857" stop-color="#fffe4d"/><stop offset="0.5238" stop-color="#4dfffe"/><stop offset="0.6667" stop-color="#4d6fff"/><stop offset="0.7024" stop-color="#4d50ff"/><stop offset="0.7738" stop-color="#4d4df4"/><stop offset="1.0000" stop-color="#4d4df4"/></linearGradient><linearGradient id="sdg88" gradientUnits="userSpaceOnUse" x1="0" y1="280" x2="0" y2="406"><stop offset="0.0000" stop-color="#c84d4d"/><stop offset="0.1190" stop-color="#ff4e4d"/><stop offset="0.2857" stop-color="#fffe4d"/><stop offset="0.5238" stop-color="#4dfffe"/><stop offset="0.6667" stop-color="#4d6fff"/><stop offset="0.7024" stop-color="#4d50ff"/><stop offset="0.7738" stop-color="#4d4df4"/><stop offset="1.0000" stop-color="#4d4df4"/></linearGradient><linearGradient id="sdg89" gradientUnits="userSpaceOnUse" x1="0" y1="280" x2="0" y2="406"><stop offset="0.0000" stop-color="#c84d4d"/><stop offset="0.1190" stop-color="#ff4e4d"/><stop offset="0.2857" stop-color="#fffe4d"/><stop offset="0.5238" stop-color="#4dfffe"/><stop offset="0.6786" stop-color="#4d64ff"/><stop offset="0.7024" stop-color="#4d50ff"/><stop offset="0.7619" stop-color="#4d4df7"/><stop offset="1.0000" stop-color="#4d4df7"/></linearGradient><linearGradient id="sdg90" gradientUnits="userSpaceOnUse" x1="0" y1="280" x2="0" y2="406"><stop offset="0.0000" stop-color="#c84d4d"/><stop offset="0.1190" stop-color="#ff4e4d"/><stop offset="0.2857" stop-color="#fffe4d"/><stop offset="0.5238" stop-color="#4dfffe"/><stop offset="0.6786" stop-color="#4d64ff"/><stop offset="0.7024" stop-color="#4d50ff"/><stop offset="0.7619" stop-color="#4d4df7"/><stop offset="1.0000" stop-color="#4d4df7"/></linearGradient><linearGradient id="sdg91" gradientUnits="userSpaceOnUse" x1="0" y1="280" x2="0" y2="406"><stop offset="0.0000" stop-color="#c84d4d"/><stop offset="0.1190" stop-color="#ff4e4d"/><stop offset="0.2857" stop-color="#fffe4d"/><stop offset="0.5238" stop-color="#4dfffe"/><stop offset="0.6667" stop-color="#4d6fff"/><stop offset="0.7024" stop-color="#4d4fff"/><stop offset="0.7619" stop-color="#4d4dfa"/><stop offset="1.0000" stop-color="#4d4dfa"/></linearGradient><linearGradient id="sdg92" gradientUnits="userSpaceOnUse" x1="0" y1="280" x2="0" y2="406"><stop offset="0.0000" stop-color="#c84d4d"/><stop offset="0.1190" stop-color="#ff4e4d"/><stop offset="0.2857" stop-color="#fffe4d"/><stop offset="0.5238" stop-color="#4dfffe"/><stop offset="0.6667" stop-color="#4d6fff"/><stop offset="0.7024" stop-color="#4d4fff"/><stop offset="0.7619" stop-color="#4d4df9"/><stop offset="1.0000" stop-color="#4d4df9"/></linearGradient><linearGradient id="sdg93" gradientUnits="userSpaceOnUse" x1="0" y1="280" x2="0" y2="406"><stop offset="0.0000" stop-color="#c84d4d"/><stop offset="0.1190" stop-color="#ff4e4d"/><stop offset="0.2857" stop-color="#fffe4d"/><stop offset="0.5238" stop-color="#4dfffe"/><stop offset="0.6667" stop-color="#4d6eff"/><stop offset="0.7024" stop-color="#4d4fff"/><stop offset="0.7976" stop-color="#4d4dfc"/><stop offset="1.0000" stop-color="#4d4dfc"/></linearGradient><linearGradient id="sdg94" gradientUnits="userSpaceOnUse" x1="0" y1="280" x2="0" y2="406"><stop offset="0.0000" stop-color="#c84d4d"/><stop offset="0.1190" stop-color="#ff4e4d"/><stop offset="0.2857" stop-color="#fffe4d"/><stop offset="0.5238" stop-color="#4dffff"/><stop offset="0.6667" stop-color="#4d6eff"/><stop offset="0.7024" stop-color="#4d4fff"/><stop offset="0.8452" stop-color="#4d4dfc"/><stop offset="1.0000" stop-color="#4d4dfc"/></linearGradient><linearGradient id="sdg95" gradientUnits="userSpaceOnUse" x1="0" y1="280" x2="0" y2="406"><stop offset="0.0000" stop-color="#c84d4d"/><stop offset="0.1190" stop-color="#ff4e4d"/><stop offset="0.2857" stop-color="#fffe4d"/><stop offset="0.5238" stop-color="#4dffff"/><stop offset="0.6667" stop-color="#4d6dff"/><stop offset="0.7024" stop-color="#4d4fff"/><stop offset="1.0000" stop-color="#4d4dff"/></linearGradient><linearGradient id="sdg96" gradientUnits="userSpaceOnUse" x1="0" y1="280" x2="0" y2="406"><stop offset="0.0000" stop-color="#c84d4d"/><stop offset="0.1190" stop-color="#ff4e4d"/><stop offset="0.2857" stop-color="#fffe4d"/><stop offset="0.5238" stop-color="#4dffff"/><stop offset="0.6548" stop-color="#4d78ff"/><stop offset="0.7024" stop-color="#4d4fff"/><stop offset="1.0000" stop-color="#4d4dff"/></linearGradient><linearGradient id="sdg97" gradientUnits="userSpaceOnUse" x1="0" y1="280" x2="0" y2="406"><stop offset="0.0000" stop-color="#c84d4d"/><stop offset="0.1190" stop-color="#ff4e4d"/><stop offset="0.2857" stop-color="#fffe4d"/><stop offset="0.5238" stop-color="#4dffff"/><stop offset="0.6548" stop-color="#4d78ff"/><stop offset="0.6905" stop-color="#4d56ff"/><stop offset="0.7024" stop-color="#4d4fff"/><stop offset="1.0000" stop-color="#4d4fff"/></linearGradient><linearGradient id="sdg98" gradientUnits="userSpaceOnUse" x1="0" y1="280" x2="0" y2="406"><stop offset="0.0000" stop-color="#c84d4d"/><stop offset="0.1190" stop-color="#ff4e4d"/><stop offset="0.2857" stop-color="#ffff4d"/><stop offset="0.5238" stop-color="#4dfeff"/><stop offset="0.6548" stop-color="#4d77ff"/><stop offset="0.6905" stop-color="#4d56ff"/><stop offset="0.7024" stop-color="#4d4fff"/><stop offset="1.0000" stop-color="#4d4fff"/></linearGradient><linearGradient id="sdg99" gradientUnits="userSpaceOnUse" x1="0" y1="280" x2="0" y2="406"><stop offset="0.0000" stop-color="#c84d4d"/><stop offset="0.1190" stop-color="#ff4e4d"/><stop offset="0.2857" stop-color="#ffff4d"/><stop offset="0.5238" stop-color="#4dfeff"/><stop offset="0.6548" stop-color="#4d77ff"/><stop offset="0.6905" stop-color="#4d55ff"/><stop offset="1.0000" stop-color="#4d55ff"/></linearGradient><linearGradient id="sdg100" gradientUnits="userSpaceOnUse" x1="0" y1="280" x2="0" y2="406"><stop offset="0.0000" stop-color="#c84d4d"/><stop offset="0.1190" stop-color="#ff4f4d"/><stop offset="0.2857" stop-color="#ffff4d"/><stop offset="0.5238" stop-color="#4dfdff"/><stop offset="0.6548" stop-color="#4d76ff"/><stop offset="0.6905" stop-color="#4d54ff"/><stop offset="1.0000" stop-color="#4d54ff"/></linearGradient><linearGradient id="sdg101" gradientUnits="userSpaceOnUse" x1="0" y1="280" x2="0" y2="406"><stop offset="0.0000" stop-color="#c84d4d"/><stop offset="0.1190" stop-color="#ff4f4d"/><stop offset="0.2857" stop-color="#ffff4d"/><stop offset="0.5119" stop-color="#53fff8"/><stop offset="0.5238" stop-color="#4dfdff"/><stop offset="0.6548" stop-color="#4d75ff"/><stop offset="0.6786" stop-color="#4d5fff"/><stop offset="1.0000" stop-color="#4d5fff"/></linearGradient><linearGradient id="sdg102" gradientUnits="userSpaceOnUse" x1="0" y1="280" x2="0" y2="406"><stop offset="0.0000" stop-color="#c94d4d"/><stop offset="0.1190" stop-color="#ff4f4d"/><stop offset="0.2857" stop-color="#feff4d"/><stop offset="0.5119" stop-color="#53fff9"/><stop offset="0.5238" stop-color="#4dfcff"/><stop offset="0.6548" stop-color="#4d74ff"/><stop offset="0.6786" stop-color="#4d5eff"/><stop offset="1.0000" stop-color="#4d5eff"/></linearGradient><linearGradient id="sdg103" gradientUnits="userSpaceOnUse" x1="0" y1="280" x2="0" y2="406"><stop offset="0.0000" stop-color="#c94d4d"/><stop offset="0.1071" stop-color="#fb4d4d"/><stop offset="0.1190" stop-color="#ff504d"/><stop offset="0.2857" stop-color="#feff4e"/><stop offset="0.5119" stop-color="#53fff9"/><stop offset="0.5238" stop-color="#4dfbff"/><stop offset="0.6548" stop-color="#4d74ff"/><stop offset="0.6667" stop-color="#4d68ff"/><stop offset="1.0000" stop-color="#4d68ff"/></linearGradient><linearGradient id="sdg104" gradientUnits="userSpaceOnUse" x1="0" y1="280" x2="0" y2="406"><stop offset="0.0000" stop-color="#c94d4d"/><stop offset="0.1071" stop-color="#fb4d4d"/><stop offset="0.1190" stop-color="#ff504d"/><stop offset="0.2738" stop-color="#fff54d"/><stop offset="0.2857" stop-color="#feff4e"/><stop offset="0.5119" stop-color="#52fff9"/><stop offset="0.5238" stop-color="#4dfaff"/><stop offset="0.6548" stop-color="#4d73ff"/><stop offset="0.6667" stop-color="#4d67ff"/><stop offset="1.0000" stop-color="#4d67ff"/></linearGradient><linearGradient id="sdg105" gradientUnits="userSpaceOnUse" x1="0" y1="280" x2="0" y2="406"><stop offset="0.0000" stop-color="#c94d4d"/><stop offset="0.1071" stop-color="#fb4d4d"/><stop offset="0.1190" stop-color="#ff504d"/><stop offset="0.2738" stop-color="#fff54d"/><stop offset="0.2857" stop-color="#fdff4e"/><stop offset="0.5119" stop-color="#51fffa"/><stop offset="0.5238" stop-color="#4df9ff"/><stop offset="0.6548" stop-color="#4d72ff"/><stop offset="1.0000" stop-color="#4d72ff"/></linearGradient><linearGradient id="sdg106" gradientUnits="userSpaceOnUse" x1="0" y1="280" x2="0" y2="406"><stop offset="0.0000" stop-color="#c94d4d"/><stop offset="0.1071" stop-color="#fb4d4d"/><stop offset="0.1190" stop-color="#ff514d"/><stop offset="0.2738" stop-color="#fff64d"/><stop offset="0.2857" stop-color="#fdff4f"/><stop offset="0.5119" stop-color="#51fffb"/><stop offset="0.5238" stop-color="#4df9ff"/><stop offset="0.6548" stop-color="#4d71ff"/><stop offset="1.0000" stop-color="#4d71ff"/></linearGradient><linearGradient id="sdg107" gradientUnits="userSpaceOnUse" x1="0" y1="280" x2="0" y2="406"><stop offset="0.0000" stop-color="#c94d4d"/><stop offset="0.1071" stop-color="#fc4d4d"/><stop offset="0.1190" stop-color="#ff514d"/><stop offset="0.2738" stop-color="#fff64d"/><stop offset="0.2857" stop-color="#fcff4f"/><stop offset="0.5119" stop-color="#50fffb"/><stop offset="0.5238" stop-color="#4df8ff"/><stop offset="0.6429" stop-color="#4d7bff"/><stop offset="1.0000" stop-color="#4d7bff"/></linearGradient><linearGradient id="sdg108" gradientUnits="userSpaceOnUse" x1="0" y1="280" x2="0" y2="406"><stop offset="0.0000" stop-color="#ca4d4d"/><stop offset="0.1071" stop-color="#fc4d4d"/><stop offset="0.1190" stop-color="#ff524d"/><stop offset="0.2738" stop-color="#fff74d"/><stop offset="0.2857" stop-color="#fcff50"/><stop offset="0.5119" stop-color="#50fffc"/><stop offset="0.5357" stop-color="#4deaff"/><stop offset="0.6429" stop-color="#4d7aff"/><stop offset="1.0000" stop-color="#4d7aff"/></linearGradient><linearGradient id="sdg109" gradientUnits="userSpaceOnUse" x1="0" y1="280" x2="0" y2="406"><stop offset="0.0000" stop-color="#ca4d4d"/><stop offset="0.1071" stop-color="#fc4d4d"/><stop offset="0.1190" stop-color="#ff524d"/><stop offset="0.2738" stop-color="#fff84d"/><stop offset="0.2857" stop-color="#fbff50"/><stop offset="0.5119" stop-color="#4ffffd"/><stop offset="0.5476" stop-color="#4ddcff"/><stop offset="0.6310" stop-color="#4d85ff"/><stop offset="1.0000" stop-color="#4d85ff"/></linearGradient><linearGradient id="sdg110" gradientUnits="userSpaceOnUse" x1="0" y1="280" x2="0" y2="406"><stop offset="0.0000" stop-color="#ca4d4d"/><stop offset="0.1071" stop-color="#fc4d4d"/><stop offset="0.1190" stop-color="#ff534d"/><stop offset="0.2738" stop-color="#fff84d"/><stop offset="0.2857" stop-color="#fbff51"/><stop offset="0.5119" stop-color="#4efffd"/><stop offset="0.6190" stop-color="#4d8fff"/><stop offset="1.0000" stop-color="#4d8fff"/></linearGradient><linearGradient id="sdg111" gradientUnits="userSpaceOnUse" x1="0" y1="280" x2="0" y2="406"><stop offset="0.0000" stop-color="#ca4d4d"/><stop offset="0.1071" stop-color="#fd4d4d"/><stop offset="0.1190" stop-color="#ff544d"/><stop offset="0.2738" stop-color="#fff94d"/><stop offset="0.2857" stop-color="#faff51"/><stop offset="0.5119" stop-color="#4efffe"/><stop offset="0.6190" stop-color="#4d8eff"/><stop offset="1.0000" stop-color="#4d8eff"/></linearGradient><linearGradient id="sdg112" gradientUnits="userSpaceOnUse" x1="0" y1="280" x2="0" y2="406"><stop offset="0.0000" stop-color="#cb4d4d"/><stop offset="0.1071" stop-color="#fd4d4d"/><stop offset="0.1190" stop-color="#ff544d"/><stop offset="0.2738" stop-color="#fffa4d"/><stop offset="0.2857" stop-color="#faff52"/><stop offset="0.5119" stop-color="#4dffff"/><stop offset="0.6071" stop-color="#4d99ff"/><stop offset="1.0000" stop-color="#4d99ff"/></linearGradient><linearGradient id="sdg113" gradientUnits="userSpaceOnUse" x1="0" y1="280" x2="0" y2="406"><stop offset="0.0000" stop-color="#cb4d4d"/><stop offset="0.1071" stop-color="#fd4d4d"/><stop offset="0.1310" stop-color="#ff624d"/><stop offset="0.2738" stop-color="#fffb4d"/><stop offset="0.2976" stop-color="#f0ff5c"/><stop offset="0.5119" stop-color="#4dfeff"/><stop offset="0.6071" stop-color="#4d98ff"/><stop offset="1.0000" stop-color="#4d98ff"/></linearGradient><linearGradient id="sdg114" gradientUnits="userSpaceOnUse" x1="0" y1="280" x2="0" y2="406"><stop offset="0.0000" stop-color="#cb4d4d"/><stop offset="0.1071" stop-color="#fd4d4d"/><stop offset="0.1429" stop-color="#ff704d"/><stop offset="0.2738" stop-color="#fffc4d"/><stop offset="0.3095" stop-color="#e6ff66"/><stop offset="0.5119" stop-color="#4dfdff"/><stop offset="0.5952" stop-color="#4da3ff"/><stop offset="1.0000" stop-color="#4da3ff"/></linearGradient><clipPath id="clipsd"><path d="M430.70,366.50 L572.00,283.50 L587.30,283.50 L660.60,327.50 L660.60,356.55 L541.40,402.70 Z"/></clipPath></defs>
<g clip-path="url(#clipsd)"><rect x="432" y="280" width="2" height="126" fill="url(#sdg0)"/><rect x="434" y="280" width="2" height="126" fill="url(#sdg1)"/><rect x="436" y="280" width="2" height="126" fill="url(#sdg2)"/><rect x="438" y="280" width="2" height="126" fill="url(#sdg3)"/><rect x="440" y="280" width="2" height="126" fill="url(#sdg4)"/><rect x="442" y="280" width="2" height="126" fill="url(#sdg5)"/><rect x="444" y="280" width="2" height="126" fill="url(#sdg6)"/><rect x="446" y="280" width="2" height="126" fill="url(#sdg7)"/><rect x="448" y="280" width="2" height="126" fill="url(#sdg8)"/><rect x="450" y="280" width="2" height="126" fill="url(#sdg9)"/><rect x="452" y="280" width="2" height="126" fill="url(#sdg10)"/><rect x="454" y="280" width="2" height="126" fill="url(#sdg11)"/><rect x="456" y="280" width="2" height="126" fill="url(#sdg12)"/><rect x="458" y="280" width="2" height="126" fill="url(#sdg13)"/><rect x="460" y="280" width="2" height="126" fill="url(#sdg14)"/><rect x="462" y="280" width="2" height="126" fill="url(#sdg15)"/><rect x="464" y="280" width="2" height="126" fill="url(#sdg16)"/><rect x="466" y="280" width="2" height="126" fill="url(#sdg17)"/><rect x="468" y="280" width="2" height="126" fill="url(#sdg18)"/><rect x="470" y="280" width="2" height="126" fill="url(#sdg19)"/><rect x="472" y="280" width="2" height="126" fill="url(#sdg20)"/><rect x="474" y="280" width="2" height="126" fill="url(#sdg21)"/><rect x="476" y="280" width="2" height="126" fill="url(#sdg22)"/><rect x="478" y="280" width="2" height="126" fill="url(#sdg23)"/><rect x="480" y="280" width="2" height="126" fill="url(#sdg24)"/><rect x="482" y="280" width="2" height="126" fill="url(#sdg25)"/><rect x="484" y="280" width="2" height="126" fill="url(#sdg26)"/><rect x="486" y="280" width="2" height="126" fill="url(#sdg27)"/><rect x="488" y="280" width="2" height="126" fill="url(#sdg28)"/><rect x="490" y="280" width="2" height="126" fill="url(#sdg29)"/><rect x="492" y="280" width="2" height="126" fill="url(#sdg30)"/><rect x="494" y="280" width="2" height="126" fill="url(#sdg31)"/><rect x="496" y="280" width="2" height="126" fill="url(#sdg32)"/><rect x="498" y="280" width="2" height="126" fill="url(#sdg33)"/><rect x="500" y="280" width="2" height="126" fill="url(#sdg34)"/><rect x="502" y="280" width="2" height="126" fill="url(#sdg35)"/><rect x="504" y="280" width="2" height="126" fill="url(#sdg36)"/><rect x="506" y="280" width="2" height="126" fill="url(#sdg37)"/><rect x="508" y="280" width="2" height="126" fill="url(#sdg38)"/><rect x="510" y="280" width="2" height="126" fill="url(#sdg39)"/><rect x="512" y="280" width="2" height="126" fill="url(#sdg40)"/><rect x="514" y="280" width="2" height="126" fill="url(#sdg41)"/><rect x="516" y="280" width="2" height="126" fill="url(#sdg42)"/><rect x="518" y="280" width="2" height="126" fill="url(#sdg43)"/><rect x="520" y="280" width="2" height="126" fill="url(#sdg44)"/><rect x="522" y="280" width="2" height="126" fill="url(#sdg45)"/><rect x="524" y="280" width="2" height="126" fill="url(#sdg46)"/><rect x="526" y="280" width="2" height="126" fill="url(#sdg47)"/><rect x="528" y="280" width="2" height="126" fill="url(#sdg48)"/><rect x="530" y="280" width="2" height="126" fill="url(#sdg49)"/><rect x="532" y="280" width="2" height="126" fill="url(#sdg50)"/><rect x="534" y="280" width="2" height="126" fill="url(#sdg51)"/><rect x="536" y="280" width="2" height="126" fill="url(#sdg52)"/><rect x="538" y="280" width="2" height="126" fill="url(#sdg53)"/><rect x="540" y="280" width="2" height="126" fill="url(#sdg54)"/><rect x="542" y="280" width="2" height="126" fill="url(#sdg55)"/><rect x="544" y="280" width="2" height="126" fill="url(#sdg56)"/><rect x="546" y="280" width="2" height="126" fill="url(#sdg57)"/><rect x="548" y="280" width="2" height="126" fill="url(#sdg58)"/><rect x="550" y="280" width="2" height="126" fill="url(#sdg59)"/><rect x="552" y="280" width="2" height="126" fill="url(#sdg60)"/><rect x="554" y="280" width="2" height="126" fill="url(#sdg61)"/><rect x="556" y="280" width="2" height="126" fill="url(#sdg62)"/><rect x="558" y="280" width="2" height="126" fill="url(#sdg63)"/><rect x="560" y="280" width="2" height="126" fill="url(#sdg64)"/><rect x="562" y="280" width="2" height="126" fill="url(#sdg65)"/><rect x="564" y="280" width="2" height="126" fill="url(#sdg66)"/><rect x="566" y="280" width="2" height="126" fill="url(#sdg67)"/><rect x="568" y="280" width="2" height="126" fill="url(#sdg68)"/><rect x="570" y="280" width="2" height="126" fill="url(#sdg69)"/><rect x="572" y="280" width="2" height="126" fill="url(#sdg70)"/><rect x="574" y="280" width="2" height="126" fill="url(#sdg71)"/><rect x="576" y="280" width="2" height="126" fill="url(#sdg72)"/><rect x="578" y="280" width="2" height="126" fill="url(#sdg73)"/><rect x="580" y="280" width="2" height="126" fill="url(#sdg74)"/><rect x="582" y="280" width="2" height="126" fill="url(#sdg75)"/><rect x="584" y="280" width="2" height="126" fill="url(#sdg76)"/><rect x="586" y="280" width="2" height="126" fill="url(#sdg77)"/><rect x="588" y="280" width="2" height="126" fill="url(#sdg78)"/><rect x="590" y="280" width="2" height="126" fill="url(#sdg79)"/><rect x="592" y="280" width="2" height="126" fill="url(#sdg80)"/><rect x="594" y="280" width="2" height="126" fill="url(#sdg81)"/><rect x="596" y="280" width="2" height="126" fill="url(#sdg82)"/><rect x="598" y="280" width="2" height="126" fill="url(#sdg83)"/><rect x="600" y="280" width="2" height="126" fill="url(#sdg84)"/><rect x="602" y="280" width="2" height="126" fill="url(#sdg85)"/><rect x="604" y="280" width="2" height="126" fill="url(#sdg86)"/><rect x="606" y="280" width="2" height="126" fill="url(#sdg87)"/><rect x="608" y="280" width="2" height="126" fill="url(#sdg88)"/><rect x="610" y="280" width="2" height="126" fill="url(#sdg89)"/><rect x="612" y="280" width="2" height="126" fill="url(#sdg90)"/><rect x="614" y="280" width="2" height="126" fill="url(#sdg91)"/><rect x="616" y="280" width="2" height="126" fill="url(#sdg92)"/><rect x="618" y="280" width="2" height="126" fill="url(#sdg93)"/><rect x="620" y="280" width="2" height="126" fill="url(#sdg94)"/><rect x="622" y="280" width="2" height="126" fill="url(#sdg95)"/><rect x="624" y="280" width="2" height="126" fill="url(#sdg96)"/><rect x="626" y="280" width="2" height="126" fill="url(#sdg97)"/><rect x="628" y="280" width="2" height="126" fill="url(#sdg98)"/><rect x="630" y="280" width="2" height="126" fill="url(#sdg99)"/><rect x="632" y="280" width="2" height="126" fill="url(#sdg100)"/><rect x="634" y="280" width="2" height="126" fill="url(#sdg101)"/><rect x="636" y="280" width="2" height="126" fill="url(#sdg102)"/><rect x="638" y="280" width="2" height="126" fill="url(#sdg103)"/><rect x="640" y="280" width="2" height="126" fill="url(#sdg104)"/><rect x="642" y="280" width="2" height="126" fill="url(#sdg105)"/><rect x="644" y="280" width="2" height="126" fill="url(#sdg106)"/><rect x="646" y="280" width="2" height="126" fill="url(#sdg107)"/><rect x="648" y="280" width="2" height="126" fill="url(#sdg108)"/><rect x="650" y="280" width="2" height="126" fill="url(#sdg109)"/><rect x="652" y="280" width="2" height="126" fill="url(#sdg110)"/><rect x="654" y="280" width="2" height="126" fill="url(#sdg111)"/><rect x="656" y="280" width="2" height="126" fill="url(#sdg112)"/><rect x="658" y="280" width="2" height="126" fill="url(#sdg113)"/><rect x="660" y="280" width="2" height="126" fill="url(#sdg114)"/></g>
<path d="M430.70,391.80 L541.40,428.00 M541.40,428.00 L660.60,394.50 M541.40,428.00 L537.93,428.97 M486.05,409.90 L482.58,410.87 M430.70,391.80 L427.23,392.77 M541.40,428.00 L544.82,429.12 M571.20,419.62 L574.62,420.74 M601.00,411.25 L604.42,412.37 M630.80,402.88 L634.22,403.99 M660.60,394.50 L664.02,395.62" stroke="#3a3a3a" stroke-width="1" fill="none"/>
<path d="M430.70,391.80 L430.70,315.90 M430.70,391.80 L427.28,390.68 M430.70,366.50 L427.28,365.38 M430.70,341.20 L427.28,340.08 M430.70,315.90 L427.28,314.78" stroke="#777" stroke-width="1" fill="none"/>
<text x="360.31" y="24.70" font-size="24" fill="#000" textLength="33.48" lengthAdjust="spacing">(b)</text>
<text x="426.60" y="26.63" font-size="17" fill="#333" textLength="29.11" lengthAdjust="spacingAndGlyphs" >x10</text>
<text x="456.46" y="15.88" font-size="10" fill="#333" textLength="10.64" lengthAdjust="spacing">-4</text>
<text x="415.11" y="60.60" font-size="17" fill="#000" >4</text>
<text x="414.95" y="100.77" font-size="17" fill="#000" >2</text>
<text x="415.24" y="138.47" font-size="17" fill="#000" >0</text>
<text x="403.44" y="152.97" font-size="17" fill="#000" >0.6</text>
<text x="453.94" y="171.77" font-size="17" fill="#000" >0.4</text>
<text x="503.54" y="190.07" font-size="17" fill="#000" >0.2</text>
<text x="535.54" y="190.67" font-size="17" fill="#000" >0</text>
<text x="568.15" y="183.87" font-size="17" fill="#000" >20</text>
<text x="600.51" y="176.67" font-size="17" fill="#000" >40</text>
<text x="632.94" y="169.37" font-size="17" fill="#000" >60</text>
<text x="665.26" y="162.17" font-size="17" fill="#000" >80</text>
<text x="430.20" y="195.84" font-size="22" fill="#000" textLength="54.77" lengthAdjust="spacingAndGlyphs" >μ(eV)</text>
<text x="609.34" y="199.04" font-size="22" fill="#000" textLength="59.39" lengthAdjust="spacingAndGlyphs" >λ(μm)</text>
<text transform="translate(386.30,135.48) rotate(-90)" x="0" y="0" font-size="22" fill="#000" textLength="79.85" lengthAdjust="spacingAndGlyphs">Re(σ)(S)</text>
<text x="360.31" y="269.10" font-size="24" fill="#000" textLength="33.48" lengthAdjust="spacing">(d)</text>
<text x="426.60" y="278.93" font-size="17" fill="#333" textLength="29.11" lengthAdjust="spacingAndGlyphs" >x10</text>
<text x="456.46" y="268.28" font-size="10" fill="#333" textLength="10.78" lengthAdjust="spacing">-3</text>
<text x="415.11" y="317.80" font-size="17" fill="#000" >4</text>
<text x="415.25" y="342.57" font-size="17" fill="#000" >2</text>
<text x="415.24" y="368.87" font-size="17" fill="#000" >0</text>
<text x="406.86" y="390.67" font-size="17" fill="#000" >−2</text>
<text x="403.44" y="405.67" font-size="17" fill="#000" >0.6</text>
<text x="458.74" y="423.47" font-size="17" fill="#000" >0.4</text>
<text x="514.84" y="441.87" font-size="17" fill="#000" >0.2</text>
<text x="546.34" y="442.57" font-size="17" fill="#000" >0</text>
<text x="574.65" y="434.87" font-size="17" fill="#000" >20</text>
<text x="604.61" y="427.27" font-size="17" fill="#000" >40</text>
<text x="633.74" y="419.57" font-size="17" fill="#000" >60</text>
<text x="663.46" y="409.77" font-size="17" fill="#000" >80</text>
<text x="441.29" y="447.44" font-size="22" fill="#000" textLength="55.41" lengthAdjust="spacingAndGlyphs" >μ(eV)</text>
<text x="620.24" y="450.84" font-size="22" fill="#000" textLength="59.59" lengthAdjust="spacingAndGlyphs" >λ(μm)</text>
<text transform="translate(386.00,388.22) rotate(-90)" x="0" y="0" font-size="22" fill="#000" textLength="81.58" lengthAdjust="spacingAndGlyphs">Im(σ)(S)</text>
</svg>
</body></html>
